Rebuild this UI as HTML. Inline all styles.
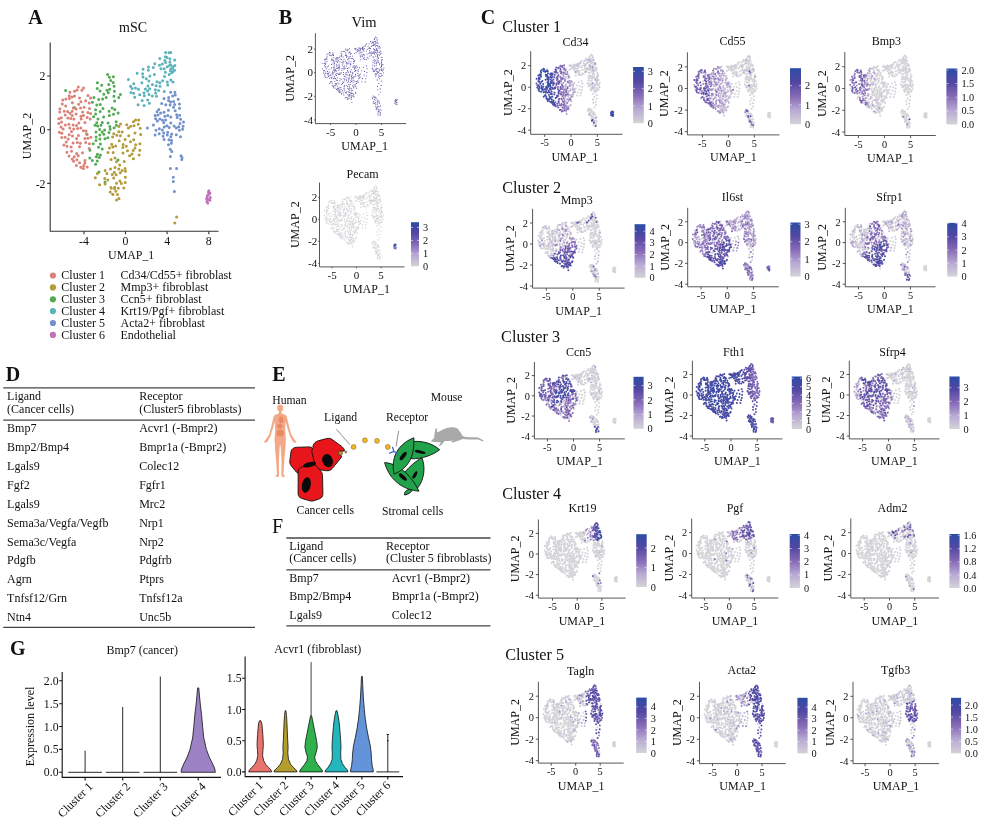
<!DOCTYPE html>
<html><head><meta charset="utf-8"><style>
html,body{margin:0;padding:0;background:#fff;width:984px;height:821px;overflow:hidden}
svg{display:block;filter:blur(0.3px)}
text{font-family:"Liberation Serif","Times New Roman",serif;fill:#111}
</style></head><body>
<svg width="984" height="821" viewBox="0 0 984 821">
<defs><linearGradient id="cbg" x1="0" y1="1" x2="0" y2="0"><stop offset="0.0" stop-color="#d4d3d8"/><stop offset="0.25" stop-color="#b8a9d4"/><stop offset="0.5" stop-color="#866ab6"/><stop offset="0.75" stop-color="#5247a2"/><stop offset="1.0" stop-color="#2c4ca6"/></linearGradient></defs>
<g stroke-width="1.12" stroke-linecap="round"><path d="M344.6 65.7h0" stroke="#7d64b3"/><path d="M354.6 81.0h0M354.5 65.8h0M366.6 43.9h0M377.6 89.7h0M377.2 102.2h0" stroke="#755eaf"/><path d="M353.7 94.5h0M341.5 56.8h0M349.6 78.7h0M332.8 59.3h0M349.5 74.4h0M344.7 90.8h0M343.0 56.9h0M333.0 63.7h0M347.6 50.6h0M337.3 77.7h0M344.5 51.2h0M340.7 73.8h0M354.5 68.9h0M363.4 46.8h0M375.5 46.8h0M373.3 71.6h0M377.9 54.5h0M375.6 60.8h0M380.3 92.3h0M380.5 105.9h0" stroke="#6c58ac"/><path d="M341.3 72.8h0M325.6 73.5h0M355.4 66.9h0M327.1 56.9h0M343.8 82.4h0M351.2 53.5h0M353.0 95.5h0M349.7 90.6h0M358.4 78.7h0M346.1 50.1h0M334.8 81.2h0M339.8 68.7h0M346.3 92.9h0M326.4 68.8h0M353.5 59.2h0M336.2 73.6h0M325.2 62.0h0M336.4 64.2h0M324.5 74.7h0M332.2 73.7h0M344.0 59.2h0M337.9 65.3h0M343.3 66.7h0M331.5 67.9h0M342.1 68.6h0M338.2 60.9h0M358.4 69.8h0M348.8 95.9h0M340.0 56.1h0M340.0 78.5h0M331.4 55.8h0M337.4 86.0h0M346.1 79.6h0M334.6 71.9h0M350.4 56.3h0M349.3 92.2h0M335.9 85.1h0M337.8 83.0h0M324.4 59.9h0M334.4 76.3h0M342.3 65.1h0M337.4 62.4h0M339.7 90.2h0M348.0 49.4h0M352.5 56.0h0M330.6 55.3h0M349.6 94.4h0M351.6 95.9h0M344.1 88.1h0M367.3 49.2h0M359.0 53.7h0M361.6 54.8h0M371.9 51.9h0M361.9 48.2h0M370.7 52.8h0M368.1 46.1h0M375.0 45.5h0M359.4 48.8h0M370.6 41.4h0M374.3 44.6h0M370.6 48.6h0M373.1 52.8h0M373.7 69.9h0M383.6 72.8h0M383.1 64.8h0M381.7 75.8h0M382.8 75.2h0M373.2 53.1h0M374.7 61.3h0M377.2 73.4h0M376.6 48.6h0M377.1 59.1h0M380.0 50.7h0M378.5 58.3h0M372.8 65.1h0M376.0 63.2h0M357.8 51.8h0M354.5 48.8h0M358.6 50.4h0M354.6 53.5h0M356.1 52.6h0M380.2 88.9h0M377.5 86.4h0M378.9 94.8h0M372.6 98.9h0M375.7 104.2h0M380.5 112.9h0M376.2 98.1h0M377.6 100.9h0M378.0 100.0h0M397.1 102.7h0M396.0 102.4h0" stroke="#6353a9"/><path d="M345.9 54.1h0M333.5 55.4h0M352.4 77.5h0M331.8 78.7h0M348.4 92.0h0M346.5 62.6h0M341.4 55.5h0M353.2 82.3h0M343.8 95.0h0M343.1 93.1h0M355.3 84.2h0M335.6 74.7h0M322.6 68.7h0M352.3 75.0h0M359.4 74.9h0M331.6 59.1h0M349.9 96.7h0M323.6 70.8h0M345.4 92.5h0M355.7 92.2h0M334.5 63.6h0M346.9 91.2h0M339.5 67.2h0M327.2 66.9h0M344.1 86.6h0M347.8 82.7h0M350.9 92.5h0M349.5 48.7h0M351.7 81.4h0M351.0 61.7h0M342.7 81.8h0M349.2 58.0h0M351.4 99.2h0M334.0 85.9h0M331.5 81.5h0M349.0 56.7h0M343.1 61.1h0M329.5 55.1h0M350.4 82.2h0M347.9 71.2h0M336.2 71.3h0M340.9 92.1h0M324.5 65.8h0M350.7 84.2h0M347.4 70.3h0M322.8 63.5h0M354.5 61.8h0M333.7 78.6h0M353.1 96.5h0M334.0 68.7h0M339.2 87.2h0M339.8 91.2h0M350.2 52.7h0M332.5 71.8h0M336.1 61.6h0M346.7 85.3h0M326.2 58.4h0M350.8 80.8h0M349.2 77.0h0M350.2 66.0h0M358.1 82.6h0M348.8 84.6h0M346.2 97.4h0M349.2 75.6h0M357.9 75.5h0M337.6 57.5h0M352.8 73.4h0M344.7 85.6h0M355.6 70.4h0M332.1 72.7h0M337.7 73.2h0M345.8 52.8h0M346.4 66.0h0M335.9 59.9h0M348.6 78.8h0M352.5 90.2h0M353.4 63.3h0M347.7 74.8h0M341.5 59.5h0M338.9 83.7h0M331.9 60.4h0M347.3 99.3h0M347.1 56.2h0M346.5 57.3h0M342.6 83.4h0M330.8 74.9h0M374.2 49.6h0M362.7 55.0h0M357.6 51.3h0M376.8 37.8h0M377.8 45.8h0M371.4 55.2h0M369.0 53.4h0M372.1 53.4h0M377.2 39.2h0M375.6 37.1h0M363.2 49.6h0M375.5 52.2h0M373.5 42.8h0M376.8 45.4h0M372.1 45.6h0M371.3 43.0h0M378.0 46.8h0M376.2 49.7h0M376.5 74.8h0M381.8 68.7h0M376.1 52.0h0M376.8 71.6h0M372.9 62.3h0M375.7 56.1h0M373.8 57.3h0M379.6 64.7h0M381.1 69.6h0M376.9 68.4h0M382.5 70.9h0M377.2 50.5h0M376.7 63.8h0M377.2 60.9h0M378.5 62.3h0M378.0 57.4h0M361.8 81.8h0M366.4 65.9h0M366.6 76.0h0M360.4 48.8h0M360.0 50.2h0M355.6 49.8h0M379.5 78.7h0M373.3 102.9h0M374.6 99.8h0M381.1 110.3h0M376.3 109.6h0M377.2 104.8h0M377.9 113.3h0M377.1 107.6h0M379.0 101.2h0M374.2 97.6h0M375.9 100.0h0M378.4 109.6h0M395.8 100.7h0M396.1 99.2h0M397.2 99.8h0M396.9 104.4h0" stroke="#5b4da5"/><path d="M351.6 90.7h0M345.8 49.1h0M341.0 89.4h0M345.1 68.2h0M347.9 94.7h0M338.9 89.9h0M329.4 52.4h0M355.8 68.0h0M337.7 89.9h0M339.9 73.1h0M334.4 62.0h0M329.6 83.2h0M358.2 71.7h0M335.0 88.1h0M350.4 71.3h0M341.9 51.2h0M330.2 53.1h0M354.1 96.8h0M351.2 58.6h0M355.5 74.4h0M329.2 72.1h0M328.4 66.0h0M357.8 73.6h0M327.0 61.2h0M343.9 68.2h0M345.3 97.7h0M347.3 68.5h0M333.8 57.6h0M325.8 63.3h0M350.6 54.1h0M336.6 57.7h0M344.0 78.6h0M346.0 73.7h0M355.4 93.2h0M330.0 75.4h0M331.1 77.6h0M353.7 61.5h0M348.0 62.9h0M350.9 93.9h0M348.9 67.9h0M353.9 84.7h0M339.9 80.7h0M349.9 98.3h0M343.5 72.5h0M350.7 64.4h0M339.9 61.8h0M354.3 60.2h0M339.1 64.1h0M354.9 71.4h0M335.5 78.6h0M355.8 76.0h0M355.1 85.9h0M351.3 78.0h0M353.2 78.7h0M333.1 86.3h0M357.3 67.2h0M345.7 61.1h0M338.9 68.1h0M329.1 69.3h0M333.2 61.7h0M349.9 87.7h0M343.8 62.0h0M344.3 76.2h0M348.2 72.5h0M342.0 62.4h0M341.4 93.9h0M327.0 77.6h0M350.8 72.2h0M325.4 59.6h0M348.5 58.7h0M336.6 75.5h0M333.4 67.2h0M358.7 76.1h0M352.8 93.2h0M349.5 86.1h0M325.4 77.2h0M349.9 88.9h0M346.5 63.8h0M332.9 52.9h0M334.1 65.1h0M333.3 60.6h0M351.4 97.6h0M325.3 64.2h0M349.5 51.9h0M325.3 66.9h0M351.5 88.7h0M327.4 71.4h0M345.4 55.5h0M339.8 92.6h0M352.6 58.5h0M353.7 86.7h0M346.9 77.8h0M339.5 66.1h0M335.4 83.6h0M335.9 58.5h0M338.8 88.4h0M342.7 90.9h0M347.9 88.2h0M353.8 87.9h0M328.6 73.6h0M331.5 64.4h0M350.1 63.6h0M332.2 83.1h0M339.2 57.2h0M366.2 51.0h0M371.3 46.5h0M360.4 49.7h0M367.1 54.0h0M373.0 41.2h0M374.8 41.8h0M368.2 58.2h0M363.8 50.9h0M360.7 52.8h0M362.0 52.1h0M369.7 50.6h0M362.3 49.5h0M377.1 49.2h0M364.4 59.3h0M374.4 53.3h0M369.1 43.7h0M378.1 43.1h0M368.9 48.2h0M363.3 58.6h0M369.9 56.1h0M357.7 49.2h0M375.9 42.8h0M364.2 57.2h0M363.5 54.6h0M380.8 67.3h0M381.5 65.4h0M381.1 53.2h0M374.3 71.4h0M379.6 76.3h0M377.7 72.3h0M382.0 64.4h0M380.4 54.2h0M379.2 55.1h0M380.1 47.9h0M381.8 57.4h0M378.7 75.0h0M381.5 66.6h0M377.3 56.6h0M381.6 60.1h0M380.8 51.8h0M381.6 70.5h0M376.7 53.8h0M375.7 73.6h0M376.9 62.4h0M374.1 63.1h0M380.1 73.4h0M374.7 50.0h0M378.4 77.0h0M383.4 69.8h0M377.6 55.5h0M379.9 63.6h0M375.1 70.2h0M363.4 67.2h0M362.5 78.6h0M365.8 78.8h0M361.7 70.8h0M365.2 81.9h0M364.1 75.1h0M360.1 77.1h0M357.0 50.0h0M355.8 48.4h0M359.8 51.8h0M381.2 81.1h0M375.4 102.8h0M380.5 114.0h0M377.9 106.4h0M375.7 106.3h0M373.3 96.1h0M395.5 101.6h0M396.0 104.1h0M396.7 100.6h0" stroke="#5247a2"/><path d="M346.1 74.9h0M332.3 55.0h0M335.8 70.4h0M338.4 74.4h0M338.0 58.6h0M341.9 54.1h0M347.9 63.9h0M344.7 67.0h0M352.5 85.8h0M343.6 51.5h0M356.6 88.3h0M336.5 80.1h0M337.2 59.9h0M357.1 70.5h0M328.0 74.9h0M329.6 78.2h0M348.2 98.9h0M353.6 77.1h0M336.4 68.2h0M351.4 76.4h0M337.6 80.2h0M348.5 80.0h0M356.3 65.9h0M351.2 69.8h0M348.7 81.8h0M326.8 54.8h0M324.6 70.6h0M328.6 76.4h0M351.9 102.2h0M338.8 70.1h0M353.1 80.5h0M357.9 80.8h0M347.7 59.3h0M344.1 89.1h0M341.9 70.2h0M323.4 73.0h0M338.7 91.8h0M341.3 79.2h0M338.4 67.0h0M334.8 70.1h0M336.5 83.9h0M327.0 59.3h0M344.3 79.9h0M352.7 72.3h0M327.3 73.4h0M333.7 70.1h0M333.1 54.2h0M337.6 68.1h0M348.8 53.0h0M349.8 95.5h0M356.5 83.4h0M334.3 67.1h0M330.5 81.9h0M355.9 86.7h0M351.1 75.0h0M365.3 45.0h0M365.1 46.3h0M375.7 41.4h0M369.6 47.3h0M362.2 56.6h0M377.0 42.9h0M374.3 39.6h0M373.3 45.4h0M367.2 57.3h0M374.7 38.6h0M360.7 56.9h0M369.9 52.2h0M373.8 48.7h0M371.0 53.8h0M379.3 69.3h0M382.5 59.7h0M381.3 73.8h0M379.2 52.4h0M381.5 61.7h0M373.0 56.8h0M378.8 61.0h0M374.1 52.3h0M374.8 59.7h0M379.5 70.6h0M373.3 60.2h0M383.9 68.0h0M381.6 62.9h0M372.2 68.1h0M377.6 51.9h0M377.8 68.6h0M378.9 48.0h0M378.6 72.2h0M380.8 76.8h0M359.5 67.7h0M360.7 74.0h0M366.9 72.6h0M378.8 83.5h0M379.1 106.8h0M380.2 109.0h0M378.2 111.6h0M372.3 97.8h0M373.8 101.5h0M376.2 107.9h0M380.0 115.3h0M374.4 103.5h0M377.8 102.9h0M378.1 114.9h0M379.1 111.9h0M395.3 99.8h0" stroke="#4c48a3"/><path d="M333.6 87.8h0M347.7 86.6h0M345.1 76.8h0M353.0 67.1h0M335.0 85.6h0M334.6 78.0h0M343.0 63.7h0M357.1 81.8h0M354.9 76.6h0M332.9 74.8h0M341.0 53.1h0M324.6 63.3h0M353.3 66.0h0M346.5 80.8h0M349.0 61.0h0M340.1 59.1h0M325.2 72.0h0M337.4 88.2h0M328.0 53.8h0M356.2 81.5h0M347.7 97.8h0M324.9 75.9h0M359.6 77.9h0M339.6 74.5h0M340.9 87.6h0M335.2 69.2h0M344.0 69.3h0M336.7 66.1h0M360.7 59.7h0M364.2 48.6h0M376.0 50.4h0M377.2 40.7h0M366.1 59.4h0M364.5 55.0h0M375.2 43.9h0M362.5 47.4h0M369.7 48.5h0M374.0 51.5h0M362.7 48.4h0M373.3 44.0h0M375.0 74.7h0M376.4 69.7h0M375.7 76.3h0M372.5 69.0h0M374.4 66.1h0M379.5 46.5h0M377.9 71.3h0M374.7 54.0h0M376.1 65.6h0M364.5 71.4h0M367.1 68.7h0M358.8 47.7h0M381.1 85.4h0M379.0 110.7h0M374.9 96.7h0M377.0 108.8h0M379.6 103.1h0" stroke="#4549a3"/><path d="M336.5 89.2h0M341.3 84.5h0M331.9 77.0h0M351.8 93.4h0M333.4 73.0h0M332.2 85.2h0M343.4 74.5h0M346.3 55.6h0M346.0 72.5h0M351.8 79.1h0M360.1 48.0h0M360.2 55.8h0M375.3 69.0h0M377.2 79.9h0M375.4 97.7h0M394.9 101.0h0" stroke="#3f4aa4"/><path d="M354.6 67.7h0M348.7 89.1h0M372.6 42.6h0" stroke="#394aa5"/><path d="M394.8 103.3h0" stroke="#324ba5"/></g>
<path d="M315.4 33.2V123.6H406.1" fill="none" stroke="#444" stroke-width="0.9"/>
<text x="330.6" y="135.6" font-size="11" text-anchor="middle" >-5</text>
<text x="356.1" y="135.6" font-size="11" text-anchor="middle" >0</text>
<text x="381.6" y="135.6" font-size="11" text-anchor="middle" >5</text>
<text x="313.1" y="52.8" font-size="11" text-anchor="end" >2</text>
<text x="313.1" y="76.4" font-size="11" text-anchor="end" >0</text>
<text x="313.1" y="100.0" font-size="11" text-anchor="end" >-2</text>
<text x="313.1" y="123.6" font-size="11" text-anchor="end" >-4</text>
<path d="M330.6 123.6v1.3M356.1 123.6v1.3M381.6 123.6v1.3M315.4 49.1h-1.3M315.4 72.7h-1.3M315.4 96.3h-1.3M315.4 119.9h-1.3" stroke="#444" stroke-width="0.9"/>
<text x="364.7" y="150.1" font-size="12" text-anchor="middle" >UMAP_1</text>
<text x="0" y="0" font-size="12" text-anchor="middle" transform="translate(294.4,78.4) rotate(-90)">UMAP_2</text>
<text x="364.0" y="26.8" font-size="14.5" text-anchor="middle" >Vim</text>
<g stroke-width="1.44" stroke-linecap="round"><path d="M346.8 202.0h0M352.3 236.0h0M334.9 203.2h0M353.1 223.7h0M335.0 233.3h0M333.2 224.9h0M342.4 219.4h0M346.7 197.3h0M346.9 221.4h0M342.1 234.9h0M349.2 237.3h0M354.3 239.6h0M333.7 202.8h0M342.6 204.5h0M347.3 209.8h0M327.3 220.0h0M342.5 203.3h0M337.1 217.1h0M353.8 228.2h0M346.1 215.1h0M348.7 239.8h0M340.0 235.3h0M348.5 232.2h0M355.9 213.9h0M328.7 204.6h0M344.8 240.1h0M331.0 200.4h0M344.1 238.3h0M356.3 214.9h0M344.8 228.4h0M339.0 235.3h0M341.0 219.7h0M335.7 209.4h0M339.6 220.9h0M355.9 230.0h0M345.5 212.8h0M336.9 221.1h0M351.9 201.4h0M353.6 240.5h0M339.3 206.1h0M324.4 215.6h0M352.9 221.4h0M350.5 236.0h0M331.2 229.0h0M358.6 218.4h0M336.4 233.7h0M358.8 224.9h0M359.8 221.3h0M343.0 202.0h0M351.1 218.0h0M342.9 199.2h0M333.1 206.6h0M348.7 211.1h0M347.0 198.2h0M336.1 227.3h0M331.7 201.0h0M354.7 241.8h0M346.0 223.2h0M345.7 214.0h0M341.0 215.6h0M347.2 238.1h0M351.9 206.1h0M350.6 241.7h0M356.0 220.9h0M330.8 218.7h0M325.3 217.5h0M330.0 213.1h0M358.3 220.2h0M353.6 214.1h0M346.3 237.8h0M336.3 231.3h0M328.0 215.7h0M353.1 231.6h0M328.6 208.6h0M356.2 237.5h0M344.9 215.1h0M346.2 242.6h0M348.1 215.4h0M354.1 206.7h0M335.9 210.8h0M347.7 236.6h0M344.6 199.5h0M337.8 234.6h0M340.6 214.1h0M328.8 213.9h0M337.5 220.1h0M336.0 224.3h0M326.9 209.3h0M345.1 232.3h0M357.1 233.8h0M335.1 205.2h0M337.7 211.4h0M327.5 210.6h0M348.6 228.7h0M326.3 221.2h0M351.6 237.8h0M333.7 220.3h0M351.3 202.0h0M350.3 196.9h0M352.4 227.4h0M351.7 209.0h0M350.3 224.9h0M337.8 226.2h0M343.8 227.8h0M344.0 210.9h0M337.9 205.3h0M357.6 227.8h0M350.0 205.6h0M345.0 224.8h0M352.1 244.0h0M335.4 231.6h0M332.9 227.5h0M355.4 222.9h0M334.3 221.3h0M346.9 220.3h0M338.4 207.4h0M355.9 238.4h0M331.5 221.8h0M342.1 201.1h0M332.6 223.9h0M354.3 208.9h0M349.8 204.4h0M348.9 210.2h0M351.6 239.1h0M357.6 217.2h0M329.6 221.4h0M345.0 206.7h0M334.2 206.8h0M349.6 214.8h0M339.1 212.4h0M354.5 230.5h0M344.1 208.5h0M326.3 210.6h0M341.1 226.7h0M350.3 220.9h0M350.7 243.2h0M344.5 219.2h0M345.6 236.2h0M331.1 202.9h0M331.2 224.4h0M351.4 211.6h0M353.9 213.1h0M347.4 226.9h0M351.2 228.2h0M341.0 209.2h0M342.4 230.3h0M354.8 207.6h0M340.3 211.3h0M355.4 218.1h0M344.3 213.8h0M348.7 217.9h0M336.8 224.8h0M337.5 218.0h0M356.3 222.4h0M349.0 243.7h0M355.6 231.6h0M342.0 237.4h0M354.2 223.4h0M352.0 224.2h0M349.8 208.4h0M353.8 224.9h0M326.2 212.8h0M332.9 214.8h0M337.7 215.1h0M333.4 223.3h0M343.1 215.5h0M334.5 231.9h0M339.4 208.3h0M352.0 222.7h0M357.7 214.2h0M346.6 208.5h0M351.4 230.0h0M340.1 215.0h0M330.7 216.2h0M338.8 226.3h0M348.2 217.0h0M358.8 216.6h0M324.6 210.7h0M349.3 226.1h0M355.1 209.1h0M335.0 224.8h0M356.8 213.0h0M355.2 227.0h0M349.6 240.9h0M353.7 241.5h0M344.1 204.5h0M351.9 216.6h0M335.4 215.6h0M334.6 209.0h0M349.5 227.8h0M350.7 233.3h0M341.1 203.9h0M340.3 232.9h0M341.0 236.6h0M351.0 200.7h0M333.9 218.4h0M328.5 202.6h0M341.3 206.7h0M326.4 217.3h0M337.4 208.9h0M326.9 218.7h0M347.6 231.0h0M344.8 209.3h0M345.2 222.6h0M338.7 233.8h0M349.1 219.1h0M327.8 206.0h0M330.2 222.8h0M343.1 209.7h0M352.5 246.8h0M342.5 239.1h0M328.7 223.9h0M351.6 226.8h0M339.9 216.9h0M350.0 223.3h0M350.9 213.0h0M353.7 226.6h0M358.5 228.6h0M358.3 226.9h0M341.2 224.7h0M351.5 218.8h0M348.5 206.8h0M345.1 234.6h0M343.0 217.0h0M349.6 230.4h0M325.2 219.6h0M339.8 237.1h0M347.1 242.4h0M329.6 201.7h0M327.1 207.1h0M349.3 206.3h0M332.9 203.5h0M338.7 231.7h0M350.0 222.0h0M358.3 221.9h0M342.4 225.4h0M338.8 205.2h0M339.6 214.0h0M337.9 221.9h0M334.7 214.2h0M359.1 222.5h0M334.4 211.0h0M336.1 216.9h0M353.5 220.0h0M337.8 229.7h0M348.4 198.7h0M353.4 238.4h0M328.6 206.8h0M345.3 226.0h0M338.5 224.0h0M350.2 231.8h0M356.7 227.5h0M348.5 242.7h0M327.1 223.5h0M345.6 231.3h0M353.4 219.0h0M329.0 220.0h0M347.0 225.7h0M350.7 234.4h0M352.4 238.6h0M347.3 211.0h0M334.3 200.8h0M335.5 212.2h0M326.6 222.3h0M335.1 216.9h0M336.0 218.6h0M334.7 208.0h0M334.5 202.1h0M334.8 219.6h0M351.1 204.0h0M359.9 224.1h0M352.1 242.5h0M350.1 237.5h0M333.6 231.0h0M356.1 217.1h0M345.4 199.2h0M338.8 215.0h0M333.5 219.3h0M327.0 211.4h0M349.6 201.0h0M350.5 240.5h0M344.4 221.0h0M337.2 230.9h0M338.9 219.7h0M350.2 199.9h0M340.8 221.0h0M339.0 228.9h0M342.0 233.2h0M336.5 216.1h0M356.9 229.2h0M347.2 203.3h0M326.2 207.4h0M335.7 214.1h0M327.0 213.9h0M345.0 216.2h0M346.7 200.7h0M352.2 234.2h0M335.7 222.7h0M343.3 212.2h0M347.3 213.1h0M338.0 213.1h0M332.0 227.9h0M337.2 207.4h0M329.1 218.1h0M346.3 203.3h0M349.4 225.0h0M353.1 235.6h0M340.9 237.9h0M338.7 209.7h0M340.9 235.6h0M353.2 206.0h0M354.0 210.5h0M354.3 232.4h0M348.5 221.2h0M355.1 212.9h0M348.8 197.6h0M342.5 207.0h0M340.1 229.5h0M355.2 214.6h0M347.8 224.1h0M333.3 207.9h0M341.8 220.3h0M340.7 213.2h0M336.7 229.5h0M355.1 215.8h0M348.1 244.1h0M337.2 206.0h0M340.0 233.9h0M343.8 236.2h0M356.4 232.3h0M348.0 203.9h0M353.1 203.7h0M348.7 233.7h0M354.4 233.5h0M346.9 219.1h0M332.1 203.1h0M351.8 221.4h0M350.3 239.5h0M349.5 234.6h0M352.3 240.9h0M347.4 205.0h0M330.2 220.1h0M332.9 211.6h0M350.8 210.8h0M345.0 233.7h0M333.6 229.0h0M352.5 225.3h0M343.6 229.3h0M332.3 221.4h0M340.4 204.8h0M361.0 207.2h0M365.4 193.5h0M367.4 197.4h0M374.0 197.8h0M366.3 199.1h0M359.4 201.6h0M361.9 202.6h0M360.5 196.3h0M363.0 202.8h0M364.4 196.9h0M375.7 198.5h0M371.2 194.9h0M365.3 194.7h0M358.0 199.3h0M376.4 186.8h0M376.9 189.5h0M366.2 206.9h0M371.8 199.9h0M375.4 190.2h0M377.5 194.2h0M371.3 203.0h0M369.0 201.3h0M360.8 197.9h0M369.6 195.7h0M371.9 201.3h0M364.7 202.8h0M362.5 204.3h0M376.9 188.1h0M367.2 201.9h0M363.7 195.1h0M372.9 189.9h0M375.3 186.1h0M362.2 196.4h0M376.7 191.5h0M363.4 197.8h0M375.2 200.2h0M374.6 190.5h0M370.7 200.8h0M368.1 194.5h0M368.2 205.8h0M375.0 192.5h0M374.1 188.4h0M364.0 199.0h0M361.1 200.8h0M362.3 200.1h0M369.7 198.7h0M374.8 193.9h0M362.6 197.7h0M362.8 195.7h0M373.2 193.8h0M376.7 197.4h0M367.3 205.0h0M373.4 191.4h0M374.4 187.5h0M359.8 197.0h0M361.1 204.6h0M364.6 206.8h0M366.7 192.4h0M376.5 193.9h0M369.7 196.8h0M374.1 201.2h0M369.1 192.3h0M373.8 199.6h0M377.8 191.7h0M368.9 196.4h0M371.9 194.0h0M363.5 206.2h0M370.5 190.1h0M369.8 200.2h0M363.0 196.7h0M360.6 203.5h0M374.1 193.1h0M373.6 196.9h0M371.2 191.6h0M369.9 203.8h0M370.9 201.7h0M358.1 197.4h0M373.2 192.6h0M370.6 196.9h0M375.6 191.4h0M375.3 195.1h0M372.9 200.8h0M372.5 191.2h0M364.4 204.9h0M363.7 202.4h0M380.3 214.3h0M378.8 216.1h0M381.0 212.5h0M377.7 195.2h0M380.6 201.2h0M375.9 197.9h0M382.0 207.2h0M380.8 220.3h0M373.5 216.6h0M378.8 200.3h0M381.0 209.0h0M376.2 221.2h0M372.9 204.5h0M383.0 219.4h0M378.4 208.4h0M381.2 215.6h0M374.0 218.1h0M374.8 221.2h0M375.8 200.0h0M379.2 222.7h0M373.9 200.3h0M377.3 218.9h0M382.5 212.0h0M374.5 207.2h0M376.1 216.5h0M375.4 222.7h0M381.5 211.6h0M379.1 217.3h0M380.0 202.1h0M378.8 202.9h0M379.7 196.2h0M373.1 207.6h0M373.1 218.3h0M381.2 222.2h0M376.5 218.2h0M382.2 221.7h0M381.3 205.1h0M378.3 221.4h0M381.0 213.6h0M383.3 214.9h0M377.0 204.3h0M373.1 201.1h0M374.5 208.6h0M372.8 209.6h0M376.9 220.0h0M381.1 207.5h0M375.5 203.8h0M373.6 204.9h0M380.3 199.8h0M372.3 215.9h0M381.1 217.2h0M381.1 210.2h0M376.4 201.7h0M375.4 220.2h0M372.0 215.0h0M374.2 213.1h0M377.2 199.9h0M376.6 209.7h0M377.4 215.5h0M379.1 194.9h0M377.6 218.0h0M376.3 196.8h0M375.1 215.9h0M373.9 210.3h0M379.7 219.9h0M376.8 206.6h0M378.5 196.3h0M377.6 202.3h0M374.4 198.1h0M378.3 218.8h0M380.3 223.1h0M379.2 211.8h0M380.6 216.4h0M378.0 223.3h0M376.6 215.3h0M379.6 198.8h0M382.9 216.6h0M377.2 203.2h0M374.4 201.8h0M379.5 210.8h0M382.0 217.6h0M378.1 205.9h0M375.3 208.2h0M376.9 198.6h0M376.4 211.0h0M372.6 212.2h0M376.8 208.3h0M374.8 216.9h0M378.1 209.6h0M377.7 205.0h0M375.7 210.5h0M375.9 212.6h0M363.6 214.2h0M362.1 227.8h0M359.8 214.7h0M362.7 224.8h0M366.5 212.9h0M365.9 225.0h0M361.0 220.5h0M362.0 217.6h0M364.7 218.1h0M365.4 227.9h0M366.7 222.4h0M367.2 215.5h0M364.3 221.5h0M367.0 219.2h0M360.4 223.4h0M358.3 199.8h0M360.7 197.0h0M360.4 198.3h0M359.2 196.0h0M355.0 197.0h0M356.1 197.9h0M357.5 198.1h0M359.0 198.5h0M356.3 196.6h0M360.2 199.8h0M355.1 201.4h0M356.6 200.5h0M380.7 227.2h0M379.9 237.6h0M376.9 226.0h0M378.4 229.4h0M379.7 234.4h0M377.2 232.0h0M378.5 239.9h0M377.2 235.2h0M380.6 231.1h0M379.1 224.9h0M373.2 247.5h0M375.1 247.3h0M374.4 244.5h0M378.7 251.1h0M380.6 254.4h0M376.0 253.7h0M376.8 249.3h0M377.6 257.2h0M380.0 257.8h0M377.5 250.8h0M372.5 243.7h0M378.6 254.7h0M379.7 253.1h0M375.5 248.6h0M374.6 241.7h0M376.8 251.8h0M378.6 245.9h0M375.4 250.7h0M374.0 242.6h0M377.8 255.5h0M373.1 241.1h0M380.1 256.8h0M376.0 243.0h0M377.3 245.6h0M372.2 242.7h0M373.6 246.1h0M375.9 252.1h0M379.6 259.0h0M375.1 242.6h0M374.2 248.0h0M377.5 247.5h0M380.0 250.3h0M375.6 244.8h0M376.7 252.9h0M377.6 244.7h0M378.0 253.7h0M376.9 246.8h0M379.2 247.6h0M377.7 258.7h0M378.7 255.8h0" stroke="#d4d3d8"/><path d="M394.9 248.6h0" stroke="#6353a9"/><path d="M395.0 244.0h0M396.1 244.6h0" stroke="#5247a2"/><path d="M396.0 247.3h0" stroke="#4c48a3"/><path d="M394.9 247.0h0" stroke="#4549a3"/><path d="M394.8 245.4h0M393.8 247.9h0M395.6 245.3h0" stroke="#3f4aa4"/><path d="M394.5 246.2h0M395.8 248.8h0" stroke="#394aa5"/><path d="M393.8 245.7h0M394.2 244.6h0" stroke="#2c4ca6"/></g>
<path d="M319.5 182.5V266.9H404.6" fill="none" stroke="#444" stroke-width="0.9"/>
<text x="332.1" y="278.9" font-size="11" text-anchor="middle" >-5</text>
<text x="356.6" y="278.9" font-size="11" text-anchor="middle" >0</text>
<text x="381.1" y="278.9" font-size="11" text-anchor="middle" >5</text>
<text x="317.2" y="201.0" font-size="11" text-anchor="end" >2</text>
<text x="317.2" y="223.0" font-size="11" text-anchor="end" >0</text>
<text x="317.2" y="245.0" font-size="11" text-anchor="end" >-2</text>
<text x="317.2" y="267.0" font-size="11" text-anchor="end" >-4</text>
<path d="M332.1 266.9v1.3M356.6 266.9v1.3M381.1 266.9v1.3M319.5 197.3h-1.3M319.5 219.3h-1.3M319.5 241.3h-1.3M319.5 263.3h-1.3" stroke="#444" stroke-width="0.9"/>
<text x="366.6" y="293.4" font-size="12" text-anchor="middle" >UMAP_1</text>
<text x="0" y="0" font-size="12" text-anchor="middle" transform="translate(298.5,224.7) rotate(-90)">UMAP_2</text>
<text x="362.6" y="178.0" font-size="12" text-anchor="middle" >Pecam</text>
<rect x="411" y="222.2" width="8" height="44.1" fill="url(#cbg)"/>
<text x="423.0" y="269.9" font-size="10.3" text-anchor="start" >0</text>
<text x="423.0" y="256.9" font-size="10.3" text-anchor="start" >1</text>
<text x="423.0" y="244.0" font-size="10.3" text-anchor="start" >2</text>
<text x="423.0" y="231.0" font-size="10.3" text-anchor="start" >3</text>
<path d="M411.0 253.3h2M417.0 253.3h2M411.0 240.4h2M417.0 240.4h2M411.0 227.4h2M417.0 227.4h2" stroke="#fff" stroke-width="0.7" opacity="0.8"/>
<g stroke-width="2.0" stroke-linecap="round"><path d="M568.3 74.9h0M553.9 82.1h0M558.7 99.9h0M568.1 81.1h0M545.6 82.8h0M558.4 77.4h0M562.3 75.0h0M555.7 93.1h0M573.6 90.3h0M547.1 69.2h0M555.3 100.8h0M550.2 75.5h0M568.3 78.6h0M555.9 75.2h0M553.2 97.2h0M553.9 81.2h0M553.6 73.1h0M582.5 65.8h0M576.6 70.9h0M575.1 64.7h0M579.4 65.3h0M591.5 66.9h0M586.7 63.3h0M592.3 55.4h0M591.2 58.7h0M593.4 62.7h0M586.7 71.3h0M584.3 69.6h0M575.5 66.3h0M584.9 64.1h0M587.5 69.6h0M579.6 71.1h0M577.3 72.5h0M592.8 56.7h0M582.3 70.2h0M578.6 63.6h0M591.1 54.8h0M577.0 64.8h0M592.5 60.1h0M578.4 66.2h0M591.0 68.5h0M590.3 59.0h0M586.1 69.1h0M583.4 63.0h0M583.5 74.0h0M589.8 57.0h0M578.9 67.3h0M575.8 69.1h0M585.0 67.0h0M590.5 62.4h0M592.6 65.8h0M582.5 73.2h0M590.2 56.2h0M575.8 72.8h0M581.8 61.0h0M589.8 69.5h0M589.5 67.9h0M578.4 74.4h0M586.0 58.7h0M585.2 68.5h0M577.8 65.1h0M589.8 61.6h0M586.4 70.0h0M572.7 65.8h0M588.8 61.1h0M586.0 65.3h0M591.4 59.9h0M588.5 69.1h0M588.0 59.8h0M578.7 70.7h0M593.6 63.6h0M596.8 69.5h0M591.8 66.3h0M596.9 88.2h0M589.2 84.6h0M594.9 68.7h0M592.1 89.1h0M588.5 72.8h0M594.4 76.5h0M597.5 83.6h0M589.7 86.0h0M590.5 89.0h0M595.2 90.5h0M593.2 86.8h0M598.8 80.0h0M590.3 75.4h0M591.9 84.4h0M597.7 79.6h0M594.8 71.1h0M595.8 64.6h0M588.7 75.8h0M597.4 90.0h0M599.7 82.9h0M592.9 72.5h0M588.7 69.4h0M588.3 77.7h0M597.3 75.7h0M591.3 72.1h0M589.3 73.1h0M596.5 68.1h0M587.9 83.8h0M597.3 85.2h0M597.3 78.3h0M591.2 88.0h0M589.9 81.2h0M592.4 77.8h0M593.4 83.5h0M593.5 85.9h0M592.1 65.2h0M589.6 78.4h0M595.7 87.8h0M592.7 74.8h0M594.3 86.7h0M596.8 84.3h0M594.0 91.1h0M595.6 67.2h0M599.2 84.6h0M593.1 71.5h0M598.3 85.5h0M591.1 76.3h0M592.3 79.1h0M588.2 80.3h0M592.7 76.5h0M590.6 84.9h0M593.6 73.2h0M591.5 78.6h0M591.7 80.7h0M578.5 82.2h0M576.9 95.5h0M577.6 92.6h0M581.6 81.0h0M581.0 92.8h0M575.8 88.4h0M576.8 85.5h0M579.7 86.0h0M580.4 95.6h0M579.2 89.4h0M582.1 87.1h0M575.1 91.2h0M572.8 68.2h0M575.5 65.4h0M575.1 66.7h0M573.8 64.4h0M569.3 65.4h0M571.9 66.5h0M573.6 66.9h0M570.7 65.1h0M569.4 69.7h0M571.0 68.8h0M596.0 105.1h0M592.8 93.7h0M594.4 97.0h0M595.8 102.0h0M594.5 107.4h0M593.2 102.7h0M596.7 98.8h0M595.2 92.6h0M590.1 111.9h0M594.8 118.3h0M596.8 121.5h0M593.5 124.2h0M596.1 124.8h0M588.0 111.1h0M594.6 121.8h0M595.8 120.2h0M591.3 115.9h0M590.4 109.1h0M592.7 118.9h0M594.6 113.2h0M591.2 117.8h0M596.2 123.9h0M591.8 110.4h0M593.2 112.9h0M587.7 110.1h0M591.7 119.2h0M590.9 110.0h0M589.9 115.2h0M593.4 114.7h0M591.4 112.1h0M593.5 112.0h0M594.0 120.8h0M592.8 114.1h0M595.2 114.9h0M593.7 125.7h0M594.7 122.9h0" stroke="#d4d3d8"/><path d="M570.4 88.8h0M570.2 105.8h0M568.7 98.1h0M570.5 85.1h0M575.7 75.4h0M580.5 62.0h0M589.7 66.1h0M581.4 67.4h0M574.0 69.9h0M572.5 67.7h0M592.8 58.0h0M581.4 75.0h0M588.5 58.5h0M588.8 62.3h0M574.4 65.4h0M579.6 75.0h0M592.3 62.3h0M584.2 64.9h0M591.0 63.6h0M596.5 82.3h0M594.9 84.1h0M597.2 80.5h0M591.6 68.3h0M589.5 68.6h0M591.2 90.5h0M595.1 85.3h0M596.1 70.4h0M588.8 86.2h0M598.5 89.5h0M594.3 89.3h0M590.2 76.8h0M587.6 83.0h0M590.1 70.1h0M594.1 74.1h0M594.1 77.7h0M574.5 82.7h0M581.8 90.2h0M570.5 66.3h0M574.8 68.1h0M596.9 94.9h0M590.9 114.6h0M592.7 116.5h0M593.5 117.9h0M589.7 109.9h0M588.8 108.5h0" stroke="#cfccd7"/><path d="M566.4 103.6h0M570.3 81.9h0M570.2 97.7h0M573.2 86.3h0M571.5 101.4h0M572.0 85.2h0M566.2 101.8h0M577.8 71.1h0M577.1 68.4h0M585.1 65.2h0M587.5 62.5h0M579.4 73.1h0M592.3 86.2h0M590.8 83.9h0M596.4 90.9h0M582.4 83.5h0M588.8 114.7h0" stroke="#cbc5d7"/><path d="M567.2 91.5h0M565.1 85.9h0M572.8 88.0h0M565.8 77.2h0M566.1 111.4h0M569.1 75.8h0M568.4 91.2h0M572.2 82.2h0M573.1 96.2h0M580.3 63.2h0M586.7 60.1h0M598.2 75.4h0M597.2 77.2h0M599.4 87.3h0M597.1 81.6h0M592.3 70.0h0M593.1 68.3h0M593.1 99.6h0" stroke="#c6bed6"/><path d="M568.0 95.9h0M567.1 89.3h0M572.0 95.5h0M564.2 88.8h0M570.7 90.2h0M565.4 97.7h0M569.4 77.3h0M569.5 94.7h0M567.6 105.9h0M571.1 95.2h0M566.5 106.0h0M587.3 68.2h0M590.7 61.0h0M577.4 66.1h0M577.6 64.1h0M584.5 60.8h0M597.5 73.3h0M592.8 87.9h0M594.5 64.7h0M589.3 113.4h0" stroke="#c1b7d5"/><path d="M566.0 69.7h0M574.4 89.2h0M568.9 109.1h0M570.6 104.9h0M569.7 90.7h0M568.0 92.7h0M572.9 94.6h0M564.6 102.0h0M569.4 83.8h0M593.5 70.6h0" stroke="#bdb0d5"/><path d="M570.7 82.9h0M561.9 83.4h0M573.3 84.6h0M566.0 84.6h0M565.5 86.7h0M562.4 110.0h0M565.1 72.3h0M566.6 93.0h0M589.0 60.0h0M593.7 60.2h0M590.2 66.5h0M595.3 79.9h0M595.6 78.9h0" stroke="#b8a9d4"/><path d="M562.3 99.8h0M567.2 99.2h0M563.5 82.8h0M563.7 76.5h0M571.2 81.0h0M564.9 69.0h0M566.6 114.1h0M563.1 74.5h0M572.8 89.7h0M574.6 91.9h0M564.5 107.9h0M559.9 71.5h0M569.4 80.9h0M569.4 82.7h0M568.6 101.0h0M575.3 71.8h0M589.3 65.3h0M585.3 72.0h0" stroke="#b09ecf"/><path d="M568.5 107.1h0M573.3 92.7h0M564.6 109.1h0M565.7 105.3h0M566.5 95.1h0M564.3 92.7h0M565.4 79.7h0M567.5 86.9h0M568.5 100.0h0M570.8 99.9h0M564.8 78.9h0M595.1 63.3h0M592.5 83.3h0M592.8 67.0h0M596.1 117.5h0" stroke="#a794ca"/><path d="M559.7 83.1h0M563.9 73.8h0M565.6 106.5h0M559.2 103.7h0M564.6 100.9h0M563.9 91.2h0M563.9 89.8h0M564.2 99.4h0M563.5 69.3h0M567.3 72.0h0" stroke="#9f8ac5"/><path d="M560.5 70.3h0M561.1 78.0h0M559.1 80.8h0M567.8 107.9h0M564.4 103.5h0M562.4 96.3h0M568.5 77.0h0M565.2 95.9h0M569.7 86.0h0M562.9 111.1h0M563.2 93.9h0M563.5 108.3h0M564.9 81.1h0M571.4 96.9h0M567.3 103.1h0M567.4 74.2h0M565.8 89.3h0M566.4 108.3h0" stroke="#977fc0"/><path d="M560.4 65.7h0M553.2 102.8h0M562.5 79.2h0M565.9 74.3h0M565.3 70.3h0M538.5 78.6h0M562.5 85.8h0M567.9 108.9h0M563.5 98.1h0M552.8 82.0h0M560.7 93.5h0M561.0 79.1h0M566.2 109.9h0M556.8 80.3h0M562.5 101.3h0M564.3 106.9h0" stroke="#8e74bb"/><path d="M563.1 104.8h0M562.5 107.2h0M556.4 70.3h0M559.9 105.2h0M564.2 65.3h0M560.6 88.1h0M563.7 72.6h0M558.0 87.1h0M570.0 99.2h0M566.1 92.0h0M566.1 90.5h0M560.3 76.7h0M563.4 95.5h0M567.9 94.3h0M559.0 67.6h0M550.2 98.5h0M560.9 71.6h0M561.0 81.1h0M563.3 92.7h0M562.3 89.1h0M561.5 91.9h0M612.3 111.3h0" stroke="#866ab6"/><path d="M560.6 89.2h0M555.4 102.5h0M555.9 72.7h0M558.3 96.1h0M560.9 105.6h0M567.8 82.1h0M559.9 110.0h0M564.6 110.5h0M557.8 81.8h0M562.0 85.0h0M557.5 72.8h0M554.4 72.1h0M556.5 77.8h0M555.9 106.5h0M558.6 102.2h0M562.2 67.0h0M564.2 68.3h0M557.2 103.7h0M561.7 72.2h0M563.4 102.1h0" stroke="#7d64b3"/><path d="M555.7 87.3h0M556.3 67.6h0M560.7 66.6h0M558.5 83.1h0M561.5 104.1h0M558.5 74.9h0M552.5 76.5h0M562.9 87.0h0M560.8 109.7h0M567.6 87.9h0M564.0 105.0h0M557.9 88.9h0M554.0 88.8h0M562.6 66.0h0M613.4 111.9h0" stroke="#755eaf"/><path d="M558.3 107.5h0M554.3 87.6h0M562.7 78.3h0M554.3 77.3h0M553.5 79.4h0M561.3 98.7h0M565.6 94.6h0M547.5 76.2h0M558.6 84.1h0M560.4 69.0h0M561.9 111.4h0M553.2 101.5h0M561.1 73.2h0" stroke="#6c58ac"/><path d="M557.6 105.8h0M549.0 95.0h0M559.6 91.0h0M554.2 83.6h0M537.4 85.5h0M549.2 99.0h0M558.1 67.9h0M545.2 91.7h0M552.2 80.4h0M554.3 94.4h0M549.8 92.5h0M554.4 92.5h0M556.4 84.9h0M539.3 91.3h0M560.6 87.0h0M542.7 88.0h0M595.7 126.0h0M613.1 116.1h0" stroke="#6353a9"/><path d="M536.5 83.6h0M559.3 82.0h0M550.7 79.5h0M557.6 76.6h0M561.1 94.6h0M554.5 74.8h0M547.6 87.5h0M552.0 87.6h0M558.6 101.2h0" stroke="#5b4da5"/><path d="M547.8 100.9h0M543.7 96.7h0M538.4 89.0h0M550.8 93.9h0M557.2 95.5h0M557.4 79.0h0M550.9 73.6h0M547.0 89.1h0M555.7 98.0h0M556.5 83.4h0M553.3 83.0h0M553.5 100.4h0M554.2 104.1h0M558.8 93.8h0M559.2 98.9h0M544.6 95.6h0M554.2 105.4h0M554.1 103.1h0M555.1 88.2h0M557.0 97.0h0M591.9 120.8h0M611.0 113.0h0" stroke="#5247a2"/><path d="M555.9 71.5h0M545.8 74.8h0M541.2 81.9h0M550.5 88.0h0M548.0 73.4h0M546.4 88.2h0M558.5 92.6h0M551.5 75.5h0M543.6 71.2h0M538.4 80.9h0M543.1 84.1h0M558.8 90.4h0M553.0 104.6h0M550.9 89.8h0M538.3 75.5h0M548.6 90.5h0M551.0 81.2h0M544.9 89.2h0M611.0 115.1h0M612.1 114.3h0" stroke="#4c48a3"/><path d="M547.7 71.4h0M546.4 71.1h0M539.5 87.9h0M552.7 88.8h0M548.8 78.9h0M550.8 102.2h0M548.9 92.1h0M546.1 91.1h0M536.6 78.8h0M538.5 85.2h0M553.1 84.9h0M551.7 99.3h0M549.4 84.0h0M548.5 82.1h0M539.2 81.9h0M544.7 71.4h0M545.6 79.7h0M612.0 112.7h0M611.6 113.5h0M611.4 111.9h0" stroke="#4549a3"/><path d="M548.2 99.2h0M545.6 95.2h0M544.1 89.6h0M555.3 104.9h0M539.1 86.6h0M540.1 74.2h0M537.3 87.5h0M539.3 75.3h0M547.5 82.2h0M547.3 70.4h0M546.4 98.6h0M551.9 83.0h0M541.4 86.0h0M551.7 77.8h0M546.3 96.7h0" stroke="#3f4aa4"/><path d="M541.1 72.8h0M549.3 101.3h0M543.3 86.6h0M542.4 81.1h0M541.0 76.7h0M539.1 77.4h0M555.5 69.4h0M547.0 75.0h0M550.5 85.9h0M547.9 92.5h0M550.4 77.1h0M541.0 91.7h0M551.9 73.4h0M547.2 79.0h0M541.0 75.0h0M551.6 91.8h0M541.3 87.9h0M539.2 79.4h0M552.1 96.6h0M546.0 76.0h0M549.6 97.1h0M550.2 74.2h0M593.8 122.6h0M592.6 120.1h0" stroke="#394aa5"/><path d="M545.9 92.7h0M543.5 68.7h0M552.1 102.9h0M549.9 89.0h0M543.7 92.2h0M550.7 83.1h0M551.9 94.0h0M540.8 70.9h0M545.5 71.8h0M549.0 84.9h0M538.8 90.1h0M547.9 84.9h0M548.8 86.5h0M613.3 114.6h0" stroke="#324ba5"/><path d="M550.1 85.1h0M548.6 77.5h0M552.4 74.3h0M544.3 69.4h0M540.3 83.7h0M539.7 78.7h0M542.0 89.2h0M547.3 99.6h0M548.2 83.6h0M547.4 77.2h0M546.6 86.4h0M551.8 101.3h0M542.6 90.6h0M542.0 70.0h0M550.8 97.4h0M548.3 80.3h0M546.2 87.2h0M612.1 115.8h0M612.8 112.6h0" stroke="#2c4ca6"/></g>
<path d="M530.7 51.2V134.3H622.5" fill="none" stroke="#444" stroke-width="0.9"/>
<text x="544.7" y="146.3" font-size="10.3" text-anchor="middle" >-5</text>
<text x="571.0" y="146.3" font-size="10.3" text-anchor="middle" >0</text>
<text x="597.3" y="146.3" font-size="10.3" text-anchor="middle" >5</text>
<text x="526.1" y="69.4" font-size="10.3" text-anchor="end" >2</text>
<text x="526.1" y="90.9" font-size="10.3" text-anchor="end" >0</text>
<text x="526.1" y="112.4" font-size="10.3" text-anchor="end" >-2</text>
<text x="526.1" y="133.9" font-size="10.3" text-anchor="end" >-4</text>
<path d="M544.7 134.3v2.6M571.0 134.3v2.6M597.3 134.3v2.6M530.7 65.7h-2.6M530.7 87.2h-2.6M530.7 108.7h-2.6M530.7 130.2h-2.6" stroke="#444" stroke-width="0.9"/>
<text x="574.8" y="160.8" font-size="12" text-anchor="middle" >UMAP_1</text>
<text x="0" y="0" font-size="12" text-anchor="middle" transform="translate(511.7,92.7) rotate(-90)">UMAP_2</text>
<text x="575.4" y="45.8" font-size="12" text-anchor="middle" >Cd34</text>
<rect x="633.1" y="67" width="10.7" height="56.2" fill="url(#cbg)"/>
<text x="647.8" y="126.8" font-size="10.3" text-anchor="start" >0</text>
<text x="647.8" y="109.5" font-size="10.3" text-anchor="start" >1</text>
<text x="647.8" y="92.2" font-size="10.3" text-anchor="start" >2</text>
<text x="647.8" y="74.9" font-size="10.3" text-anchor="start" >3</text>
<path d="M633.1 105.9h2M641.8 105.9h2M633.1 88.6h2M641.8 88.6h2M633.1 71.3h2M641.8 71.3h2" stroke="#fff" stroke-width="0.7" opacity="0.8"/>
<g stroke-width="2.0" stroke-linecap="round"><path d="M713.3 88.6h0M725.2 109.3h0M710.0 75.6h0M716.8 83.3h0M727.8 90.1h0M725.2 83.4h0M719.4 84.7h0M706.4 80.2h0M698.9 83.2h0M704.1 89.5h0M714.8 96.9h0M715.0 80.2h0M703.3 96.5h0M725.9 78.3h0M715.6 88.4h0M722.6 97.2h0M726.5 77.1h0M708.3 84.4h0M723.6 91.8h0M710.9 84.3h0M700.4 91.9h0M725.3 95.7h0M695.1 88.8h0M720.6 75.7h0M703.2 73.0h0M705.2 83.4h0M721.6 69.5h0M699.2 87.3h0M720.8 94.1h0M702.4 72.6h0M720.9 103.5h0M703.3 80.9h0M702.6 90.5h0M733.0 76.6h0M737.8 63.2h0M739.8 67.0h0M746.9 67.3h0M738.7 68.6h0M731.4 71.1h0M734.0 72.2h0M732.5 65.9h0M735.2 72.3h0M736.7 66.5h0M743.9 64.5h0M737.6 64.4h0M729.9 68.9h0M749.9 59.2h0M738.6 76.3h0M744.5 69.4h0M748.4 59.9h0M750.6 63.8h0M732.8 67.5h0M744.7 70.8h0M736.9 72.3h0M734.6 73.8h0M749.9 57.9h0M739.6 71.4h0M748.3 55.9h0M749.7 61.2h0M735.7 67.4h0M748.2 69.7h0M747.5 60.2h0M743.3 70.3h0M740.6 64.2h0M740.8 75.2h0M747.9 62.2h0M747.0 58.2h0M736.2 68.5h0M733.1 70.3h0M734.5 69.6h0M742.2 68.3h0M747.7 63.6h0M734.8 67.3h0M734.9 65.3h0M749.8 67.0h0M739.8 74.4h0M746.2 61.1h0M747.3 57.3h0M731.8 66.6h0M733.1 74.1h0M736.9 76.3h0M739.1 62.1h0M749.5 63.5h0M742.3 66.4h0M747.0 70.7h0M746.7 69.1h0M750.9 61.4h0M744.7 63.7h0M743.2 59.9h0M742.4 69.7h0M735.2 66.3h0M732.6 73.0h0M747.0 62.8h0M746.5 66.5h0M742.5 73.3h0M743.6 71.2h0M730.0 67.0h0M746.0 62.2h0M743.2 66.5h0M748.6 61.1h0M748.2 64.8h0M745.7 70.3h0M745.3 60.9h0M736.0 71.9h0M753.6 83.6h0M752.0 85.4h0M754.3 81.8h0M750.7 64.8h0M753.9 70.7h0M748.9 67.5h0M746.4 85.9h0M754.3 78.4h0M749.2 90.4h0M745.7 74.0h0M756.5 88.6h0M751.5 77.8h0M754.6 84.9h0M747.7 90.3h0M748.7 69.5h0M752.4 91.8h0M746.7 69.8h0M750.4 88.1h0M755.9 81.3h0M747.4 76.6h0M748.4 91.8h0M754.8 80.9h0M753.2 71.6h0M752.0 72.4h0M752.9 65.8h0M745.9 77.0h0M746.0 87.5h0M754.5 91.3h0M749.5 87.5h0M755.6 90.8h0M754.6 74.5h0M751.5 90.6h0M754.2 82.9h0M756.8 84.2h0M745.5 79.0h0M749.9 89.2h0M754.4 77.0h0M748.4 73.3h0M746.5 74.4h0M745.1 85.1h0M754.4 86.5h0M754.4 79.6h0M748.4 89.4h0M744.8 84.3h0M747.1 82.5h0M750.3 69.5h0M749.6 79.0h0M750.5 84.8h0M752.3 64.5h0M749.3 66.4h0M748.0 85.2h0M746.8 79.7h0M752.9 89.1h0M749.8 76.0h0M751.7 65.9h0M750.7 71.8h0M747.3 67.7h0M751.4 88.0h0M753.5 92.2h0M752.4 81.1h0M753.9 85.6h0M751.1 92.4h0M749.6 84.6h0M752.8 68.4h0M756.3 85.9h0M747.3 71.4h0M752.7 80.1h0M755.4 86.8h0M751.3 75.3h0M748.3 77.6h0M749.9 68.2h0M749.4 80.3h0M745.4 81.5h0M749.9 77.7h0M747.7 86.2h0M751.3 79.0h0M750.8 74.5h0M748.7 79.8h0M748.8 82.0h0M735.8 83.5h0M734.3 96.8h0M731.8 83.9h0M734.9 93.9h0M738.9 82.3h0M738.3 94.1h0M734.1 86.8h0M737.0 87.3h0M737.7 96.9h0M739.1 91.6h0M739.7 84.8h0M736.5 90.7h0M739.4 88.4h0M732.5 92.5h0M730.2 69.4h0M732.8 66.6h0M732.4 67.9h0M731.2 65.6h0M726.7 66.6h0M727.9 67.5h0M729.3 67.7h0M731.0 68.1h0M728.1 66.2h0M726.9 71.0h0M728.4 70.1h0M754.0 96.2h0M753.1 106.5h0M749.9 95.1h0M751.6 98.4h0M752.9 103.3h0M750.2 101.0h0M751.6 108.7h0M750.3 104.1h0M753.8 100.1h0M752.3 94.0h0M746.0 116.1h0M747.3 113.3h0M751.9 119.7h0M753.9 122.9h0M749.0 122.2h0M749.9 117.9h0M750.6 125.7h0M753.2 126.3h0M750.6 119.4h0M751.7 123.3h0M753.0 121.7h0M751.7 114.6h0M748.4 119.3h0M750.9 124.1h0M748.9 111.8h0M750.3 114.3h0M744.9 111.5h0M746.5 114.8h0M748.9 120.7h0M752.8 127.5h0M748.0 111.4h0M747.1 116.7h0M753.2 118.9h0M748.6 113.5h0M750.7 113.4h0M749.9 115.5h0M752.3 116.3h0M750.8 127.2h0M768.9 114.2h0M768.6 114.9h0M769.1 117.3h0M767.9 116.5h0M769.2 112.7h0M770.2 116.0h0M770.3 113.3h0M769.7 114.0h0M767.9 114.4h0M770.0 117.5h0M769.1 115.7h0M768.3 113.3h0" stroke="#d4d3d8"/><path d="M720.0 108.6h0M727.6 99.0h0M723.4 70.9h0M724.5 90.6h0M721.9 104.9h0M730.7 94.0h0M714.0 71.5h0M721.7 66.5h0M723.9 96.5h0M721.7 94.0h0M729.4 96.9h0M723.1 107.9h0M716.8 105.1h0M722.9 80.9h0M727.4 100.6h0M730.7 85.9h0M720.8 96.9h0M722.4 70.2h0M730.5 97.6h0M730.2 95.9h0M723.0 88.0h0M725.0 88.2h0M731.9 93.3h0M717.9 70.3h0M724.8 75.5h0M726.8 82.2h0M726.9 83.9h0M726.1 102.4h0M721.7 108.3h0M748.6 68.1h0M741.5 70.8h0M742.1 65.3h0M735.9 64.8h0M741.7 62.0h0M735.8 75.6h0M743.9 61.3h0M754.1 89.5h0M746.9 87.3h0M752.3 86.6h0M747.4 78.0h0M750.7 87.2h0M732.2 69.3h0" stroke="#cfccd7"/><path d="M718.2 90.6h0M726.0 108.5h0M730.2 89.3h0M716.0 93.9h0M721.2 73.8h0M727.1 87.3h0M720.7 95.2h0M724.1 115.5h0M724.0 107.4h0M718.6 80.4h0M723.6 111.3h0M728.2 101.3h0M746.0 63.5h0M752.0 69.9h0M750.0 73.8h0" stroke="#cbc5d7"/><path d="M725.4 97.3h0M716.6 82.1h0M731.8 90.5h0M722.6 87.2h0M728.0 106.3h0M723.1 106.6h0M727.1 92.0h0M722.1 111.9h0M711.1 80.7h0M728.1 91.6h0M723.5 93.3h0M721.0 109.7h0M725.4 110.3h0M721.4 92.5h0M725.1 89.2h0M728.5 96.5h0M718.2 94.8h0M722.0 109.3h0M728.8 98.3h0M723.7 103.1h0M724.7 73.2h0M724.1 94.4h0M734.3 66.0h0" stroke="#c6bed6"/><path d="M720.6 106.2h0M726.4 110.6h0M717.4 111.4h0M725.7 76.1h0M721.4 75.1h0M714.1 84.7h0M728.6 82.3h0M723.4 85.9h0M714.0 86.2h0M721.0 99.4h0M730.2 91.1h0M721.6 100.7h0M727.9 86.4h0M726.0 101.3h0M723.8 109.7h0M718.6 74.4h0M736.7 74.3h0M745.9 70.6h0" stroke="#c1b7d5"/><path d="M711.9 88.9h0M730.5 87.6h0M728.9 102.7h0M723.6 112.8h0M705.9 100.6h0M727.6 107.2h0M715.1 77.9h0M721.7 90.1h0M725.5 82.4h0M729.6 83.5h0M722.9 99.0h0M726.8 78.5h0M726.9 96.1h0M711.9 73.3h0M712.1 76.1h0M709.5 74.6h0M731.0 91.6h0M725.0 107.3h0M716.7 100.3h0M721.5 106.3h0M716.1 102.6h0M714.6 98.3h0M749.5 56.6h0M741.4 66.0h0" stroke="#bdb0d5"/><path d="M710.3 90.1h0M717.2 92.3h0M719.9 97.7h0M723.2 78.4h0M699.7 90.5h0M721.0 84.1h0M726.2 99.5h0M725.9 92.6h0M721.2 77.8h0M722.1 102.3h0M711.1 101.8h0M722.4 82.4h0M719.7 68.2h0M709.8 97.9h0M712.9 102.1h0M707.8 76.8h0M724.7 104.5h0M711.7 104.5h0M719.8 90.4h0M720.1 67.2h0M719.0 93.2h0M718.2 88.3h0M723.3 90.6h0M744.0 72.5h0M745.7 59.7h0M753.6 69.4h0" stroke="#b8a9d4"/><path d="M713.5 74.0h0M713.4 72.8h0M727.7 83.2h0M715.8 97.4h0M709.7 104.2h0M694.3 84.9h0M713.9 68.8h0M720.0 80.4h0M718.2 67.8h0M711.8 84.9h0M718.4 107.0h0M723.4 75.6h0M722.1 110.5h0M705.6 74.7h0M729.4 86.4h0M716.1 76.1h0M720.0 87.1h0M707.4 93.9h0M725.5 94.0h0M717.8 77.9h0M716.5 68.8h0M716.1 85.4h0M725.7 79.9h0M712.7 89.5h0M726.8 85.1h0M719.4 112.8h0M720.0 102.7h0M711.2 74.3h0" stroke="#b09ecf"/><path d="M723.8 104.9h0M724.7 92.9h0M717.2 84.4h0M715.8 108.9h0M702.0 70.6h0M717.4 106.6h0M724.7 100.5h0M719.0 105.5h0M715.6 69.1h0M716.2 101.2h0M720.2 79.5h0M718.6 95.9h0M710.1 77.7h0M705.9 84.8h0M723.0 95.9h0M719.8 76.2h0M716.2 103.5h0M718.3 111.1h0M721.4 91.1h0M713.3 94.5h0M706.7 86.1h0M709.2 93.1h0M719.8 111.5h0M722.1 103.4h0M722.6 73.5h0M711.6 90.1h0M707.1 85.3h0M718.5 82.4h0M708.6 82.4h0M711.8 106.8h0M710.8 98.6h0M719.2 73.4h0M722.3 80.2h0M755.3 76.6h0M745.2 112.5h0" stroke="#a794ca"/><path d="M717.9 66.9h0M704.1 72.3h0M715.2 107.2h0M728.1 84.2h0M716.0 84.3h0M696.9 78.7h0M722.8 71.5h0M718.1 89.5h0M711.9 95.8h0M711.8 78.5h0M713.3 99.3h0M715.4 83.1h0M708.2 87.2h0M720.3 112.5h0M704.9 100.9h0M719.5 86.3h0M705.1 78.4h0M718.9 100.0h0M710.4 83.3h0M709.6 84.3h0M709.6 88.9h0M718.4 72.8h0M717.5 72.7h0M714.8 105.1h0" stroke="#9f8ac5"/><path d="M705.4 72.7h0M713.0 103.8h0M719.8 101.2h0M703.5 76.0h0M698.7 78.0h0M708.2 89.3h0M701.8 90.9h0M704.7 76.2h0M703.3 84.1h0M709.5 95.4h0M708.0 78.3h0M715.9 78.7h0M720.4 88.3h0M697.1 92.6h0M705.1 77.4h0M721.0 70.5h0M715.5 90.2h0M696.1 76.8h0M714.3 81.6h0" stroke="#977fc0"/><path d="M718.6 79.2h0M701.4 98.1h0M711.4 83.4h0M708.3 80.8h0M713.0 70.6h0M711.8 105.5h0M704.3 87.7h0M698.6 72.1h0M696.3 86.5h0M714.1 79.0h0M709.4 100.6h0M716.4 95.1h0M705.6 86.2h0M711.5 82.5h0M750.3 72.7h0M747.6 110.5h0M746.0 109.9h0" stroke="#8e74bb"/><path d="M718.0 71.5h0M705.5 102.3h0M706.2 78.7h0M706.9 100.3h0M698.1 85.0h0M708.5 74.8h0M709.1 76.8h0M709.8 81.7h0M696.3 79.9h0M712.9 106.3h0M700.9 85.4h0M713.4 107.9h0M698.8 93.0h0M697.1 76.5h0M708.4 98.7h0M698.7 76.3h0M699.1 89.2h0M703.7 77.3h0M707.8 75.5h0M704.0 98.0h0M749.1 85.7h0M733.1 89.7h0M748.4 117.3h0M749.9 120.4h0M751.1 122.3h0" stroke="#866ab6"/><path d="M707.7 86.4h0M706.9 102.6h0M701.0 87.9h0M702.9 93.0h0M701.3 72.4h0M715.1 74.0h0M716.4 91.7h0M712.0 93.8h0M710.6 105.9h0M705.0 71.6h0M707.3 98.5h0" stroke="#7d64b3"/><path d="M697.3 89.2h0M710.8 104.2h0M708.5 103.6h0M696.1 82.1h0M710.7 86.2h0M708.5 91.1h0M706.5 87.8h0M702.3 96.9h0M713.5 76.4h0M749.7 121.5h0M751.8 124.4h0" stroke="#755eaf"/><path d="M701.4 93.5h0M696.9 87.9h0M697.9 75.4h0M699.8 71.2h0M704.8 70.4h0M705.3 88.8h0M697.0 80.7h0M697.0 83.2h0M750.6 116.2h0" stroke="#6c58ac"/><path d="M698.8 74.1h0M707.5 90.3h0M706.6 96.3h0M697.5 79.9h0M696.2 90.3h0M703.7 92.4h0M709.4 102.7h0M704.9 80.3h0M706.0 81.5h0M696.6 91.4h0M704.0 100.0h0M707.9 99.9h0M710.8 102.8h0M748.1 116.0h0M753.3 125.3h0" stroke="#6353a9"/><path d="M703.6 94.0h0M701.2 69.9h0M700.2 82.4h0M706.5 93.4h0M708.4 95.2h0M703.9 88.5h0M706.2 91.8h0M709.4 79.1h0M700.4 89.3h0M749.4 71.2h0M746.9 111.3h0" stroke="#5b4da5"/><path d="M694.4 80.1h0" stroke="#5247a2"/><path d="M695.2 86.8h0M706.2 83.4h0" stroke="#4c48a3"/><path d="M704.7 90.4h0" stroke="#4549a3"/><path d="M705.5 93.9h0" stroke="#3f4aa4"/></g>
<path d="M687.4 52.3V134.9H779.4" fill="none" stroke="#444" stroke-width="0.9"/>
<text x="702.4" y="146.9" font-size="10.3" text-anchor="middle" >-5</text>
<text x="728.4" y="146.9" font-size="10.3" text-anchor="middle" >0</text>
<text x="754.4" y="146.9" font-size="10.3" text-anchor="middle" >5</text>
<text x="682.8" y="70.6" font-size="10.3" text-anchor="end" >2</text>
<text x="682.8" y="92.2" font-size="10.3" text-anchor="end" >0</text>
<text x="682.8" y="113.8" font-size="10.3" text-anchor="end" >-2</text>
<text x="682.8" y="135.4" font-size="10.3" text-anchor="end" >-4</text>
<path d="M702.4 134.9v2.6M728.4 134.9v2.6M754.4 134.9v2.6M687.4 66.9h-2.6M687.4 88.5h-2.6M687.4 110.1h-2.6M687.4 131.7h-2.6" stroke="#444" stroke-width="0.9"/>
<text x="733.4" y="161.4" font-size="12" text-anchor="middle" >UMAP_1</text>
<text x="0" y="0" font-size="12" text-anchor="middle" transform="translate(668.4,93.6) rotate(-90)">UMAP_2</text>
<text x="732.5" y="44.9" font-size="12" text-anchor="middle" >Cd55</text>
<rect x="790" y="68.2" width="11" height="56" fill="url(#cbg)"/>
<text x="805.0" y="127.8" font-size="10.3" text-anchor="start" >0</text>
<text x="805.0" y="108.5" font-size="10.3" text-anchor="start" >1</text>
<text x="805.0" y="89.2" font-size="10.3" text-anchor="start" >2</text>
<path d="M790.0 104.9h2M799.0 104.9h2M790.0 85.6h2M799.0 85.6h2" stroke="#fff" stroke-width="0.7" opacity="0.8"/>
<g stroke-width="2.0" stroke-linecap="round"><path d="M874.0 71.3h0M879.9 105.1h0M880.8 92.9h0M859.6 94.0h0M873.9 66.7h0M874.2 90.6h0M869.0 104.0h0M876.7 106.3h0M860.1 72.2h0M869.5 73.8h0M853.2 89.2h0M869.5 72.6h0M881.5 97.3h0M876.0 108.8h0M866.8 104.4h0M875.9 101.3h0M883.8 83.1h0M871.9 109.1h0M871.2 107.3h0M884.2 84.2h0M871.9 97.5h0M867.9 88.9h0M883.7 99.1h0M872.7 82.0h0M879.5 70.7h0M881.3 109.5h0M880.6 90.6h0M878.0 105.0h0M857.4 98.2h0M886.7 87.6h0M862.9 102.8h0M886.8 94.1h0M887.9 90.5h0M878.6 87.2h0M876.0 80.4h0M874.2 67.6h0M882.4 110.8h0M872.8 83.3h0M874.4 107.2h0M879.5 75.4h0M878.1 110.7h0M883.9 90.1h0M856.9 87.9h0M851.1 86.7h0M886.3 89.4h0M881.3 83.3h0M880.8 100.6h0M884.1 106.5h0M872.0 84.3h0M875.4 84.6h0M881.8 76.0h0M875.0 105.6h0M871.6 68.9h0M864.4 103.7h0M864.1 89.3h0M872.2 101.3h0M885.0 102.9h0M876.0 97.8h0M879.2 106.8h0M878.9 71.4h0M877.8 66.3h0M880.0 96.6h0M879.3 78.3h0M877.8 94.1h0M871.0 80.1h0M885.5 96.9h0M877.5 74.9h0M872.1 94.0h0M879.7 113.0h0M859.2 96.6h0M883.2 92.1h0M883.7 107.4h0M858.9 93.0h0M882.0 78.2h0M877.3 73.7h0M876.2 79.4h0M885.5 86.4h0M877.1 84.1h0M865.8 81.6h0M882.2 99.6h0M877.8 90.1h0M878.2 112.1h0M871.6 88.4h0M878.9 80.9h0M881.6 82.3h0M874.7 96.0h0M878.7 97.3h0M869.3 99.4h0M882.6 76.9h0M883.2 87.3h0M871.4 83.0h0M884.2 91.6h0M876.4 112.7h0M883.5 100.7h0M881.9 92.6h0M879.6 93.4h0M877.2 77.7h0M866.1 77.6h0M879.6 91.9h0M885.7 83.4h0M873.9 77.8h0M878.9 99.1h0M866.9 84.3h0M865.5 95.4h0M886.8 85.9h0M876.7 95.2h0M882.9 78.4h0M861.5 93.9h0M884.7 82.2h0M883.0 96.1h0M877.1 109.9h0M881.5 110.5h0M871.1 73.9h0M879.5 85.8h0M876.9 96.9h0M878.2 102.4h0M867.1 101.9h0M867.8 105.6h0M878.5 70.0h0M854.5 71.9h0M868.1 76.0h0M864.0 78.2h0M871.9 78.6h0M872.4 91.7h0M876.4 88.3h0M853.8 75.3h0M870.1 78.9h0M880.1 115.8h0M869.5 108.1h0M879.1 96.0h0M877.4 92.5h0M878.4 82.3h0M881.4 95.7h0M886.6 97.7h0M886.3 96.0h0M879.1 88.0h0M875.9 76.1h0M870.0 86.2h0M851.0 88.8h0M866.6 106.1h0M853.0 76.4h0M877.5 91.2h0M886.3 91.1h0M869.3 94.5h0M865.5 74.5h0M887.1 91.6h0M881.2 89.2h0M864.4 98.8h0M875.8 68.1h0M881.1 107.5h0M872.4 95.2h0M884.6 96.6h0M875.9 111.7h0M872.8 100.4h0M881.0 88.2h0M855.0 89.2h0M880.1 107.6h0M874.6 80.3h0M861.5 86.1h0M862.5 87.8h0M878.7 73.3h0M888.0 93.3h0M879.7 111.5h0M877.6 106.5h0M884.0 86.3h0M877.1 70.3h0M878.0 109.5h0M871.5 90.2h0M877.7 69.3h0M863.1 85.3h0M884.9 98.4h0M872.1 85.4h0M873.9 70.1h0M879.8 103.3h0M870.3 81.5h0M874.5 82.3h0M858.2 97.0h0M876.8 94.1h0M880.8 104.7h0M867.8 106.9h0M865.4 79.0h0M880.9 75.3h0M881.8 79.8h0M882.0 101.4h0M875.9 90.4h0M882.9 82.2h0M876.2 67.0h0M869.5 76.3h0M866.8 98.6h0M883.0 83.9h0M875.1 93.2h0M867.5 82.4h0M882.9 85.0h0M875.4 113.1h0M870.8 105.3h0M884.3 101.4h0M875.3 73.3h0M880.8 73.1h0M876.1 102.8h0M882.2 102.5h0M874.2 88.3h0M858.3 72.4h0M879.3 90.6h0M877.8 108.5h0M876.9 103.6h0M879.9 109.9h0M874.7 74.3h0M859.2 80.9h0M878.3 80.1h0M872.2 102.7h0M880.1 94.4h0M858.6 90.5h0M867.2 74.2h0M889.2 76.5h0M893.9 62.9h0M896.0 66.8h0M903.1 67.2h0M894.9 68.4h0M887.5 70.9h0M890.1 72.0h0M888.6 65.7h0M891.3 72.2h0M892.8 66.3h0M904.9 67.9h0M900.1 64.3h0M893.7 64.1h0M886.0 68.7h0M905.7 56.3h0M906.1 58.9h0M894.8 76.2h0M900.7 69.3h0M904.6 59.6h0M906.8 63.6h0M900.1 72.4h0M897.7 70.6h0M888.9 67.3h0M898.3 65.1h0M900.9 70.7h0M893.1 72.2h0M890.8 73.6h0M906.2 57.6h0M895.8 71.3h0M892.0 64.5h0M901.9 59.4h0M904.5 55.6h0M890.4 65.8h0M905.9 61.0h0M891.8 67.2h0M904.4 69.5h0M903.7 60.0h0M899.5 70.1h0M896.8 63.9h0M896.9 75.1h0M904.1 61.9h0M903.2 57.9h0M892.4 68.3h0M889.3 70.1h0M890.6 69.5h0M898.4 68.1h0M903.9 63.4h0M890.9 67.1h0M891.1 65.1h0M902.2 63.3h0M906.0 66.8h0M895.9 74.3h0M902.4 60.9h0M903.6 57.0h0M887.9 66.4h0M889.3 73.9h0M893.0 76.2h0M895.3 61.9h0M905.7 63.3h0M898.5 66.2h0M903.2 70.6h0M897.9 61.7h0M902.9 69.0h0M907.1 61.2h0M897.6 65.8h0M900.9 63.5h0M891.9 75.5h0M899.4 59.6h0M898.6 69.6h0M891.3 66.1h0M888.7 72.9h0M903.2 62.5h0M902.7 66.3h0M900.1 61.0h0M898.7 73.1h0M899.8 71.1h0M886.1 66.8h0M902.2 62.0h0M899.4 66.3h0M904.8 60.8h0M904.4 64.6h0M901.9 70.1h0M901.4 60.7h0M892.8 74.2h0M892.1 71.8h0M909.8 83.5h0M908.2 85.3h0M910.6 81.8h0M907.0 64.6h0M910.1 70.5h0M905.1 67.3h0M911.6 76.5h0M910.3 89.5h0M902.6 85.9h0M908.2 69.7h0M910.6 78.3h0M905.5 90.4h0M901.9 73.9h0M912.7 88.6h0M907.7 77.7h0M910.8 84.8h0M903.1 87.3h0M903.9 90.3h0M905.0 69.4h0M908.6 91.9h0M902.9 69.7h0M906.6 88.1h0M912.2 81.2h0M903.7 76.5h0M905.3 85.7h0M904.6 91.9h0M911.0 80.8h0M908.5 86.5h0M909.4 71.4h0M908.2 72.2h0M909.1 65.6h0M902.1 76.9h0M902.2 87.5h0M910.7 91.4h0M905.7 87.5h0M911.8 90.8h0M910.8 74.4h0M907.7 90.6h0M910.5 82.8h0M913.0 84.2h0M906.3 73.6h0M902.1 70.4h0M903.6 77.9h0M901.7 78.9h0M906.1 89.2h0M910.7 76.8h0M904.6 73.2h0M902.7 74.2h0M909.8 69.2h0M901.3 85.1h0M910.7 86.5h0M910.7 79.5h0M905.6 71.0h0M904.6 89.4h0M901.0 84.2h0M903.3 82.4h0M906.5 69.3h0M905.8 79.0h0M906.8 84.8h0M908.5 64.3h0M906.9 87.2h0M905.5 66.2h0M904.2 85.1h0M903.0 79.6h0M909.1 89.1h0M906.1 75.9h0M907.9 65.7h0M906.9 71.7h0M903.6 67.5h0M907.6 88.0h0M909.8 92.3h0M908.6 81.1h0M910.1 85.6h0M907.4 92.4h0M905.9 84.6h0M909.0 68.2h0M912.5 85.8h0M906.5 72.6h0M903.5 71.2h0M908.9 80.1h0M911.6 86.8h0M907.5 75.2h0M904.5 77.5h0M906.1 68.0h0M905.7 80.3h0M901.6 81.5h0M906.1 77.6h0M903.9 86.1h0M907.5 78.9h0M907.0 74.3h0M904.9 79.8h0M905.1 81.9h0M892.0 83.4h0M890.4 96.9h0M888.0 83.9h0M891.0 94.0h0M895.0 82.2h0M894.5 94.2h0M889.2 89.7h0M890.2 86.8h0M893.1 87.3h0M893.8 97.0h0M895.3 91.6h0M895.8 84.8h0M892.7 90.7h0M895.6 88.4h0M888.6 92.6h0M886.3 69.2h0M888.9 66.4h0M888.5 67.7h0M887.3 65.4h0M882.8 66.4h0M884.0 67.3h0M885.4 67.5h0M887.1 67.9h0M884.2 66.0h0M888.3 69.2h0M882.9 70.8h0M884.5 69.9h0M910.2 96.3h0M909.3 106.6h0M906.2 95.1h0M907.8 98.5h0M909.2 103.5h0M906.4 101.1h0M907.8 108.9h0M906.5 104.2h0M910.1 100.2h0M908.5 94.0h0M902.2 116.4h0M904.3 116.3h0M903.5 113.5h0M908.1 120.0h0M910.1 123.2h0M905.3 122.5h0M906.1 118.2h0M906.9 126.0h0M909.5 126.7h0M906.8 119.7h0M901.4 112.7h0M908.0 123.6h0M909.2 122.0h0M904.6 117.6h0M903.8 110.7h0M906.1 120.7h0M908.0 114.8h0M904.6 119.6h0M903.1 111.5h0M902.2 110.1h0M909.5 125.7h0M905.2 112.0h0M906.6 114.5h0M901.1 111.7h0M902.7 115.1h0M905.1 121.0h0M909.0 127.8h0M904.3 111.6h0M906.8 116.4h0M904.8 113.7h0M905.9 121.8h0M906.9 113.7h0M907.4 122.6h0M906.2 115.7h0M908.6 116.6h0M907.0 127.5h0M908.0 124.7h0M925.3 114.4h0M924.9 115.2h0M925.4 117.5h0M924.2 116.8h0M925.5 112.9h0M926.6 116.3h0M926.7 113.5h0M926.1 114.3h0M924.2 114.7h0M926.4 117.8h0M925.4 116.0h0M924.7 113.6h0" stroke="#d4d3d8"/><path d="M873.5 106.8h0M873.4 111.6h0M876.1 87.1h0M875.5 86.2h0M876.7 75.6h0M877.7 100.9h0M874.2 94.9h0M878.2 103.5h0" stroke="#cfccd7"/><path d="M882.0 108.6h0M874.2 89.5h0M872.2 103.7h0M866.4 83.2h0M853.0 92.7h0" stroke="#cbc5d7"/><path d="M870.0 71.4h0M881.6 94.0h0" stroke="#c6bed6"/><path d="M873.2 92.3h0M870.8 96.9h0M872.6 68.6h0M868.9 102.3h0M873.5 72.6h0M868.7 89.5h0M870.6 98.4h0" stroke="#c1b7d5"/><path d="M868.0 93.9h0M877.1 99.5h0M861.2 88.8h0" stroke="#bdb0d5"/><path d="M873.3 84.3h0M871.2 77.8h0M867.9 73.2h0M874.9 100.1h0M874.4 72.7h0M862.2 83.3h0" stroke="#b8a9d4"/><path d="M874.6 79.1h0M863.7 86.3h0M864.5 74.7h0M879.2 108.1h0M867.8 78.4h0M867.1 80.6h0M868.9 106.5h0M850.3 80.0h0M861.1 78.3h0M874.4 111.4h0M861.2 83.4h0M865.5 84.2h0M867.7 104.6h0" stroke="#b09ecf"/><path d="M869.3 88.6h0M869.9 68.6h0M862.6 96.4h0M867.5 83.4h0M854.8 83.1h0M867.9 95.8h0M872.8 105.2h0M870.1 84.7h0M856.8 85.4h0M852.2 86.5h0M865.8 98.0h0" stroke="#a794ca"/><path d="M864.4 95.3h0M860.7 90.5h0M869.0 70.4h0M855.7 90.6h0M872.1 76.0h0M864.3 84.4h0M859.7 92.5h0M866.7 86.1h0M865.3 100.8h0M854.6 76.1h0M860.7 70.2h0M859.8 88.5h0M863.8 100.0h0M865.6 88.9h0" stroke="#9f8ac5"/><path d="M863.5 90.3h0M857.9 70.4h0M854.0 84.9h0M862.5 93.4h0M852.8 78.6h0M853.4 79.9h0M865.1 76.7h0M857.3 93.6h0M852.1 82.1h0M865.4 102.8h0M856.3 91.9h0M867.6 90.1h0M863.2 98.6h0M907.2 124.4h0M903.3 116.9h0" stroke="#977fc0"/><path d="M854.8 73.9h0M850.2 84.8h0M860.0 89.5h0M863.4 93.9h0M864.1 87.2h0M859.2 84.1h0M864.5 91.1h0M862.0 81.5h0M861.1 77.3h0M852.0 76.7h0M864.6 82.4h0M860.0 98.1h0" stroke="#8e74bb"/><path d="M861.3 72.5h0M866.3 90.1h0M867.8 84.8h0M861.6 74.6h0M860.9 101.0h0M859.2 72.9h0M860.8 80.2h0M862.7 86.1h0M862.2 91.9h0" stroke="#866ab6"/><path d="M866.0 75.4h0M862.8 100.4h0M861.9 100.7h0M857.7 91.0h0M852.2 79.8h0M857.3 72.3h0M854.7 93.0h0M855.7 71.0h0M865.2 93.1h0M852.9 83.1h0M859.6 77.2h0M866.8 103.0h0" stroke="#7d64b3"/><path d="M865.7 104.4h0M864.3 80.7h0M860.6 76.1h0M852.5 91.4h0M852.9 80.6h0" stroke="#755eaf"/><path d="M857.1 69.8h0M859.4 75.9h0M860.3 87.6h0M860.0 100.1h0M863.8 76.7h0M863.8 75.4h0M856.3 89.3h0" stroke="#6c58ac"/><path d="M854.7 77.9h0M852.1 90.3h0M855.1 87.3h0" stroke="#6353a9"/><path d="M861.5 102.4h0M862.2 78.7h0M856.1 82.3h0M862.4 80.1h0M860.9 71.4h0" stroke="#5b4da5"/><path d="M852.8 87.9h0M909.5 119.2h0" stroke="#5247a2"/><path d="M861.8 84.8h0" stroke="#3f4aa4"/></g>
<path d="M844.8 52.0V135.5H935.8" fill="none" stroke="#444" stroke-width="0.9"/>
<text x="858.4" y="147.5" font-size="10.3" text-anchor="middle" >-5</text>
<text x="884.5" y="147.5" font-size="10.3" text-anchor="middle" >0</text>
<text x="910.6" y="147.5" font-size="10.3" text-anchor="middle" >5</text>
<text x="840.2" y="70.4" font-size="10.3" text-anchor="end" >2</text>
<text x="840.2" y="92.2" font-size="10.3" text-anchor="end" >0</text>
<text x="840.2" y="114.0" font-size="10.3" text-anchor="end" >-2</text>
<text x="840.2" y="135.8" font-size="10.3" text-anchor="end" >-4</text>
<path d="M858.4 135.5v2.6M884.5 135.5v2.6M910.6 135.5v2.6M844.8 66.7h-2.6M844.8 88.5h-2.6M844.8 110.3h-2.6M844.8 132.1h-2.6" stroke="#444" stroke-width="0.9"/>
<text x="890.3" y="162.0" font-size="12" text-anchor="middle" >UMAP_1</text>
<text x="0" y="0" font-size="12" text-anchor="middle" transform="translate(825.8,93.7) rotate(-90)">UMAP_2</text>
<text x="886.4" y="44.9" font-size="12" text-anchor="middle" >Bmp3</text>
<rect x="946.4" y="68.5" width="11" height="56" fill="url(#cbg)"/>
<text x="961.4" y="128.1" font-size="10.3" text-anchor="start" >0.0</text>
<text x="961.4" y="114.4" font-size="10.3" text-anchor="start" >0.5</text>
<text x="961.4" y="100.8" font-size="10.3" text-anchor="start" >1.0</text>
<text x="961.4" y="87.1" font-size="10.3" text-anchor="start" >1.5</text>
<text x="961.4" y="73.5" font-size="10.3" text-anchor="start" >2.0</text>
<path d="M946.4 110.8h2M955.4 110.8h2M946.4 97.2h2M955.4 97.2h2M946.4 83.5h2M955.4 83.5h2M946.4 69.9h2M955.4 69.9h2" stroke="#fff" stroke-width="0.7" opacity="0.8"/>
<g stroke-width="2.0" stroke-linecap="round"><path d="M549.5 257.4h0M547.6 249.3h0M557.5 244.1h0M562.1 223.0h0M562.4 246.0h0M548.1 228.3h0M557.6 228.7h0M561.4 240.0h0M542.7 230.0h0M559.3 262.1h0M572.5 239.8h0M550.2 234.5h0M554.4 245.5h0M560.8 237.8h0M551.6 245.8h0M567.8 226.9h0M554.1 231.4h0M538.1 240.5h0M545.4 253.3h0M558.1 227.5h0M558.0 224.8h0M547.4 231.9h0M564.2 236.2h0M562.4 223.9h0M550.7 251.6h0M567.7 231.4h0M544.9 243.4h0M544.1 238.1h0M569.6 239.0h0M542.6 233.8h0M560.2 240.0h0M563.6 240.3h0M570.1 232.0h0M550.4 235.9h0M550.6 248.7h0M540.7 234.4h0M549.6 230.6h0M541.3 235.7h0M548.0 244.9h0M567.1 227.5h0M566.0 249.3h0M549.9 255.8h0M571.5 247.4h0M562.4 244.9h0M553.1 232.6h0M545.7 246.4h0M557.2 226.6h0M546.9 248.4h0M570.3 234.0h0M564.4 235.3h0M543.6 246.0h0M560.3 232.0h0M548.7 232.1h0M553.9 237.4h0M559.3 233.6h0M540.1 235.6h0M566.0 245.5h0M545.2 228.3h0M545.3 248.9h0M567.2 236.6h0M556.0 234.3h0M559.6 238.7h0M551.4 249.2h0M552.2 242.7h0M564.6 267.3h0M565.4 233.6h0M540.0 237.8h0M547.2 239.7h0M552.4 240.0h0M547.7 247.8h0M558.2 240.3h0M554.2 233.5h0M555.0 239.9h0M544.8 241.0h0M553.6 250.7h0M538.3 235.8h0M571.2 234.3h0M549.5 249.2h0M549.1 234.2h0M556.1 229.3h0M555.2 256.9h0M555.9 260.5h0M566.7 226.2h0M548.3 243.2h0M542.5 228.1h0M540.1 242.1h0M540.8 243.4h0M564.6 243.8h0M541.7 231.3h0M544.3 247.3h0M558.2 234.8h0M566.6 238.0h0M556.1 249.2h0M567.3 243.6h0M558.1 241.8h0M538.9 244.3h0M564.9 231.6h0M547.2 229.0h0M557.4 249.8h0M553.6 230.5h0M554.5 238.9h0M548.9 236.0h0M550.7 241.7h0M552.5 253.9h0M564.0 224.3h0M542.6 232.1h0M540.9 248.0h0M562.8 236.1h0M548.8 226.4h0M550.0 237.2h0M549.6 241.7h0M550.5 243.3h0M549.1 233.2h0M548.9 227.6h0M548.0 255.2h0M560.7 224.8h0M553.6 239.9h0M547.9 244.0h0M565.3 226.5h0M559.6 245.6h0M551.9 255.0h0M551.1 240.9h0M539.9 232.6h0M550.2 239.0h0M562.1 226.3h0M568.0 258.2h0M558.5 237.3h0M552.7 238.1h0M551.9 232.6h0M543.1 242.8h0M553.4 234.8h0M569.2 231.3h0M570.0 235.6h0M571.2 237.9h0M564.4 223.2h0M557.6 232.3h0M555.6 238.2h0M571.2 240.6h0M551.8 231.3h0M569.1 229.1h0M562.4 243.8h0M562.8 230.3h0M566.5 235.9h0M548.0 253.3h0M546.6 246.0h0M555.3 230.2h0M577.5 232.5h0M582.3 219.4h0M584.4 223.1h0M591.6 223.4h0M583.3 224.7h0M575.8 227.1h0M578.5 228.1h0M577.0 222.1h0M581.2 222.6h0M593.4 224.2h0M582.1 220.5h0M574.4 224.9h0M594.2 213.0h0M594.7 215.5h0M583.2 232.1h0M589.2 225.5h0M593.1 216.2h0M595.3 220.0h0M588.6 228.5h0M586.1 226.8h0M577.3 223.5h0M586.8 221.4h0M589.4 226.8h0M581.5 228.3h0M579.2 229.7h0M594.7 214.2h0M584.2 227.4h0M580.4 220.9h0M590.4 216.0h0M593.0 212.3h0M594.4 217.5h0M580.2 223.4h0M592.9 225.7h0M588.0 226.3h0M585.2 220.3h0M592.6 218.4h0M580.8 224.6h0M577.6 226.3h0M579.0 225.7h0M586.9 224.3h0M592.5 219.8h0M579.3 223.3h0M579.4 221.5h0M590.7 219.7h0M594.5 223.1h0M584.4 230.3h0M592.1 213.7h0M576.2 222.7h0M577.6 230.0h0M583.7 218.4h0M594.2 219.7h0M591.7 226.7h0M586.3 218.2h0M591.4 225.2h0M586.1 222.2h0M589.3 219.9h0M580.3 231.5h0M587.9 216.2h0M587.1 225.8h0M579.7 222.4h0M577.1 229.0h0M591.7 219.0h0M591.2 222.6h0M588.5 217.5h0M587.1 229.2h0M588.3 227.2h0M574.5 223.1h0M587.9 222.6h0M593.3 217.4h0M592.9 220.9h0M590.4 226.3h0M589.9 217.2h0M581.2 230.2h0M580.5 227.9h0M596.8 241.0h0M599.2 237.5h0M595.5 221.0h0M598.7 226.7h0M593.7 223.6h0M598.9 245.0h0M591.1 241.5h0M596.8 225.9h0M599.2 234.2h0M594.0 245.8h0M590.4 229.9h0M601.4 244.1h0M596.3 233.6h0M599.4 240.5h0M591.6 242.8h0M592.4 245.8h0M593.5 225.6h0M597.2 247.2h0M591.4 225.9h0M595.2 243.6h0M600.8 237.0h0M592.2 232.5h0M593.9 241.3h0M593.1 247.2h0M599.6 236.6h0M598.0 227.5h0M597.7 221.9h0M590.6 232.9h0M590.7 243.0h0M599.3 246.7h0M594.3 243.0h0M600.4 246.3h0M599.4 230.4h0M596.3 246.0h0M599.1 238.5h0M601.7 239.8h0M594.8 229.7h0M590.6 226.6h0M592.1 233.8h0M590.2 234.7h0M594.7 244.6h0M593.2 229.2h0M591.2 230.3h0M598.4 225.4h0M589.8 240.7h0M599.3 242.0h0M599.3 235.3h0M594.2 227.2h0M593.1 244.8h0M589.5 239.9h0M595.1 225.5h0M594.4 234.8h0M595.3 240.4h0M597.1 220.7h0M594.1 222.6h0M592.7 240.7h0M591.5 235.4h0M597.7 244.6h0M594.6 231.9h0M595.4 227.8h0M592.1 223.8h0M596.2 243.5h0M598.4 247.6h0M597.2 236.8h0M595.9 247.8h0M594.4 240.2h0M597.6 224.4h0M601.2 241.4h0M595.1 228.7h0M592.1 227.3h0M597.5 235.9h0M600.2 242.4h0M596.1 231.2h0M593.0 233.4h0M594.7 224.3h0M590.1 237.2h0M594.6 233.5h0M592.5 241.7h0M596.1 234.8h0M595.5 230.4h0M593.5 235.6h0M593.6 237.6h0M580.3 239.1h0M578.8 252.1h0M579.4 249.3h0M583.5 237.9h0M582.9 249.5h0M577.6 245.2h0M578.6 242.3h0M581.5 242.9h0M582.2 252.2h0M583.7 247.0h0M584.3 240.4h0M581.1 246.1h0M574.6 225.4h0M576.9 223.9h0M575.6 221.7h0M571.1 222.7h0M572.3 223.6h0M573.7 223.8h0M575.4 224.1h0M572.5 222.4h0M576.7 225.4h0M572.8 226.1h0M594.7 250.4h0M596.4 253.6h0M597.8 258.4h0M595.1 259.1h0M590.7 270.9h0M592.8 270.7h0M592.0 268.1h0M596.7 274.4h0M598.7 277.5h0M593.8 276.8h0M594.6 272.6h0M595.4 280.2h0M598.1 280.8h0M595.4 274.0h0M589.9 267.3h0M596.5 277.8h0M597.8 276.3h0M591.6 266.2h0M590.7 264.8h0M598.1 279.8h0M589.6 266.3h0M591.2 269.6h0M593.6 275.3h0M597.6 281.9h0M592.8 266.3h0M595.4 270.9h0M593.3 268.3h0M595.5 268.2h0M597.2 271.0h0M595.6 281.6h0M596.6 278.9h0M614.0 268.9h0M613.7 269.7h0M614.2 272.0h0M613.0 271.3h0M614.3 267.5h0M615.4 270.7h0M615.4 268.1h0M614.9 268.8h0M613.0 269.2h0M615.2 272.2h0M614.2 270.4h0M613.4 268.1h0" stroke="#d4d3d8"/><path d="M549.4 228.6h0M541.1 244.7h0M545.1 226.0h0M542.8 238.8h0M547.3 251.8h0M555.2 236.4h0M549.9 240.4h0M542.7 248.4h0M564.1 232.0h0M540.9 232.4h0M540.4 246.8h0M540.8 236.4h0M553.8 253.2h0M550.2 247.2h0M546.2 252.2h0M547.7 233.1h0M544.3 244.8h0M579.7 228.3h0M585.4 231.1h0M597.1 242.1h0M596.8 228.3h0M591.8 238.1h0M598.7 241.2h0M594.2 236.1h0M576.3 239.6h0M576.9 247.9h0M593.2 272.0h0" stroke="#cfccd7"/><path d="M550.9 255.5h0M555.6 239.1h0M552.3 236.5h0M552.6 230.7h0M552.6 246.5h0M549.3 244.3h0M551.3 253.7h0M581.4 232.1h0M598.4 239.2h0M599.3 232.8h0M584.0 243.9h0M598.8 251.5h0M597.1 249.3h0M595.7 278.6h0" stroke="#cbc5d7"/><path d="M539.1 242.3h0M552.2 244.8h0M548.9 256.1h0M562.1 233.7h0M567.7 241.4h0M560.1 234.5h0M540.8 238.8h0M546.3 228.5h0M547.3 236.7h0M571.2 226.9h0M596.4 263.7h0" stroke="#c6bed6"/><path d="M545.9 226.6h0M552.5 250.6h0M548.7 245.9h0M559.8 243.9h0M563.7 241.8h0M556.3 231.9h0M549.2 239.1h0M600.2 232.4h0M597.9 261.5h0M595.0 256.2h0M598.7 255.3h0M592.3 265.3h0M596.5 269.4h0" stroke="#c1b7d5"/><path d="M557.7 229.9h0M551.8 241.9h0M555.9 240.5h0M559.8 225.1h0M565.3 239.7h0M570.9 232.9h0M574.0 239.1h0M554.8 241.7h0M543.7 227.2h0M553.3 248.4h0M562.7 238.0h0M561.7 228.7h0M564.1 245.8h0M571.2 239.6h0M563.5 229.3h0M595.1 269.1h0" stroke="#bdb0d5"/><path d="M562.2 227.5h0M561.4 247.7h0M566.0 222.6h0M559.2 235.9h0M564.3 242.6h0M552.1 234.1h0M566.9 229.4h0M595.4 242.7h0M598.1 273.6h0" stroke="#b8a9d4"/><path d="M575.1 249.4h0M559.3 229.9h0M569.4 244.7h0M543.0 244.6h0M553.7 244.4h0M563.3 248.6h0M593.1 273.9h0" stroke="#b09ecf"/><path d="M556.0 244.4h0M561.0 239.0h0M542.0 240.5h0M540.1 245.8h0M556.0 251.1h0M565.9 225.5h0M562.6 228.8h0M567.6 246.1h0" stroke="#a794ca"/><path d="M569.8 252.5h0M572.1 238.8h0M567.5 234.2h0M565.7 230.9h0M570.5 254.7h0M569.9 238.1h0M569.8 249.3h0M575.2 241.5h0M564.9 250.5h0M573.0 237.9h0M556.8 245.0h0M591.8 271.4h0" stroke="#9f8ac5"/><path d="M566.9 242.8h0M574.6 244.8h0M565.5 229.8h0M567.9 247.3h0M560.5 247.1h0M555.7 245.6h0M594.6 275.0h0M594.5 276.1h0M594.7 270.2h0" stroke="#977fc0"/><path d="M575.0 243.1h0M562.9 251.2h0M567.2 254.2h0M569.6 251.0h0M574.6 246.5h0M569.3 243.7h0M572.3 241.9h0M560.3 241.0h0M578.8 222.2h0M595.9 276.8h0" stroke="#8e74bb"/><path d="M562.8 235.0h0M564.2 263.6h0M560.2 249.3h0M571.5 242.8h0M553.4 255.8h0M575.5 247.0h0M590.9 217.4h0" stroke="#866ab6"/><path d="M560.0 252.7h0M572.2 245.5h0M564.2 252.9h0M573.8 242.0h0M572.5 247.0h0M569.7 265.2h0M567.3 251.2h0M565.9 255.9h0M576.4 248.6h0M565.8 261.3h0M565.0 249.4h0M568.4 249.7h0" stroke="#7d64b3"/><path d="M569.0 248.2h0M568.9 246.0h0M566.2 259.9h0M576.3 245.9h0M560.4 256.4h0M567.4 261.6h0M561.0 260.1h0M557.4 254.5h0M570.2 248.0h0M553.4 257.8h0M565.3 254.6h0M562.4 250.1h0M566.4 258.4h0M573.2 253.5h0M563.6 267.7h0M591.7 214.5h0M596.5 222.0h0" stroke="#755eaf"/><path d="M554.9 259.3h0M551.0 257.7h0M568.2 251.8h0M558.9 252.1h0M573.8 252.1h0M574.9 252.8h0M568.3 262.4h0M565.1 258.6h0M560.3 257.7h0M588.6 220.7h0M595.7 217.7h0M593.7 266.6h0" stroke="#6c58ac"/><path d="M572.0 254.2h0M566.4 265.4h0M561.7 261.6h0M563.2 260.5h0M567.9 267.6h0M571.8 255.7h0M567.9 248.7h0M568.4 270.3h0M574.7 251.2h0M569.4 262.3h0M560.6 250.4h0M554.9 257.9h0M577.3 222.7h0" stroke="#6353a9"/><path d="M564.1 256.3h0M569.0 255.7h0M566.9 252.5h0M565.1 252.1h0M560.4 258.6h0M554.7 261.0h0M565.7 246.6h0M566.3 264.3h0M569.0 259.6h0M558.9 260.2h0M566.0 263.3h0" stroke="#5b4da5"/><path d="M553.8 259.3h0M572.4 261.3h0M573.3 257.8h0M557.1 261.3h0M571.2 251.4h0M565.3 264.6h0M563.1 255.2h0M565.7 247.9h0M564.1 266.3h0M567.9 266.2h0M570.3 256.5h0M554.9 253.8h0M572.6 256.4h0M568.2 264.6h0M558.8 253.5h0" stroke="#5247a2"/><path d="M564.9 261.2h0M560.0 263.8h0M561.6 266.2h0M572.0 262.2h0M572.9 251.8h0M555.8 259.5h0M564.3 257.8h0M570.4 257.5h0M592.2 216.5h0M590.7 218.5h0" stroke="#4c48a3"/><path d="M568.2 260.0h0M570.7 265.4h0M552.5 258.6h0M566.4 257.4h0M557.6 262.9h0M557.0 257.3h0M586.9 222.5h0" stroke="#4549a3"/><path d="M557.2 258.9h0M569.5 264.3h0M567.4 262.9h0M560.9 255.5h0" stroke="#3f4aa4"/><path d="M570.3 263.4h0M562.6 262.0h0M566.4 266.8h0M562.5 266.0h0" stroke="#394aa5"/><path d="M555.9 261.8h0" stroke="#2c4ca6"/></g>
<path d="M532.6 208.8V288.1H624.6" fill="none" stroke="#444" stroke-width="0.9"/>
<text x="546.3" y="300.1" font-size="10.3" text-anchor="middle" >-5</text>
<text x="572.8" y="300.1" font-size="10.3" text-anchor="middle" >0</text>
<text x="599.2" y="300.1" font-size="10.3" text-anchor="middle" >5</text>
<text x="528.0" y="226.7" font-size="10.3" text-anchor="end" >2</text>
<text x="528.0" y="247.7" font-size="10.3" text-anchor="end" >0</text>
<text x="528.0" y="268.7" font-size="10.3" text-anchor="end" >-2</text>
<text x="528.0" y="289.7" font-size="10.3" text-anchor="end" >-4</text>
<path d="M546.3 288.1v2.6M572.8 288.1v2.6M599.2 288.1v2.6M532.6 223.0h-2.6M532.6 244.0h-2.6M532.6 265.0h-2.6M532.6 286.0h-2.6" stroke="#444" stroke-width="0.9"/>
<text x="578.6" y="314.6" font-size="12" text-anchor="middle" >UMAP_1</text>
<text x="0" y="0" font-size="12" text-anchor="middle" transform="translate(513.6,248.5) rotate(-90)">UMAP_2</text>
<text x="576.7" y="203.7" font-size="12" text-anchor="middle" >Mmp3</text>
<rect x="634.6" y="224.2" width="10.8" height="53.6" fill="url(#cbg)"/>
<text x="649.4" y="281.4" font-size="10.3" text-anchor="start" >0</text>
<text x="649.4" y="269.7" font-size="10.3" text-anchor="start" >1</text>
<text x="649.4" y="258.1" font-size="10.3" text-anchor="start" >2</text>
<text x="649.4" y="246.4" font-size="10.3" text-anchor="start" >3</text>
<text x="649.4" y="234.8" font-size="10.3" text-anchor="start" >4</text>
<path d="M634.6 266.1h2M643.4 266.1h2M634.6 254.5h2M643.4 254.5h2M634.6 242.8h2M643.4 242.8h2M634.6 231.2h2M643.4 231.2h2" stroke="#fff" stroke-width="0.7" opacity="0.8"/>
<g stroke-width="2.0" stroke-linecap="round"><path d="M717.4 233.7h0M724.6 230.7h0M720.6 221.4h0M714.8 247.8h0M712.0 253.0h0M726.0 241.4h0M714.2 237.4h0M704.5 239.1h0M712.8 233.5h0M705.4 240.3h0M703.6 226.3h0M694.7 231.3h0M714.9 256.2h0M713.4 252.1h0M731.4 220.9h0M734.1 227.0h0M749.0 214.4h0M749.7 218.9h0M741.2 220.2h0M743.7 225.6h0M738.6 226.2h0M739.7 219.2h0M732.1 225.1h0M733.9 220.3h0M748.9 221.9h0M738.1 217.2h0M746.1 225.5h0M740.5 221.0h0M731.5 227.7h0M745.6 221.4h0M752.7 237.9h0M746.0 241.4h0M749.5 242.2h0M747.5 245.8h0M755.9 238.5h0M749.0 243.2h0M752.7 224.2h0M748.7 233.5h0M752.0 243.2h0M746.4 222.6h0M751.5 235.5h0M749.4 227.4h0M746.4 226.1h0M749.9 229.1h0M734.8 237.8h0M730.8 238.2h0M732.1 243.8h0M733.1 241.0h0M738.7 239.1h0M731.7 221.5h0M725.6 221.5h0M729.9 222.9h0M725.7 225.7h0M752.2 259.9h0M749.3 254.6h0M751.4 247.9h0M746.1 269.7h0M749.7 269.2h0M768.3 270.3h0M767.2 269.6h0M767.6 266.5h0" stroke="#d4d3d8"/><path d="M710.9 230.6h0M737.7 223.5h0M737.6 230.8h0M742.4 225.1h0M748.2 239.9h0" stroke="#cfccd7"/><path d="M701.9 238.4h0M735.8 230.8h0M749.9 219.8h0M754.5 231.2h0M750.6 232.3h0M745.8 224.6h0M746.5 231.2h0M747.3 232.1h0M753.0 253.8h0M749.9 279.8h0" stroke="#cbc5d7"/><path d="M708.7 230.1h0M718.2 238.9h0M707.1 238.7h0M693.7 242.9h0M751.5 245.8h0M753.9 235.3h0M748.9 230.6h0M753.1 250.0h0M749.0 248.9h0" stroke="#c6bed6"/><path d="M697.4 228.7h0M698.8 236.7h0M707.8 231.3h0M702.4 246.4h0M704.2 247.8h0M699.0 245.9h0M695.7 231.1h0M736.6 219.4h0M740.5 225.6h0M731.8 222.3h0M733.3 221.0h0M748.8 216.3h0M739.8 229.8h0M742.2 215.0h0M734.1 221.2h0M748.3 244.4h0M749.8 241.3h0M750.5 242.1h0M750.2 246.4h0M733.9 247.8h0M737.9 236.6h0M731.4 222.7h0M730.1 220.5h0M731.1 224.1h0M750.0 276.9h0M750.3 275.1h0" stroke="#c1b7d5"/><path d="M716.8 226.2h0M736.7 218.2h0M743.0 227.2h0M749.0 213.1h0M746.5 215.4h0M747.0 217.3h0M738.8 229.1h0M741.5 224.5h0M744.3 216.1h0M745.4 240.1h0M752.3 226.3h0M748.6 241.6h0M753.4 237.2h0M747.5 243.4h0M748.4 221.4h0M753.0 239.8h0M755.5 240.1h0M749.0 223.1h0M736.7 250.7h0" stroke="#bdb0d5"/><path d="M721.4 241.4h0M699.6 242.0h0M693.8 240.9h0M696.7 239.2h0M694.8 244.4h0M694.7 236.5h0M707.2 245.1h0M703.8 231.9h0M706.5 231.3h0M708.1 233.5h0M742.9 219.5h0M747.4 211.2h0M734.6 222.2h0M746.0 213.4h0M746.8 218.6h0M730.7 221.5h0M743.7 218.7h0M741.5 227.9h0M747.3 219.8h0M754.7 244.8h0M747.5 228.0h0M748.5 225.9h0M743.8 238.5h0M749.6 239.0h0M747.1 239.4h0M750.4 229.9h0M748.6 234.7h0M747.9 236.3h0M749.7 272.3h0M768.5 265.9h0" stroke="#b8a9d4"/><path d="M706.5 240.5h0M699.8 224.7h0M727.0 238.5h0M704.9 233.2h0M700.1 251.8h0M702.1 230.6h0M705.3 250.1h0M704.3 229.3h0M700.4 244.9h0M694.9 240.7h0M712.7 240.4h0M729.9 245.6h0M697.3 230.8h0M702.7 253.7h0M702.5 242.6h0M697.8 241.4h0M702.7 251.8h0M745.9 222.2h0M732.9 226.9h0M728.8 223.7h0M734.9 219.7h0M744.7 214.8h0M750.0 216.5h0M746.1 217.8h0M728.9 221.9h0M744.8 225.1h0M735.7 229.0h0M755.6 242.7h0M747.8 224.3h0M755.1 235.7h0M751.4 240.7h0M744.9 225.4h0M753.6 234.0h0M746.1 236.8h0M751.9 223.2h0M754.5 241.0h0M750.4 233.4h0M738.1 245.5h0M731.4 246.5h0M728.2 222.6h0M727.3 224.8h0M747.1 264.6h0M752.4 271.9h0" stroke="#b09ecf"/><path d="M695.9 243.3h0M712.2 227.4h0M706.2 244.3h0M700.6 225.3h0M697.5 237.5h0M711.8 225.4h0M701.6 246.9h0M725.4 231.6h0M706.9 241.3h0M709.6 238.5h0M699.5 239.6h0M718.3 240.4h0M703.8 232.9h0M703.0 241.8h0M697.2 226.8h0M698.4 225.9h0M701.9 227.7h0M703.9 242.9h0M708.3 238.5h0M695.6 235.1h0M720.5 224.3h0M704.9 237.7h0M695.6 237.5h0M710.2 236.8h0M738.8 221.9h0M747.5 215.0h0M735.2 223.4h0M741.3 223.1h0M746.4 212.6h0M732.1 228.7h0M748.6 218.6h0M741.3 221.3h0M740.7 217.1h0M734.7 230.2h0M742.9 216.4h0M751.1 224.7h0M753.5 232.9h0M752.0 220.8h0M745.0 231.6h0M753.6 245.3h0M750.6 244.6h0M744.6 233.4h0M753.6 231.5h0M753.6 240.7h0M749.4 224.3h0M749.8 226.5h0M751.8 234.6h0M749.0 232.2h0M733.2 250.6h0M736.0 241.5h0M726.8 222.4h0M750.7 262.1h0M749.4 257.6h0M746.4 266.5h0M753.0 275.7h0M749.8 278.4h0M746.6 263.7h0M747.7 266.7h0M748.8 274.4h0M749.8 266.6h0M750.9 277.1h0M767.9 268.0h0" stroke="#a794ca"/><path d="M702.3 247.9h0M710.6 243.0h0M715.4 236.4h0M727.8 256.3h0M707.0 235.1h0M703.3 230.8h0M725.0 253.2h0M700.0 227.1h0M703.6 254.6h0M708.2 249.2h0M695.5 242.0h0M719.2 242.4h0M718.6 230.8h0M695.2 245.4h0M705.2 241.9h0M714.2 244.2h0M707.3 236.7h0M700.9 250.7h0M724.6 234.3h0M699.0 243.4h0M735.7 221.4h0M747.7 216.2h0M748.0 222.4h0M753.2 243.6h0M744.7 228.6h0M753.7 239.1h0M746.8 244.4h0M751.1 227.1h0M753.7 229.1h0M749.1 228.4h0M750.8 220.8h0M752.1 256.9h0M744.3 265.7h0M749.0 273.3h0M748.0 265.0h0M769.6 266.5h0" stroke="#9f8ac5"/><path d="M726.6 237.5h0M705.6 254.0h0M714.4 223.9h0M713.8 234.6h0M704.6 254.3h0M703.4 244.5h0M724.8 232.7h0M714.4 242.5h0M721.7 235.3h0M724.4 236.7h0M720.0 232.3h0M693.0 234.5h0M722.3 240.1h0M721.9 242.2h0M703.9 237.7h0M697.7 243.2h0M703.4 225.1h0M706.6 253.5h0M708.4 243.0h0M716.7 225.0h0M725.7 238.2h0M701.0 227.3h0M701.3 244.6h0M730.3 225.8h0M748.6 211.9h0M743.6 224.2h0M735.9 227.0h0M733.4 224.4h0M733.7 222.1h0M745.0 218.5h0M745.3 216.2h0M745.0 217.3h0M735.0 226.6h0M753.0 225.5h0M751.4 219.5h0M747.8 234.3h0M737.3 248.0h0M748.0 273.6h0M769.0 267.2h0" stroke="#977fc0"/><path d="M704.2 255.9h0M712.1 242.7h0M717.0 244.6h0M702.8 227.0h0M692.8 239.1h0M712.7 223.6h0M717.0 222.6h0M716.0 246.2h0M705.1 234.6h0M715.0 254.9h0M696.1 234.4h0M721.6 226.2h0M722.1 232.9h0M707.2 229.4h0M716.9 243.5h0M698.4 244.6h0M719.8 238.4h0M694.8 234.3h0M721.5 251.0h0M710.6 233.0h0M726.3 254.2h0M716.6 232.4h0M721.2 236.7h0M719.5 230.3h0M709.1 237.6h0M704.2 240.4h0M710.3 244.2h0M705.8 239.5h0M704.9 245.8h0M725.7 236.5h0M702.3 231.8h0M711.4 243.5h0M706.0 252.2h0M706.5 230.1h0M722.7 263.0h0M701.9 235.3h0M722.9 248.3h0M747.7 222.9h0M733.6 228.4h0M747.3 224.5h0M745.7 223.9h0M753.5 236.2h0M746.5 232.5h0M745.6 229.0h0M745.9 234.1h0M752.7 246.2h0M748.7 238.8h0M746.8 240.4h0M735.5 244.7h0M738.4 242.5h0M745.1 269.2h0M752.4 279.0h0M750.9 276.1h0M747.5 270.3h0M744.0 264.7h0M749.0 268.6h0" stroke="#8e74bb"/><path d="M712.3 228.6h0M709.1 244.1h0M718.8 234.8h0M706.9 243.4h0M702.0 250.3h0M720.0 228.5h0M717.5 249.8h0M718.9 241.2h0M712.9 239.0h0M728.5 237.8h0M725.7 233.0h0M713.9 228.6h0M721.3 225.0h0M697.4 246.9h0M720.2 246.4h0M720.5 254.4h0M695.7 246.6h0M715.3 223.6h0M719.8 225.3h0M717.3 236.7h0M712.2 231.0h0M717.9 247.1h0M721.1 234.6h0M742.3 221.4h0M745.0 241.7h0M744.1 239.3h0M744.5 235.9h0M729.1 224.2h0M750.7 252.1h0M751.0 272.7h0M748.1 275.1h0M752.1 274.6h0M746.0 264.6h0M745.0 263.2h0M751.9 280.1h0M769.5 269.1h0" stroke="#866ab6"/><path d="M716.7 221.8h0M708.4 257.7h0M712.7 226.2h0M729.1 243.4h0M724.1 237.7h0M716.2 264.6h0M705.2 247.3h0M695.5 233.1h0M702.7 243.5h0M708.6 236.0h0M710.7 249.6h0M720.5 244.1h0M700.0 247.4h0M706.1 247.8h0M724.7 246.5h0M710.7 228.0h0M706.8 232.8h0M729.4 251.3h0M714.9 257.1h0M719.8 253.1h0M721.4 228.1h0M727.7 252.0h0M722.6 256.7h0M716.3 227.4h0M723.7 230.0h0M718.7 244.4h0M718.0 228.1h0M723.6 227.9h0M709.9 228.9h0M732.0 231.2h0M751.1 239.6h0M727.0 221.2h0M747.1 269.1h0M747.5 272.2h0M745.6 267.9h0M768.2 267.3h0" stroke="#7d64b3"/><path d="M704.1 227.3h0M716.0 238.6h0M715.6 237.6h0M722.2 230.1h0M717.8 258.9h0M710.2 237.7h0M713.6 250.6h0M720.2 229.7h0M713.9 232.3h0M720.9 265.2h0M709.8 235.0h0M711.7 259.7h0M722.4 245.8h0M727.5 236.6h0M703.5 234.7h0M718.5 223.1h0M722.8 260.8h0M717.4 234.8h0M704.7 235.9h0M711.6 255.7h0M717.2 227.5h0M714.9 239.6h0M717.4 229.0h0M752.4 278.1h0M767.2 267.6h0" stroke="#755eaf"/><path d="M724.3 251.0h0M718.8 262.0h0M720.7 258.4h0M705.6 256.2h0M710.6 239.1h0M723.6 254.2h0M726.9 259.8h0M714.8 238.6h0M708.9 232.2h0M714.7 233.2h0M712.2 261.3h0M720.2 245.1h0M712.1 248.3h0M715.5 254.0h0M720.3 259.8h0M713.1 235.9h0M723.6 258.0h0M724.9 256.0h0M717.0 242.4h0M719.7 257.0h0M751.5 269.4h0" stroke="#6c58ac"/><path d="M711.8 257.4h0M713.9 260.6h0M722.3 225.6h0M724.1 262.7h0M723.4 244.6h0M729.5 241.7h0M697.3 232.5h0M722.0 260.1h0M707.1 249.1h0M727.0 245.5h0M696.5 230.0h0M717.1 264.4h0M729.1 245.1h0M723.9 243.2h0M707.1 252.4h0M723.9 260.7h0M715.2 249.0h0M707.9 247.0h0M723.8 242.3h0M719.6 248.0h0M725.7 239.3h0M718.2 266.0h0M742.7 226.0h0M749.0 270.9h0M750.8 267.7h0M749.4 267.4h0" stroke="#6353a9"/><path d="M719.4 259.6h0M714.6 251.2h0M729.6 247.9h0M707.2 257.1h0M720.6 247.9h0M722.4 266.0h0M719.0 234.0h0M714.8 230.7h0M724.3 247.9h0M721.7 252.7h0M720.9 255.9h0M717.7 253.7h0M715.1 245.7h0M708.1 256.3h0M722.9 268.6h0M724.2 249.5h0M717.0 248.7h0M721.0 256.9h0M726.8 240.5h0M708.5 251.7h0M710.5 260.2h0M719.0 222.0h0M709.5 256.4h0" stroke="#5b4da5"/><path d="M723.5 246.8h0M724.8 261.8h0M709.6 257.7h0M714.6 262.3h0M730.7 244.5h0M726.7 244.1h0M716.2 260.1h0M728.3 250.6h0M722.0 261.3h0M719.2 265.7h0M729.6 240.1h0M719.5 249.0h0M719.7 250.6h0M710.5 258.9h0M709.5 240.3h0M710.8 247.7h0M708.3 229.2h0M720.8 262.7h0M710.4 258.0h0M724.8 254.9h0M718.8 256.3h0M722.1 244.6h0M720.6 261.7h0" stroke="#5247a2"/><path d="M722.7 258.4h0M726.5 252.7h0M717.2 260.4h0M727.4 250.3h0M722.5 264.6h0" stroke="#4c48a3"/><path d="M718.6 254.8h0M718.7 251.4h0M726.0 246.0h0M726.5 260.6h0M728.3 240.6h0M722.4 247.3h0M725.8 249.9h0M709.9 255.4h0M721.9 249.7h0M713.6 258.6h0M769.3 270.5h0" stroke="#4549a3"/><path d="M725.2 263.8h0M715.5 258.6h0M729.2 249.8h0M708.1 254.3h0M718.7 264.7h0M709.6 252.3h0M727.1 254.9h0M768.4 268.8h0" stroke="#3f4aa4"/><path d="M722.8 250.3h0M724.2 263.6h0M730.9 247.2h0" stroke="#394aa5"/><path d="M709.4 259.4h0" stroke="#324ba5"/><path d="M720.9 263.8h0M719.8 263.0h0" stroke="#2c4ca6"/></g>
<path d="M687.7 207.8V286.8H778.8" fill="none" stroke="#444" stroke-width="0.9"/>
<text x="701.0" y="298.8" font-size="10.3" text-anchor="middle" >-5</text>
<text x="727.3" y="298.8" font-size="10.3" text-anchor="middle" >0</text>
<text x="753.5" y="298.8" font-size="10.3" text-anchor="middle" >5</text>
<text x="683.1" y="225.5" font-size="10.3" text-anchor="end" >2</text>
<text x="683.1" y="246.3" font-size="10.3" text-anchor="end" >0</text>
<text x="683.1" y="267.1" font-size="10.3" text-anchor="end" >-2</text>
<text x="683.1" y="287.9" font-size="10.3" text-anchor="end" >-4</text>
<path d="M701.0 286.8v2.6M727.3 286.8v2.6M753.5 286.8v2.6M687.7 221.8h-2.6M687.7 242.6h-2.6M687.7 263.4h-2.6M687.7 284.2h-2.6" stroke="#444" stroke-width="0.9"/>
<text x="733.2" y="313.3" font-size="12" text-anchor="middle" >UMAP_1</text>
<text x="0" y="0" font-size="12" text-anchor="middle" transform="translate(668.7,247.3) rotate(-90)">UMAP_2</text>
<text x="732.5" y="201.3" font-size="12" text-anchor="middle" >Il6st</text>
<rect x="790.3" y="222.5" width="10.2" height="54.1" fill="url(#cbg)"/>
<text x="804.5" y="280.2" font-size="10.3" text-anchor="start" >0</text>
<text x="804.5" y="262.7" font-size="10.3" text-anchor="start" >1</text>
<text x="804.5" y="245.3" font-size="10.3" text-anchor="start" >2</text>
<text x="804.5" y="227.8" font-size="10.3" text-anchor="start" >3</text>
<path d="M790.3 259.1h2M798.5 259.1h2M790.3 241.7h2M798.5 241.7h2M790.3 224.2h2M798.5 224.2h2" stroke="#fff" stroke-width="0.7" opacity="0.8"/>
<g stroke-width="2.0" stroke-linecap="round"><path d="M859.7 247.9h0M874.3 244.6h0M860.2 227.0h0M853.4 243.3h0M875.9 254.8h0M862.3 233.2h0M863.6 244.3h0M866.1 230.1h0M850.4 239.1h0M858.1 225.3h0M867.9 239.1h0M857.1 242.0h0M851.3 240.9h0M854.2 239.2h0M854.8 232.5h0M855.0 237.5h0M864.3 243.4h0M853.0 233.1h0M861.7 229.3h0M853.6 234.4h0M860.2 243.5h0M870.9 250.6h0M862.0 254.3h0M860.8 244.5h0M865.2 231.3h0M883.7 260.6h0M857.9 244.9h0M869.1 225.4h0M882.0 232.7h0M855.8 244.6h0M872.2 230.7h0M877.1 238.4h0M868.0 249.6h0M877.8 244.1h0M879.0 235.3h0M878.7 251.0h0M882.6 231.6h0M863.5 247.8h0M864.3 241.3h0M859.4 238.4h0M859.8 246.4h0M873.9 232.4h0M867.0 238.5h0M857.0 239.6h0M886.8 240.1h0M882.9 233.0h0M861.6 247.8h0M861.2 232.9h0M868.0 228.0h0M854.7 226.8h0M868.2 230.6h0M880.2 268.6h0M866.7 259.4h0M855.9 225.9h0M859.3 227.7h0M869.4 248.3h0M865.6 229.2h0M861.3 237.7h0M861.0 234.7h0M881.2 243.2h0M854.8 230.8h0M872.8 254.0h0M855.2 243.2h0M878.2 256.9h0M860.9 225.1h0M861.7 240.4h0M861.2 231.9h0M860.1 253.7h0M860.0 242.6h0M853.1 235.1h0M877.1 225.3h0M871.6 244.2h0M884.9 252.0h0M852.2 231.3h0M862.3 237.7h0M853.1 237.5h0M870.4 235.9h0M864.7 236.7h0M858.4 250.7h0M863.9 231.3h0M873.6 227.4h0M880.9 230.0h0M859.8 231.8h0M863.9 230.1h0M870.9 258.6h0M884.3 254.9h0M860.1 251.8h0M870.7 252.1h0M893.9 218.2h0M903.0 222.2h0M894.8 223.5h0M890.1 226.9h0M888.6 220.9h0M892.8 221.4h0M894.7 230.8h0M900.1 227.2h0M890.7 228.4h0M906.0 213.1h0M892.0 219.7h0M904.3 224.5h0M903.6 215.4h0M899.4 225.1h0M896.7 219.2h0M904.0 217.3h0M889.2 225.1h0M903.8 218.6h0M891.0 220.3h0M902.1 218.5h0M905.9 221.9h0M903.4 212.6h0M887.9 221.5h0M889.2 228.7h0M893.0 230.8h0M895.2 217.2h0M905.6 218.6h0M903.1 225.5h0M902.8 223.9h0M897.5 221.0h0M900.8 218.7h0M891.9 230.2h0M899.3 215.0h0M891.3 221.2h0M902.6 221.4h0M900.0 216.4h0M899.7 226.0h0M886.1 221.9h0M902.1 217.3h0M899.3 221.4h0M904.7 216.2h0M904.3 219.8h0M892.8 229.0h0M892.1 226.6h0M908.1 239.6h0M910.0 225.5h0M910.2 243.6h0M902.5 240.1h0M910.4 232.9h0M912.6 242.7h0M907.6 232.3h0M910.7 239.1h0M903.0 241.4h0M903.8 244.4h0M908.5 245.8h0M912.0 235.7h0M905.2 239.9h0M910.9 235.3h0M908.4 240.7h0M908.1 227.1h0M909.0 220.8h0M902.0 231.6h0M905.6 241.6h0M911.7 244.8h0M907.6 244.6h0M910.3 237.2h0M902.0 225.4h0M910.5 231.5h0M904.5 228.0h0M902.6 229.0h0M910.5 234.0h0M900.9 238.5h0M908.4 219.5h0M906.8 241.3h0M905.4 221.4h0M902.9 234.1h0M909.0 243.2h0M905.9 230.6h0M906.8 226.5h0M909.6 246.2h0M908.5 235.5h0M910.0 239.8h0M907.2 246.4h0M906.4 227.4h0M908.8 234.6h0M907.4 229.9h0M904.4 232.1h0M901.5 235.9h0M906.0 232.2h0M904.9 236.3h0M891.9 237.8h0M887.9 238.2h0M895.0 236.6h0M894.4 248.0h0M889.2 243.8h0M890.2 241.0h0M893.1 241.5h0M893.8 250.7h0M895.2 245.5h0M892.6 244.7h0M895.5 242.5h0M888.6 246.5h0M886.3 224.2h0M888.5 222.7h0M887.3 220.5h0M882.8 221.5h0M884.0 222.4h0M887.1 222.9h0M884.2 221.2h0M888.3 224.1h0M883.0 225.7h0M884.5 224.8h0M910.1 250.0h0M906.0 248.9h0M906.4 257.6h0M909.9 253.8h0M908.4 247.9h0M908.0 272.7h0M906.0 270.9h0M906.7 278.4h0M901.3 265.7h0M907.8 276.1h0M903.7 263.7h0M904.5 272.2h0M907.0 276.9h0M902.1 263.2h0M909.4 278.1h0M906.4 267.4h0M906.7 269.2h0M909.3 271.9h0M905.8 274.4h0M906.0 268.6h0M908.4 269.4h0M925.0 267.3h0M924.7 268.0h0M925.2 270.3h0M924.0 269.6h0M925.3 265.9h0M926.3 269.1h0M926.4 266.5h0M925.8 267.2h0M924.0 267.6h0M926.1 270.5h0M925.2 268.8h0M924.4 266.5h0" stroke="#d4d3d8"/><path d="M863.8 240.5h0M857.3 224.7h0M870.0 223.6h0M864.6 229.4h0M859.0 246.9h0M852.4 234.3h0M852.2 236.5h0M866.2 232.2h0M852.4 240.7h0M865.7 238.5h0M863.2 239.5h0M862.3 245.8h0M863.4 252.2h0M856.5 243.4h0M859.4 235.3h0M867.3 228.9h0M893.7 219.4h0M900.6 224.2h0M898.3 223.1h0M895.9 229.1h0M898.4 221.3h0M904.5 245.8h0M912.9 238.5h0M905.7 233.5h0M907.8 220.8h0M907.5 242.1h0M906.9 229.1h0M895.8 239.1h0M888.9 221.5h0M906.7 272.3h0M902.6 267.9h0M904.1 264.6h0" stroke="#cfccd7"/><path d="M861.5 227.3h0M867.2 235.0h0M864.1 232.8h0M856.5 245.9h0M865.5 233.5h0M900.0 219.5h0M900.8 225.6h0M890.4 221.0h0M907.0 216.5h0M898.6 227.9h0M904.8 224.3h0M902.8 224.6h0M906.5 242.2h0M903.5 231.2h0M906.0 243.2h0M901.2 239.3h0M904.1 239.4h0M905.5 234.7h0M909.2 259.9h0" stroke="#cbc5d7"/><path d="M869.5 227.4h0M854.9 228.7h0M857.5 251.8h0M862.7 250.1h0M864.5 249.1h0M859.4 250.3h0M865.9 236.0h0M864.4 238.7h0M865.6 249.2h0M854.9 246.9h0M862.1 235.9h0M862.6 241.9h0M861.4 242.9h0M883.0 238.2h0M858.7 244.6h0M895.9 221.9h0M893.0 227.0h0M905.8 216.3h0M906.8 219.8h0M910.5 240.7h0M908.9 223.2h0M902.1 269.2h0" stroke="#c6bed6"/><path d="M862.6 247.3h0M860.4 241.8h0M854.0 230.0h0M853.2 231.1h0M864.6 245.1h0M889.1 231.2h0M904.5 215.0h0M904.4 211.2h0M890.6 224.4h0M897.8 217.1h0M903.1 217.8h0M905.0 222.4h0M908.1 224.7h0M901.6 233.4h0M909.7 224.2h0M906.4 224.3h0M905.7 238.8h0M906.0 223.1h0M891.0 247.8h0M909.0 256.9h0M904.5 270.3h0M903.0 264.6h0M906.8 266.6h0" stroke="#c1b7d5"/><path d="M856.3 236.7h0M852.3 244.4h0M860.8 230.8h0M857.4 227.1h0M857.5 247.4h0M867.9 233.0h0M861.0 254.6h0M870.2 233.5h0M866.5 237.6h0M880.8 227.9h0M858.5 227.3h0M887.5 225.8h0M891.3 227.0h0M906.7 218.9h0M892.3 223.4h0M890.9 222.1h0M901.8 225.1h0M909.3 226.3h0M905.5 225.9h0M906.6 239.0h0M903.4 222.6h0M903.8 240.4h0M890.4 250.6h0" stroke="#bdb0d5"/><path d="M874.3 222.6h0M850.5 234.5h0M866.8 240.3h0M878.5 236.7h0M862.8 240.3h0M853.2 246.6h0M852.7 245.4h0M855.3 241.4h0M874.7 229.0h0M904.7 222.9h0M905.6 211.9h0M888.9 222.3h0M898.2 220.2h0M895.7 226.2h0M888.7 227.7h0M901.4 216.1h0M902.1 241.7h0M912.4 240.1h0M907.4 233.4h0M885.4 222.6h0M903.4 266.5h0M905.0 265.0h0" stroke="#b8a9d4"/><path d="M861.6 255.9h0M869.4 242.7h0M859.6 230.6h0M864.4 235.1h0M862.0 239.1h0M861.1 226.3h0M865.9 251.7h0M886.0 223.7h0M906.0 214.4h0M901.8 214.8h0M896.9 229.8h0M909.7 237.9h0M910.4 236.2h0M905.3 244.4h0" stroke="#b09ecf"/><path d="M884.2 238.5h0M878.7 241.4h0M881.3 237.7h0M872.1 238.6h0M875.5 238.9h0M879.5 240.1h0M872.6 223.6h0M874.5 227.5h0M872.2 239.6h0M882.9 239.3h0M891.8 222.2h0M903.1 213.4h0M911.4 231.2h0M901.8 228.6h0M910.6 245.3h0M910.7 229.1h0M906.1 228.4h0M903.5 232.5h0M911.5 241.0h0M907.7 252.1h0M906.3 254.6h0M907.7 262.1h0M903.2 269.7h0" stroke="#a794ca"/><path d="M869.6 228.6h0M871.7 242.5h0M881.6 236.7h0M871.2 228.6h0M853.0 242.0h0M875.9 230.8h0M851.2 242.9h0M897.6 225.6h0M902.3 216.2h0M904.5 243.4h0M903.2 236.8h0M903.4 226.1h0M904.8 234.3h0M904.2 269.1h0M907.8 267.7h0M905.0 273.6h0" stroke="#9f8ac5"/><path d="M883.8 237.5h0M868.0 243.0h0M879.5 230.1h0M862.5 234.6h0M871.7 223.9h0M877.8 221.4h0M871.2 232.3h0M875.6 240.4h0M878.5 225.0h0M872.5 245.7h0M876.7 230.3h0M864.5 252.4h0M906.0 273.3h0M901.0 264.7h0" stroke="#977fc0"/><path d="M876.1 234.8h0M881.8 230.7h0M879.3 232.9h0M879.6 247.3h0M877.3 232.3h0M885.7 237.8h0M872.0 233.2h0M869.5 261.3h0M868.1 247.7h0M879.1 242.2h0M874.7 234.8h0M878.7 228.1h0M867.7 244.2h0M881.8 234.3h0M882.9 236.5h0M876.2 222.0h0M867.6 236.8h0M874.3 242.4h0" stroke="#8e74bb"/><path d="M874.1 226.2h0M874.0 221.8h0M874.7 233.7h0M866.4 244.1h0M872.7 236.4h0M878.0 258.4h0M877.8 247.9h0M877.5 229.7h0M874.2 243.5h0M871.5 237.4h0M876.1 241.2h0M884.7 236.6h0M867.9 258.9h0M876.5 242.4h0M870.1 240.4h0M879.7 264.6h0M864.0 253.5h0M865.7 243.0h0M874.0 225.0h0M875.9 244.4h0M869.6 231.0h0M875.3 228.1h0M898.5 224.5h0M909.3 279.0h0" stroke="#866ab6"/><path d="M882.1 261.8h0M873.3 238.6h0M879.5 225.6h0M863.0 256.2h0M873.3 246.2h0M872.9 237.6h0M863.0 254.0h0M880.8 254.2h0M867.5 237.7h0M872.1 247.8h0M883.2 246.0h0M878.2 265.2h0M881.5 263.6h0M886.3 245.1h0M865.3 247.0h0M879.8 256.7h0M868.8 243.5h0M878.4 234.6h0M910.0 275.7h0" stroke="#7d64b3"/><path d="M871.9 262.3h0M871.1 234.6h0M877.3 228.5h0M876.3 234.0h0M882.3 253.2h0M883.2 241.4h0M883.0 249.9h0M881.4 249.5h0M865.5 254.3h0M877.5 245.1h0M880.1 260.8h0M877.6 259.8h0M867.9 260.2h0M867.8 258.0h0M905.1 275.1h0" stroke="#755eaf"/><path d="M881.5 251.0h0M876.1 262.0h0M871.9 251.2h0M883.7 252.7h0M882.5 263.8h0M886.3 243.4h0M873.5 260.1h0M873.5 264.6h0M872.9 258.6h0M875.0 253.7h0M875.8 223.1h0M872.5 249.0h0M884.6 250.3h0M888.0 247.2h0M877.7 224.3h0M866.9 256.4h0" stroke="#6c58ac"/><path d="M866.9 257.7h0M865.8 257.7h0M886.8 247.9h0M876.0 251.4h0M879.2 260.1h0M885.5 250.6h0M877.5 246.4h0M886.6 251.3h0M872.3 257.1h0M877.1 253.1h0M877.7 254.4h0M874.6 236.7h0M880.8 258.0h0M866.9 252.3h0M909.1 274.6h0M907.9 277.1h0" stroke="#6353a9"/><path d="M886.6 241.7h0M887.9 244.5h0M883.9 244.1h0M875.1 258.9h0M864.6 257.1h0M872.3 254.9h0M885.0 256.3h0M878.9 226.2h0M880.0 250.3h0M885.5 240.6h0M869.0 259.7h0M876.9 250.6h0M865.5 256.3h0M887.1 245.6h0M884.0 240.5h0M904.7 266.7h0" stroke="#5b4da5"/><path d="M869.1 257.4h0M878.2 263.8h0M882.0 246.5h0M870.2 239.0h0M867.2 255.4h0M875.9 264.7h0M878.1 262.7h0M876.9 248.0h0M882.2 256.0h0M908.9 280.1h0M906.9 279.8h0" stroke="#5247a2"/><path d="M879.9 258.4h0M881.3 262.7h0M880.6 244.6h0M870.1 226.2h0M874.5 260.4h0M869.4 253.0h0M879.0 252.7h0M876.8 249.0h0M877.1 263.0h0M874.4 264.4h0M875.5 266.0h0M877.0 257.0h0M872.2 256.2h0M880.2 248.3h0M907.2 275.1h0" stroke="#4c48a3"/><path d="M871.3 260.6h0M879.7 266.0h0M876.4 265.7h0M879.1 249.7h0M881.1 260.7h0M874.3 248.7h0M882.1 254.9h0" stroke="#4549a3"/><path d="M884.1 259.8h0M879.2 261.3h0M884.2 245.5h0M879.7 245.8h0M878.2 255.9h0M886.3 249.8h0M869.0 255.7h0M877.8 261.7h0" stroke="#3f4aa4"/><path d="M880.8 246.8h0M876.7 259.6h0M883.5 254.2h0M881.6 247.9h0M876.1 256.3h0M879.4 244.6h0" stroke="#394aa5"/><path d="M874.7 249.8h0M881.1 242.3h0M875.1 247.1h0M879.9 263.0h0" stroke="#324ba5"/></g>
<path d="M845.3 207.8V286.8H935.5" fill="none" stroke="#444" stroke-width="0.9"/>
<text x="858.5" y="298.8" font-size="10.3" text-anchor="middle" >-5</text>
<text x="884.5" y="298.8" font-size="10.3" text-anchor="middle" >0</text>
<text x="910.5" y="298.8" font-size="10.3" text-anchor="middle" >5</text>
<text x="840.7" y="225.5" font-size="10.3" text-anchor="end" >2</text>
<text x="840.7" y="246.3" font-size="10.3" text-anchor="end" >0</text>
<text x="840.7" y="267.1" font-size="10.3" text-anchor="end" >-2</text>
<text x="840.7" y="287.9" font-size="10.3" text-anchor="end" >-4</text>
<path d="M858.5 286.8v2.6M884.5 286.8v2.6M910.5 286.8v2.6M845.3 221.8h-2.6M845.3 242.6h-2.6M845.3 263.4h-2.6M845.3 284.2h-2.6" stroke="#444" stroke-width="0.9"/>
<text x="890.4" y="313.3" font-size="12" text-anchor="middle" >UMAP_1</text>
<text x="0" y="0" font-size="12" text-anchor="middle" transform="translate(826.3,247.3) rotate(-90)">UMAP_2</text>
<text x="889.5" y="201.3" font-size="12" text-anchor="middle" >Sfrp1</text>
<rect x="947.2" y="222.9" width="10.2" height="53.7" fill="url(#cbg)"/>
<text x="961.4" y="280.2" font-size="10.3" text-anchor="start" >0</text>
<text x="961.4" y="266.9" font-size="10.3" text-anchor="start" >1</text>
<text x="961.4" y="253.7" font-size="10.3" text-anchor="start" >2</text>
<text x="961.4" y="240.4" font-size="10.3" text-anchor="start" >3</text>
<text x="961.4" y="227.2" font-size="10.3" text-anchor="start" >4</text>
<path d="M947.2 263.3h2M955.4 263.3h2M947.2 250.1h2M955.4 250.1h2M947.2 236.8h2M955.4 236.8h2M947.2 223.6h2M955.4 223.6h2" stroke="#fff" stroke-width="0.7" opacity="0.8"/>
<g stroke-width="2.0" stroke-linecap="round"><path d="M550.3 381.0h0M570.5 404.0h0M555.8 410.5h0M564.9 407.7h0M560.9 414.9h0M551.9 409.0h0M562.5 412.8h0M573.1 412.5h0M562.4 417.2h0M564.0 411.7h0M560.6 377.7h0M574.0 409.1h0M542.4 387.8h0M574.5 403.6h0M558.0 379.1h0M574.5 393.9h0M563.7 402.7h0M558.3 405.9h0M571.6 385.1h0M556.1 388.5h0M572.5 407.1h0M553.3 392.0h0M550.5 400.8h0M572.0 402.9h0M567.5 378.7h0M549.3 395.0h0M542.8 383.6h0M575.3 402.8h0M555.6 412.1h0M542.0 384.6h0M564.8 376.9h0M570.1 413.4h0M544.0 396.4h0M563.2 401.7h0M550.5 393.6h0M567.7 381.8h0M568.7 417.1h0M557.9 408.6h0M552.1 392.8h0M551.2 398.9h0M562.5 381.1h0M565.8 401.0h0M570.8 387.8h0M571.0 407.8h0M555.8 405.2h0M566.8 414.3h0M568.9 415.7h0M578.2 384.7h0M582.9 372.1h0M585.0 375.7h0M592.1 376.0h0M583.9 377.2h0M576.5 379.5h0M579.1 380.5h0M577.6 374.7h0M580.3 380.7h0M581.8 375.2h0M593.9 376.7h0M589.1 373.4h0M582.7 373.2h0M595.1 368.4h0M589.7 378.0h0M593.6 369.0h0M589.1 380.8h0M586.7 379.3h0M587.3 374.1h0M582.1 380.7h0M579.8 382.0h0M584.8 379.8h0M581.0 373.6h0M590.9 368.8h0M593.5 365.3h0M579.4 374.8h0M594.9 370.3h0M593.4 378.2h0M592.7 369.4h0M588.5 378.8h0M585.8 373.0h0M585.9 383.4h0M593.1 371.2h0M592.2 367.4h0M581.4 377.1h0M578.3 378.8h0M579.9 375.9h0M580.1 374.1h0M595.0 375.7h0M584.9 382.7h0M591.4 370.2h0M592.6 366.6h0M576.9 375.3h0M582.0 384.4h0M584.3 371.1h0M587.5 375.1h0M592.2 379.2h0M586.9 371.0h0M591.9 377.7h0M596.1 370.5h0M586.6 374.8h0M589.9 372.6h0M580.9 383.8h0M587.6 378.2h0M580.3 375.0h0M577.7 381.3h0M592.2 371.7h0M589.1 370.4h0M587.7 381.6h0M575.1 375.7h0M591.2 371.2h0M588.4 375.2h0M593.8 370.2h0M593.4 373.6h0M590.9 378.8h0M590.4 370.0h0M581.8 382.6h0M581.1 380.3h0M597.2 392.9h0M596.0 373.6h0M599.1 379.1h0M594.1 376.2h0M600.6 384.7h0M599.3 396.8h0M597.2 378.4h0M599.6 386.4h0M594.5 397.6h0M601.7 395.9h0M596.7 385.8h0M592.1 394.7h0M592.9 397.5h0M594.0 378.1h0M595.6 395.4h0M601.2 389.1h0M592.7 384.7h0M594.3 393.2h0M600.0 388.7h0M597.5 394.0h0M597.2 380.7h0M591.1 385.1h0M599.7 398.4h0M594.7 394.8h0M600.8 398.0h0M599.8 382.7h0M596.7 397.7h0M599.5 390.5h0M602.0 391.8h0M595.3 382.0h0M591.1 379.1h0M592.6 386.0h0M590.7 386.9h0M599.7 385.0h0M593.6 381.6h0M591.7 382.6h0M598.8 377.9h0M590.3 392.6h0M599.7 393.9h0M599.7 387.4h0M594.6 379.6h0M593.6 396.6h0M590.0 391.8h0M592.3 390.1h0M595.5 378.0h0M594.8 387.0h0M595.8 392.3h0M595.9 394.6h0M594.5 375.2h0M593.2 392.7h0M592.0 387.6h0M598.1 396.4h0M595.1 384.1h0M596.9 374.7h0M595.9 380.2h0M592.6 376.4h0M596.6 395.4h0M598.8 399.3h0M597.6 388.9h0M596.4 399.4h0M594.9 392.2h0M601.5 393.3h0M592.5 379.8h0M597.9 388.0h0M600.6 394.2h0M593.5 385.6h0M595.1 376.8h0M594.7 388.2h0M590.6 389.3h0M595.1 385.7h0M596.5 386.9h0M596.0 382.7h0M593.9 387.7h0M594.1 389.7h0M577.0 391.5h0M580.0 400.9h0M583.5 401.0h0M578.2 396.9h0M579.2 394.2h0M582.8 403.7h0M584.3 398.7h0M584.6 395.7h0M577.6 399.6h0M575.3 377.9h0M577.9 375.3h0M577.5 376.5h0M576.3 374.4h0M571.8 375.3h0M573.0 376.2h0M576.1 376.7h0M573.2 375.0h0M577.3 377.9h0M571.9 379.4h0M573.5 378.6h0M599.2 403.0h0M598.3 412.6h0M595.2 401.9h0M596.8 405.0h0M598.2 409.7h0M595.4 407.5h0M596.8 414.7h0M595.5 410.4h0M599.1 406.7h0M597.5 400.9h0M593.3 421.5h0M599.1 428.0h0M594.3 427.3h0M595.1 423.3h0M595.8 424.7h0M590.4 418.2h0M593.6 422.7h0M592.8 416.3h0M595.1 425.6h0M597.0 420.2h0M593.6 424.6h0M592.1 417.2h0M596.2 429.1h0M591.2 415.8h0M598.5 430.2h0M594.2 417.6h0M595.6 419.9h0M591.7 420.4h0M594.1 425.9h0M598.0 432.2h0M592.3 422.1h0M595.8 421.7h0M598.5 424.2h0M593.8 419.2h0M595.9 419.1h0M596.4 427.4h0M595.2 421.0h0M614.3 419.8h0M613.9 420.5h0M614.4 422.7h0M613.2 422.0h0M614.5 418.4h0M615.6 421.5h0M615.7 419.0h0M615.1 419.7h0M613.2 420.1h0M615.4 422.9h0M614.4 421.2h0M613.7 419.0h0" stroke="#d4d3d8"/><path d="M583.8 384.4h0M595.8 372.7h0M577.9 376.1h0M580.8 376.0h0M587.4 376.9h0M592.9 372.5h0M594.7 372.5h0M588.4 369.0h0M599.8 392.4h0M591.9 378.3h0M593.6 398.9h0M598.4 380.0h0M595.1 396.4h0M599.1 393.1h0M595.5 381.0h0M592.9 393.6h0M581.0 391.1h0M579.4 403.6h0M584.0 390.0h0M582.1 394.7h0M581.7 397.8h0M574.4 376.3h0M597.1 425.0h0" stroke="#cfccd7"/><path d="M591.2 372.4h0M578.3 382.3h0M599.6 389.6h0M591.2 394.9h0M597.5 373.4h0M584.8 392.4h0" stroke="#cbc5d7"/><path d="M594.7 365.9h0M591.7 375.2h0M591.6 393.4h0M598.1 374.6h0M598.0 377.0h0M596.5 383.5h0" stroke="#c6bed6"/><path d="M572.9 397.3h0M568.7 418.5h0M548.2 403.3h0M589.9 379.3h0M597.6 398.9h0M591.2 421.7h0" stroke="#c1b7d5"/><path d="M546.7 398.1h0M557.9 412.4h0M564.1 400.2h0M564.4 418.6h0M575.0 377.5h0M588.8 379.7h0M598.8 391.2h0M590.9 382.2h0M593.3 417.2h0M597.6 421.8h0" stroke="#bdb0d5"/><path d="M565.4 418.2h0M575.3 398.2h0" stroke="#b8a9d4"/><path d="M569.6 397.8h0M567.1 416.4h0M559.8 403.6h0M556.8 411.7h0M568.8 409.5h0M547.2 403.7h0M559.8 411.3h0M595.2 367.1h0M579.6 378.2h0M590.1 417.3h0" stroke="#b09ecf"/><path d="M550.5 408.7h0M560.2 413.2h0M560.9 404.1h0M575.8 401.0h0M546.3 380.7h0M567.7 403.9h0M563.9 406.6h0M542.0 399.7h0M552.2 405.1h0M549.0 404.7h0M569.1 401.3h0M559.6 405.0h0" stroke="#a794ca"/><path d="M569.8 399.9h0M571.0 414.5h0M575.3 396.6h0M553.1 396.5h0M551.5 400.4h0M568.2 412.8h0M549.6 384.3h0M549.9 407.4h0M567.2 408.7h0M553.0 386.3h0M545.3 399.0h0M570.4 402.5h0M566.5 398.3h0M570.2 396.4h0M549.0 406.5h0M551.2 391.0h0M556.7 410.7h0M555.8 409.2h0M592.5 419.0h0" stroke="#9f8ac5"/><path d="M551.2 386.7h0M563.4 413.1h0M569.8 407.0h0M561.2 407.7h0M553.3 388.6h0M566.8 400.9h0M544.7 397.7h0M571.2 406.1h0M541.2 387.8h0M565.7 402.1h0M566.1 415.6h0M570.5 416.2h0M565.9 403.6h0M569.1 421.1h0M575.6 404.3h0M561.2 409.9h0M553.5 398.2h0M573.6 403.3h0M570.0 395.5h0M565.1 409.1h0M547.3 380.9h0" stroke="#977fc0"/><path d="M552.7 393.8h0M572.8 390.8h0M546.4 404.7h0M576.9 397.7h0M571.4 416.4h0M565.0 404.4h0M541.1 397.5h0M569.0 403.3h0M550.9 407.1h0M572.2 399.1h0M554.1 384.8h0M572.7 413.3h0M546.3 400.5h0M553.1 394.6h0M570.6 400.9h0M541.1 389.9h0M567.9 405.6h0M571.9 386.5h0M566.1 406.0h0M563.4 417.0h0M576.1 398.7h0M567.2 409.7h0M551.0 389.3h0M551.5 395.1h0M541.9 388.5h0M567.0 415.3h0M573.9 404.9h0M554.4 387.0h0M571.2 408.8h0M565.9 409.8h0" stroke="#8e74bb"/><path d="M563.0 379.9h0M548.6 400.9h0M565.7 412.3h0M549.1 380.7h0M565.0 414.6h0M543.8 382.3h0M554.7 410.5h0M551.6 403.1h0M546.9 379.0h0M550.6 382.9h0M560.4 390.7h0M552.4 400.8h0M570.9 399.6h0M548.2 391.7h0M554.4 409.1h0M543.7 400.0h0M566.4 399.5h0M555.4 390.9h0M569.1 413.5h0M566.6 412.5h0M548.8 395.8h0M566.7 378.0h0M541.0 384.8h0M568.3 397.8h0M556.2 382.5h0" stroke="#866ab6"/><path d="M549.0 396.7h0M549.7 397.6h0M547.9 400.0h0M556.8 386.5h0M572.2 394.7h0M568.6 398.9h0M575.8 393.4h0M550.8 392.4h0M541.2 394.0h0M548.2 381.3h0M554.3 407.2h0M549.8 388.1h0M561.8 406.8h0M541.5 398.5h0M561.6 377.4h0M553.6 390.1h0M564.9 397.6h0M548.6 385.3h0M548.2 388.7h0M547.6 397.7h0" stroke="#7d64b3"/><path d="M558.0 410.1h0M563.6 387.1h0M572.7 405.6h0M570.3 415.3h0M567.0 411.1h0M575.7 395.0h0M559.0 379.9h0M545.9 395.3h0M545.1 390.1h0M543.0 392.5h0M551.4 388.0h0M566.3 382.1h0M554.8 389.4h0M561.8 411.3h0M545.8 392.9h0M568.1 402.7h0M564.9 417.3h0M562.9 378.7h0M559.3 389.3h0M556.8 412.9h0M571.9 392.6h0M573.3 407.7h0" stroke="#755eaf"/><path d="M568.9 411.2h0M556.9 396.2h0M552.5 397.5h0M563.2 376.4h0M568.5 383.7h0M543.7 386.0h0M543.5 380.5h0M557.1 384.2h0M558.5 414.0h0M554.5 382.8h0M550.2 391.1h0M551.7 393.6h0M543.6 384.4h0M563.6 388.2h0M550.1 385.4h0M549.9 380.0h0M577.0 400.2h0M573.0 393.8h0M554.5 391.8h0M569.8 410.8h0M571.9 389.9h0" stroke="#6c58ac"/><path d="M568.5 379.3h0M555.0 383.7h0M562.2 399.3h0M564.4 392.2h0M541.8 386.6h0M566.8 375.2h0M565.2 387.4h0M561.1 384.2h0M567.2 417.7h0M568.6 400.3h0M555.1 385.7h0M550.1 386.4h0M556.1 408.2h0M541.8 395.2h0M561.4 398.8h0M552.8 406.4h0M554.8 404.6h0M561.1 392.9h0M565.2 375.8h0M598.2 426.8h0" stroke="#6353a9"/><path d="M542.2 396.5h0M546.1 378.5h0M573.2 391.8h0M539.2 392.4h0M567.6 394.6h0M561.0 391.9h0M553.4 409.9h0M556.5 391.1h0M566.8 397.3h0M566.2 385.8h0M548.7 399.5h0M574.7 391.1h0M554.5 402.2h0M539.3 387.9h0M559.1 386.9h0M544.7 379.6h0M541.9 390.8h0M552.8 384.8h0M544.1 394.7h0M545.3 396.6h0M594.9 426.7h0" stroke="#5b4da5"/><path d="M558.5 381.1h0M555.3 397.3h0M570.3 391.0h0M543.8 390.8h0M553.5 383.0h0M571.0 386.2h0M568.2 413.9h0M560.2 385.8h0M555.9 391.9h0M556.9 381.6h0M560.9 386.6h0M565.4 395.6h0M553.4 405.3h0M549.7 378.8h0M550.2 396.1h0M556.6 397.3h0M563.4 381.1h0M557.7 396.7h0M564.3 381.7h0M563.7 382.6h0M567.3 388.0h0M561.2 409.0h0M598.5 431.2h0M596.0 432.0h0" stroke="#5247a2"/><path d="M562.9 375.6h0M563.2 397.7h0M558.9 377.4h0M548.4 384.1h0M565.0 388.3h0M570.8 384.2h0M567.9 379.9h0M568.3 386.4h0M560.0 388.1h0M567.9 388.7h0M570.6 390.1h0M562.9 385.9h0M573.7 390.0h0M560.1 382.2h0M555.7 393.6h0M567.4 390.1h0M540.0 396.0h0M558.3 401.4h0M561.4 402.0h0M566.7 407.3h0M554.6 396.2h0M569.9 383.6h0M569.8 381.5h0" stroke="#4c48a3"/><path d="M540.1 394.2h0M553.4 402.1h0M566.1 391.7h0M565.1 394.5h0M564.9 384.3h0M554.2 400.1h0M560.5 397.4h0M558.5 384.5h0M556.5 390.2h0M597.0 429.3h0" stroke="#4549a3"/><path d="M558.5 382.2h0M556.8 392.4h0M551.8 406.8h0M561.1 400.9h0M563.2 396.7h0M556.9 402.6h0M560.6 395.7h0M573.2 398.7h0M564.5 393.7h0M568.5 393.3h0M565.7 383.8h0M566.1 379.0h0M563.5 390.1h0M552.8 383.6h0M597.0 428.3h0" stroke="#3f4aa4"/><path d="M558.3 395.9h0M561.8 391.0h0M559.1 392.3h0M557.0 400.8h0M572.0 391.5h0M563.2 395.6h0" stroke="#394aa5"/><path d="M561.7 389.8h0M566.5 383.2h0M568.1 395.4h0M559.0 393.7h0" stroke="#324ba5"/><path d="M562.3 392.0h0M595.9 430.6h0" stroke="#2c4ca6"/></g>
<path d="M534.4 362.0V438.9H624.8" fill="none" stroke="#444" stroke-width="0.9"/>
<text x="547.4" y="450.9" font-size="10.3" text-anchor="middle" >-5</text>
<text x="573.5" y="450.9" font-size="10.3" text-anchor="middle" >0</text>
<text x="599.6" y="450.9" font-size="10.3" text-anchor="middle" >5</text>
<text x="529.8" y="379.3" font-size="10.3" text-anchor="end" >2</text>
<text x="529.8" y="399.5" font-size="10.3" text-anchor="end" >0</text>
<text x="529.8" y="419.7" font-size="10.3" text-anchor="end" >-2</text>
<text x="529.8" y="439.9" font-size="10.3" text-anchor="end" >-4</text>
<path d="M547.4 438.9v2.6M573.5 438.9v2.6M599.6 438.9v2.6M534.4 375.6h-2.6M534.4 395.8h-2.6M534.4 416.0h-2.6M534.4 436.2h-2.6" stroke="#444" stroke-width="0.9"/>
<text x="579.6" y="465.4" font-size="12" text-anchor="middle" >UMAP_1</text>
<text x="0" y="0" font-size="12" text-anchor="middle" transform="translate(515.4,400.4) rotate(-90)">UMAP_2</text>
<text x="578.6" y="355.8" font-size="12" text-anchor="middle" >Ccn5</text>
<rect x="633.5" y="376.8" width="10.1" height="52" fill="url(#cbg)"/>
<text x="647.6" y="432.4" font-size="10.3" text-anchor="start" >0</text>
<text x="647.6" y="418.0" font-size="10.3" text-anchor="start" >1</text>
<text x="647.6" y="403.5" font-size="10.3" text-anchor="start" >2</text>
<text x="647.6" y="389.1" font-size="10.3" text-anchor="start" >3</text>
<path d="M633.5 414.4h2M641.6 414.4h2M633.5 399.9h2M641.6 399.9h2M633.5 385.5h2M641.6 385.5h2" stroke="#fff" stroke-width="0.7" opacity="0.8"/>
<g stroke-width="2.0" stroke-linecap="round"><path d="M756.4 398.5h0M756.7 392.3h0" stroke="#9f8ac5"/><path d="M753.7 369.3h0M756.7 378.1h0M754.3 397.0h0M754.2 394.6h0M759.2 392.5h0M755.5 387.1h0" stroke="#977fc0"/><path d="M758.2 383.7h0M759.3 395.1h0M757.4 391.6h0M751.5 377.0h0M756.0 378.9h0M752.3 394.0h0M756.4 376.8h0M757.3 393.1h0M757.3 386.5h0M753.3 391.5h0M755.7 395.6h0M755.6 375.9h0M758.2 393.4h0M752.7 375.7h0M754.1 386.0h0" stroke="#8e74bb"/><path d="M753.4 371.6h0M753.6 372.5h0M754.8 377.3h0M753.2 394.6h0M758.8 388.2h0M755.7 373.5h0M757.4 381.7h0M757.1 389.7h0M752.8 381.0h0M751.2 395.8h0M753.1 376.9h0M752.1 374.1h0" stroke="#866ab6"/><path d="M749.6 374.9h0M751.4 375.6h0M752.7 367.2h0M752.5 369.1h0M751.0 377.2h0M752.3 371.3h0M748.5 377.7h0M756.4 390.3h0M757.2 388.7h0M751.7 375.1h0M756.9 396.0h0M757.2 385.4h0M754.3 384.8h0M751.2 398.2h0M757.6 387.8h0M755.1 393.2h0M754.8 379.7h0M758.4 397.2h0M759.6 390.9h0M757.3 384.0h0M752.4 386.0h0M752.6 383.2h0M754.5 373.5h0M753.5 379.2h0M753.9 398.7h0M753.1 380.0h0M752.3 387.3h0M752.7 384.8h0M750.5 392.8h0M772.0 422.3h0M772.2 418.0h0M773.3 418.5h0M770.9 419.6h0" stroke="#7d64b3"/><path d="M751.2 367.8h0M751.1 364.1h0M750.5 371.4h0M748.7 371.3h0M749.3 374.1h0M746.6 369.2h0M751.0 372.5h0M754.8 392.0h0M752.0 396.8h0M750.5 396.7h0M755.2 398.2h0M750.2 383.7h0M751.9 392.4h0M748.7 394.1h0M757.3 397.7h0M752.7 395.6h0M749.3 381.6h0M747.8 391.8h0M755.1 372.3h0M753.5 393.7h0M755.2 388.0h0M753.6 381.7h0M751.6 388.8h0M771.6 420.1h0M773.0 422.5h0M772.1 420.8h0" stroke="#755eaf"/><path d="M752.3 364.7h0M746.7 379.8h0M748.4 367.6h0M750.2 368.2h0M752.6 374.6h0M750.1 365.4h0M749.4 376.6h0M749.8 370.6h0M746.4 378.6h0M751.4 369.0h0M749.7 393.9h0M749.5 377.3h0M748.7 384.1h0M750.2 385.1h0M752.2 378.6h0M749.6 386.6h0M750.1 375.3h0M752.4 391.3h0M754.1 382.5h0M748.2 388.4h0M756.8 402.3h0M770.9 421.6h0M773.2 421.1h0" stroke="#6c58ac"/><path d="M718.5 400.2h0M742.5 374.6h0M747.4 378.2h0M746.1 377.7h0M749.7 366.2h0M749.0 369.0h0M734.4 374.2h0M749.1 392.5h0M748.6 378.0h0M748.3 386.0h0M751.2 380.6h0M747.5 391.0h0M750.1 378.7h0M751.0 384.6h0M751.5 386.8h0M741.6 389.1h0M755.9 412.1h0M754.4 404.4h0M755.8 409.1h0M771.9 419.4h0M772.7 419.2h0M771.3 418.6h0" stroke="#6353a9"/><path d="M720.7 396.9h0M722.5 414.1h0M726.1 418.0h0M707.3 406.8h0M697.4 395.2h0M720.8 416.5h0M707.3 379.0h0M724.0 411.9h0M739.4 374.1h0M747.3 376.9h0M744.9 373.0h0M752.7 365.9h0M743.4 371.9h0M750.7 370.0h0M745.0 375.8h0M739.5 383.4h0M749.8 378.1h0M744.4 369.8h0M732.6 374.6h0M748.7 370.1h0M748.0 368.8h0M738.7 379.3h0M748.4 381.2h0M749.8 389.3h0M750.8 391.8h0M730.5 375.1h0M753.0 406.9h0M753.1 409.8h0M756.7 406.0h0M748.0 417.8h0M755.8 426.5h0M751.7 425.5h0M756.1 423.9h0M753.5 418.7h0M753.6 431.7h0" stroke="#5b4da5"/><path d="M715.9 380.1h0M728.0 403.3h0M701.1 381.3h0M708.6 385.7h0M703.8 404.1h0M734.4 396.9h0M725.1 393.8h0M716.4 376.3h0M728.9 415.9h0M725.9 382.7h0M719.9 412.2h0M718.1 376.6h0M708.9 399.6h0M706.4 395.9h0M725.8 385.4h0M702.1 396.9h0M723.5 390.8h0M726.1 399.6h0M710.8 391.1h0M733.3 392.5h0M717.6 381.2h0M713.1 411.6h0M709.1 392.8h0M710.8 404.7h0M701.0 383.4h0M727.5 394.7h0M707.6 395.3h0M720.9 380.1h0M698.4 383.9h0M714.1 410.2h0M728.3 386.8h0M728.5 407.2h0M718.6 408.4h0M740.4 371.0h0M736.6 379.5h0M737.8 379.7h0M744.2 378.2h0M742.3 378.8h0M743.5 382.4h0M735.8 377.7h0M737.6 373.0h0M741.8 370.0h0M745.9 367.8h0M745.2 380.6h0M746.0 374.1h0M739.4 381.6h0M738.5 390.2h0M733.8 373.3h0M756.1 430.9h0M751.2 422.3h0M751.2 424.2h0M749.7 416.7h0M753.1 419.5h0" stroke="#5247a2"/><path d="M707.8 380.0h0M715.5 409.5h0M723.1 411.8h0M706.5 379.6h0M721.1 386.2h0M719.7 391.1h0M718.3 414.4h0M717.6 412.7h0M714.3 395.4h0M709.9 396.7h0M712.4 382.7h0M733.3 400.2h0M716.4 378.9h0M722.5 387.4h0M719.3 390.1h0M703.3 394.4h0M730.6 411.9h0M708.8 387.1h0M710.9 409.3h0M713.9 390.2h0M701.2 389.9h0M698.5 396.7h0M726.5 402.6h0M710.9 382.0h0M708.3 406.5h0M705.3 399.3h0M725.7 413.4h0M718.5 383.3h0M718.1 394.9h0M730.0 406.5h0M698.4 389.0h0M712.6 384.8h0M726.1 398.2h0M720.3 385.0h0M711.9 401.5h0M723.5 415.1h0M706.7 394.2h0M710.5 385.3h0M699.2 394.4h0M727.9 401.8h0M733.1 403.6h0M718.6 409.3h0M723.2 382.9h0M707.6 390.2h0M733.6 397.9h0M727.6 412.8h0M720.7 401.0h0M724.7 409.1h0M708.9 394.3h0M719.0 376.3h0M706.2 395.0h0M699.3 387.6h0M712.2 404.0h0M715.3 408.0h0M709.5 392.0h0M710.2 383.9h0M722.7 374.7h0M713.3 404.5h0M721.6 399.4h0M706.0 384.4h0M709.7 404.5h0M729.4 391.7h0M710.2 382.6h0M730.8 407.1h0M724.3 413.8h0M702.7 395.8h0M726.6 400.6h0M735.1 373.6h0M746.6 372.2h0M741.3 383.4h0M735.5 375.0h0M735.8 381.3h0M745.0 374.0h0M744.2 373.7h0M747.4 371.5h0M745.2 377.2h0M737.8 373.9h0M736.9 402.9h0M734.5 390.7h0M741.0 400.3h0M740.4 403.0h0M741.8 397.9h0M742.1 394.9h0M735.1 398.8h0M735.4 374.2h0M729.3 374.2h0M733.6 375.6h0M752.7 401.2h0M755.1 400.2h0M748.8 421.2h0M754.7 424.6h0M756.7 427.7h0M753.4 424.3h0M752.7 425.3h0M748.7 415.3h0M751.7 417.1h0M747.7 416.8h0M753.4 421.2h0M752.5 426.3h0M752.7 420.6h0" stroke="#4c48a3"/><path d="M727.2 399.1h0M715.8 395.1h0M720.4 374.5h0M728.5 413.9h0M699.6 395.7h0M710.2 393.0h0M712.1 409.9h0M719.1 388.9h0M726.0 378.3h0M733.2 394.1h0M714.3 391.6h0M721.5 411.1h0M718.7 407.1h0M731.5 408.5h0M708.0 381.9h0M722.4 403.7h0M725.7 412.2h0M724.3 400.2h0M732.0 402.9h0M723.9 382.2h0M729.7 398.4h0M707.1 396.9h0M711.5 383.9h0M704.1 397.3h0M728.5 385.3h0M728.7 405.4h0M724.6 417.2h0M719.2 410.7h0M725.4 387.8h0M721.2 402.0h0M715.7 405.3h0M729.1 384.1h0M722.6 393.7h0M709.8 400.1h0M723.2 401.3h0M729.5 402.2h0M727.9 415.7h0M726.0 392.5h0M724.6 408.1h0M714.4 380.6h0M721.4 405.9h0M702.7 398.2h0M701.1 399.3h0M725.6 402.0h0M732.9 402.1h0M722.3 383.3h0M702.1 378.6h0M699.4 383.6h0M711.8 406.5h0M732.8 397.4h0M712.0 381.8h0M722.2 375.8h0M711.6 399.3h0M726.5 412.9h0M707.1 377.8h0M706.4 405.9h0M730.5 393.0h0M724.5 414.8h0M717.9 396.6h0M710.3 405.8h0M712.1 395.4h0M708.6 390.1h0M726.3 408.9h0M716.8 388.4h0M721.0 389.2h0M704.6 403.0h0M711.8 386.0h0M722.4 396.8h0M729.4 390.7h0M715.1 395.9h0M713.2 408.6h0M721.7 380.7h0M704.7 379.9h0M725.8 397.0h0M723.4 409.2h0M726.4 415.2h0M706.4 404.1h0M741.4 376.1h0M739.6 379.6h0M737.3 381.0h0M738.6 372.5h0M737.4 374.8h0M742.5 381.7h0M735.2 380.3h0M739.7 393.9h0M742.4 391.5h0M735.1 375.4h0M731.9 375.2h0M730.7 373.9h0M734.8 376.8h0M731.0 377.5h0M754.4 414.2h0M750.1 418.5h0M752.7 422.9h0M756.1 430.0h0M755.6 432.0h0M749.8 421.7h0M751.4 418.7h0M754.0 427.1h0M755.2 421.4h0" stroke="#4549a3"/><path d="M720.5 378.8h0M707.9 408.1h0M706.0 400.2h0M716.0 381.2h0M722.3 407.0h0M718.3 403.5h0M712.8 396.5h0M727.8 414.8h0M724.4 410.5h0M709.3 408.4h0M705.8 383.2h0M720.7 375.3h0M719.7 398.6h0M702.5 389.2h0M732.8 395.8h0M727.8 390.1h0M709.3 406.2h0M718.5 391.1h0M699.2 385.7h0M710.7 387.6h0M699.8 386.9h0M725.3 378.9h0M724.3 374.1h0M717.3 402.9h0M717.5 387.1h0M715.5 378.0h0M723.7 381.1h0M722.7 386.5h0M732.0 393.0h0M717.6 384.9h0M724.2 396.5h0M703.7 399.8h0M725.2 403.3h0M714.3 385.5h0M710.6 393.8h0M722.9 417.8h0M715.4 411.9h0M728.0 400.2h0M705.6 390.8h0M716.6 391.4h0M732.2 390.2h0M696.7 387.0h0M707.9 400.1h0M731.2 389.1h0M708.2 391.5h0M707.5 385.4h0M713.6 407.6h0M714.2 411.1h0M725.0 377.6h0M700.9 379.4h0M714.6 383.2h0M698.6 393.1h0M718.4 385.7h0M718.8 398.0h0M711.8 408.5h0M722.9 394.8h0M716.5 386.0h0M726.6 420.6h0M715.9 413.4h0M723.9 398.8h0M724.9 389.2h0M714.5 400.1h0M723.5 405.4h0M705.6 380.3h0M723.9 397.5h0M715.8 400.7h0M712.8 390.0h0M727.6 395.6h0M724.2 406.6h0M731.1 402.6h0M722.4 416.8h0M701.4 395.6h0M721.1 387.3h0M707.5 384.5h0M725.1 380.8h0M734.6 399.5h0M726.2 416.6h0M712.0 391.0h0M723.5 377.9h0M724.2 376.9h0M731.4 404.3h0M718.6 392.1h0M720.4 377.7h0M708.6 398.2h0M711.0 389.2h0M720.0 380.1h0M727.3 410.2h0M727.4 382.6h0M715.9 383.6h0M717.3 410.8h0M727.3 380.5h0M722.5 408.5h0M720.7 394.8h0M721.1 381.6h0M713.6 381.5h0M735.7 383.8h0M734.0 378.5h0M740.3 372.1h0M732.5 376.4h0M738.3 374.9h0M738.9 376.0h0M738.4 382.8h0M737.6 400.1h0M729.4 378.3h0M750.8 421.1h0M754.6 428.0h0M750.3 415.8h0M754.5 419.8h0M753.7 428.8h0M749.3 420.0h0M750.8 416.7h0M754.6 429.0h0" stroke="#3f4aa4"/><path d="M726.4 410.6h0M713.3 409.9h0M730.3 389.9h0M703.5 377.4h0M730.7 390.9h0M730.2 405.0h0M696.5 391.5h0M709.0 402.4h0M720.9 412.6h0M730.4 396.5h0M700.4 391.6h0M727.3 406.4h0M701.0 385.0h0M719.9 416.7h0M721.9 391.4h0M728.3 383.3h0M730.2 412.8h0M707.0 383.4h0M712.3 388.5h0M698.5 386.8h0M703.7 379.7h0M728.1 389.2h0M713.5 387.6h0M729.7 393.9h0M717.9 389.8h0M723.7 384.8h0M706.1 398.7h0M725.4 405.0h0M713.3 391.0h0M703.2 392.1h0M722.0 392.9h0M729.4 385.5h0M723.4 402.9h0M725.6 394.6h0M716.4 392.8h0M707.2 387.2h0M718.9 401.3h0M699.4 398.9h0M719.2 406.2h0M698.9 397.8h0M701.5 393.8h0M714.2 412.3h0M713.9 389.3h0M721.9 418.1h0M728.6 408.2h0M705.6 387.8h0M724.8 387.1h0M737.0 373.7h0M737.1 377.1h0M736.8 393.4h0M739.2 397.1h0M732.8 376.9h0M751.8 427.0h0M753.5 430.3h0" stroke="#394aa5"/><path d="M704.3 378.0h0M724.6 415.9h0M697.5 393.3h0M710.6 395.7h0M710.8 401.4h0M720.6 395.9h0M730.7 397.9h0M728.4 398.9h0M700.2 382.6h0M710.9 397.4h0M708.4 388.4h0M707.9 392.8h0M714.0 396.5h0M699.3 389.9h0M729.4 389.0h0M717.1 404.3h0M705.0 396.9h0M735.8 396.2h0" stroke="#324ba5"/><path d="M727.1 397.0h0M705.7 402.6h0M714.4 401.9h0M713.2 392.8h0M723.3 400.3h0" stroke="#2c4ca6"/></g>
<path d="M692.4 360.7V438.9H782.5" fill="none" stroke="#444" stroke-width="0.9"/>
<text x="704.8" y="450.9" font-size="10.3" text-anchor="middle" >-5</text>
<text x="731.0" y="450.9" font-size="10.3" text-anchor="middle" >0</text>
<text x="757.2" y="450.9" font-size="10.3" text-anchor="middle" >5</text>
<text x="687.8" y="378.2" font-size="10.3" text-anchor="end" >2</text>
<text x="687.8" y="398.7" font-size="10.3" text-anchor="end" >0</text>
<text x="687.8" y="419.2" font-size="10.3" text-anchor="end" >-2</text>
<text x="687.8" y="439.7" font-size="10.3" text-anchor="end" >-4</text>
<path d="M704.8 438.9v2.6M731.0 438.9v2.6M757.2 438.9v2.6M692.4 374.5h-2.6M692.4 395.0h-2.6M692.4 415.5h-2.6M692.4 436.0h-2.6" stroke="#444" stroke-width="0.9"/>
<text x="737.4" y="465.4" font-size="12" text-anchor="middle" >UMAP_1</text>
<text x="0" y="0" font-size="12" text-anchor="middle" transform="translate(673.4,399.8) rotate(-90)">UMAP_2</text>
<text x="734.0" y="355.9" font-size="12" text-anchor="middle" >Fth1</text>
<rect x="791.8" y="376.5" width="10.2" height="52.5" fill="url(#cbg)"/>
<text x="806.0" y="432.6" font-size="10.3" text-anchor="start" >0</text>
<text x="806.0" y="424.1" font-size="10.3" text-anchor="start" >1</text>
<text x="806.0" y="415.7" font-size="10.3" text-anchor="start" >2</text>
<text x="806.0" y="407.2" font-size="10.3" text-anchor="start" >3</text>
<text x="806.0" y="398.7" font-size="10.3" text-anchor="start" >4</text>
<text x="806.0" y="390.3" font-size="10.3" text-anchor="start" >5</text>
<text x="806.0" y="381.8" font-size="10.3" text-anchor="start" >6</text>
<path d="M791.8 420.5h2M800.0 420.5h2M791.8 412.1h2M800.0 412.1h2M791.8 403.6h2M800.0 403.6h2M791.8 395.1h2M800.0 395.1h2M791.8 386.7h2M800.0 386.7h2M791.8 378.2h2M800.0 378.2h2" stroke="#fff" stroke-width="0.7" opacity="0.8"/>
<g stroke-width="2.0" stroke-linecap="round"><path d="M863.7 400.2h0M873.1 409.5h0M875.9 414.4h0M888.2 390.9h0M869.8 409.9h0M890.8 400.2h0M874.1 378.9h0M874.0 376.3h0M890.3 395.8h0M888.1 411.9h0M885.8 383.3h0M876.3 407.1h0M868.4 387.6h0M856.3 396.7h0M883.2 412.2h0M874.9 402.9h0M859.8 396.9h0M876.9 410.7h0M861.5 399.8h0M868.3 393.8h0M881.3 384.8h0M856.2 389.0h0M881.1 415.1h0M883.5 392.5h0M865.2 385.4h0M880.9 402.9h0M882.5 377.6h0M858.7 379.4h0M856.4 393.1h0M879.0 405.9h0M876.0 385.7h0M870.8 392.8h0M881.5 398.8h0M890.6 403.6h0M890.3 402.1h0M883.1 394.6h0M857.2 383.6h0M880.7 382.9h0M865.0 387.2h0M881.7 406.6h0M857.2 398.9h0M864.9 377.8h0M865.7 392.8h0M876.6 376.3h0M864.0 395.0h0M857.1 389.9h0M866.3 398.2h0M874.4 388.4h0M880.9 400.3h0M871.8 410.2h0M873.6 383.6h0M879.1 399.4h0M863.8 384.4h0M870.9 408.6h0M874.9 410.8h0M880.1 408.5h0M878.3 394.8h0M876.2 408.4h0M874.7 404.3h0M899.9 374.6h0M907.0 374.9h0M894.1 379.5h0M892.6 373.6h0M896.8 374.1h0M908.7 375.6h0M904.0 372.2h0M897.7 372.1h0M890.0 376.4h0M909.6 364.7h0M910.0 367.2h0M898.7 383.4h0M908.5 367.8h0M910.7 371.6h0M904.1 379.8h0M901.6 378.2h0M892.9 375.0h0M902.2 373.0h0M904.8 378.2h0M897.0 379.6h0M910.0 365.9h0M896.0 372.5h0M905.8 367.6h0M894.4 373.7h0M909.8 369.1h0M895.8 374.9h0M908.3 377.2h0M907.6 368.2h0M903.4 377.7h0M900.7 371.9h0M900.9 382.4h0M908.0 370.0h0M896.3 376.0h0M893.2 377.7h0M894.6 377.1h0M902.3 375.8h0M907.8 371.4h0M895.0 373.0h0M906.1 371.3h0M909.9 374.6h0M899.9 381.7h0M906.3 369.0h0M907.4 365.4h0M891.9 374.2h0M893.2 381.3h0M897.0 383.4h0M899.2 370.0h0M907.1 378.1h0M906.8 376.6h0M911.0 369.3h0M904.8 371.5h0M895.9 382.8h0M902.5 377.2h0M892.7 380.3h0M907.1 370.6h0M906.6 374.1h0M904.0 369.2h0M902.6 380.6h0M903.7 378.6h0M890.1 374.6h0M906.1 370.1h0M903.3 374.1h0M908.3 372.5h0M905.8 377.7h0M905.4 368.8h0M896.8 381.6h0M896.1 379.3h0M913.7 390.3h0M914.4 388.7h0M910.8 372.5h0M909.0 375.1h0M915.4 383.7h0M914.2 396.0h0M906.5 392.5h0M912.1 377.3h0M909.3 396.8h0M905.8 381.2h0M911.6 384.8h0M914.7 391.6h0M907.0 393.9h0M907.8 396.7h0M908.8 377.0h0M912.5 398.2h0M906.8 377.3h0M910.5 394.6h0M916.0 388.2h0M907.5 383.7h0M909.2 392.4h0M908.5 398.2h0M914.9 387.8h0M913.3 378.9h0M912.1 379.7h0M913.0 373.5h0M906.0 384.1h0M906.1 394.1h0M914.6 397.7h0M909.6 394.0h0M914.7 381.7h0M911.6 397.0h0M916.9 390.9h0M910.1 381.0h0M906.0 378.0h0M907.5 385.1h0M910.0 395.6h0M908.5 380.6h0M906.6 381.6h0M913.7 376.8h0M905.2 391.8h0M914.5 386.5h0M909.5 378.6h0M908.5 395.8h0M904.9 391.0h0M907.2 389.3h0M910.4 376.9h0M909.7 386.0h0M912.4 372.3h0M910.8 393.7h0M909.4 374.1h0M908.1 391.8h0M906.9 386.6h0M913.0 395.6h0M909.9 383.2h0M911.8 373.5h0M910.8 379.2h0M907.4 375.3h0M911.5 394.6h0M913.6 398.5h0M914.0 392.3h0M911.2 398.7h0M912.9 375.9h0M910.4 380.0h0M907.4 378.7h0M915.5 393.4h0M911.4 382.5h0M908.4 384.6h0M910.0 375.7h0M909.5 387.3h0M905.5 388.4h0M910.0 384.8h0M907.8 392.8h0M911.4 386.0h0M910.9 381.7h0M908.8 386.8h0M908.9 388.8h0M895.9 390.2h0M894.4 402.9h0M895.0 400.1h0M899.0 389.1h0M898.4 400.3h0M893.2 396.2h0M897.1 393.9h0M897.8 403.0h0M899.2 397.9h0M899.8 391.5h0M896.6 397.1h0M899.5 394.9h0M892.6 398.8h0M890.3 376.9h0M892.9 374.2h0M892.5 375.4h0M891.3 373.3h0M888.0 375.1h0M889.4 375.2h0M888.2 373.9h0M892.3 376.8h0M887.0 378.3h0M888.5 377.5h0M913.2 412.1h0M910.0 401.2h0M911.7 404.4h0M913.0 409.1h0M910.3 406.9h0M911.7 414.2h0M910.4 409.8h0M912.4 400.2h0M908.2 421.1h0M914.0 427.7h0M910.0 422.9h0M910.7 430.3h0M911.8 428.0h0M913.1 426.5h0M908.5 422.3h0M907.7 415.8h0M911.8 419.8h0M913.4 430.0h0M909.0 417.1h0M905.0 416.8h0M906.6 420.0h0M909.0 425.5h0M912.9 432.0h0M908.1 416.7h0M913.3 423.9h0M909.8 426.3h0M910.8 418.7h0M911.2 427.1h0M912.4 421.4h0M910.9 431.7h0M911.9 429.0h0M929.0 419.4h0M928.7 420.1h0M929.2 422.3h0M928.0 421.6h0M929.3 418.0h0M930.3 421.1h0M930.4 418.5h0M929.8 419.2h0M928.0 419.6h0M930.1 422.5h0M929.2 420.8h0M928.4 418.6h0" stroke="#d4d3d8"/><path d="M855.3 393.3h0M858.8 383.4h0M897.9 371.0h0M898.8 376.1h0M891.5 378.5h0M895.3 379.7h0M904.6 376.9h0M899.7 378.8h0M908.4 364.1h0M907.1 366.2h0M894.9 374.8h0M901.5 373.7h0M912.1 392.0h0M914.0 378.1h0M916.6 395.1h0M914.5 393.1h0M910.6 391.5h0M916.4 392.5h0M891.9 390.7h0M907.4 418.5h0" stroke="#cfccd7"/><path d="M893.1 383.8h0M914.3 389.7h0M905.6 386.0h0M914.5 384.0h0M906.1 415.3h0" stroke="#cbc5d7"/><path d="M855.2 395.2h0M902.4 374.0h0M915.7 397.2h0M909.7 391.3h0M912.8 387.1h0M891.1 375.6h0M906.1 421.2h0M910.7 424.3h0M910.4 419.5h0M907.2 421.7h0" stroke="#c6bed6"/><path d="M858.8 385.0h0M882.2 408.1h0M858.9 399.3h0M881.5 397.5h0M857.1 387.6h0M895.3 373.9h0M908.7 369.0h0M912.4 393.2h0M912.5 388.0h0M894.2 393.4h0M914.1 402.3h0M913.3 430.9h0M910.0 425.3h0" stroke="#c1b7d5"/><path d="M859.0 389.9h0M857.6 386.9h0M856.4 386.8h0M888.2 397.9h0M858.0 382.6h0M859.3 393.8h0M894.7 381.0h0M909.6 371.3h0M903.3 367.8h0M914.4 385.4h0M886.8 374.2h0M908.5 424.2h0M907.0 416.7h0M911.0 428.8h0M910.0 420.6h0" stroke="#bdb0d5"/><path d="M858.9 381.3h0M887.7 405.0h0M888.7 389.1h0M883.7 416.6h0M909.1 427.0h0M905.3 417.8h0" stroke="#b8a9d4"/><path d="M854.4 391.5h0M868.6 409.3h0M881.8 400.2h0M886.3 405.4h0M854.5 387.0h0M890.3 397.4h0M856.7 397.8h0M888.9 404.3h0M856.2 383.9h0M883.4 397.0h0" stroke="#b09ecf"/><path d="M878.1 378.8h0M884.8 399.1h0M882.0 410.5h0M876.1 391.1h0M877.5 416.7h0M889.0 408.5h0M883.2 413.4h0M857.0 394.4h0M883.1 402.0h0M865.3 390.2h0M859.2 395.6h0M884.1 412.9h0M865.2 384.5h0M881.8 413.8h0M901.8 369.8h0M912.0 424.6h0M910.7 421.2h0M908.7 418.7h0" stroke="#a794ca"/><path d="M886.1 413.9h0M857.4 395.7h0M880.1 414.1h0M879.9 407.0h0M857.0 385.7h0M887.2 398.4h0M882.2 417.2h0M863.4 390.8h0M871.2 407.6h0M870.7 411.6h0M859.9 378.6h0M891.1 397.9h0M886.1 407.2h0M913.9 406.0h0" stroke="#9f8ac5"/><path d="M878.3 396.9h0M870.9 409.9h0M875.3 412.7h0M885.3 414.8h0M891.9 396.9h0M882.2 415.9h0M879.1 411.1h0M884.0 402.6h0M889.5 402.9h0M883.0 405.0h0M890.8 392.5h0M871.9 411.1h0M872.2 383.2h0M873.5 413.4h0M885.2 395.6h0M879.9 416.8h0M876.8 406.2h0M892.0 399.5h0M888.0 393.0h0" stroke="#977fc0"/><path d="M890.6 394.1h0M886.5 415.9h0M878.5 412.6h0M887.9 396.5h0M858.2 391.6h0M866.5 387.1h0M866.6 399.6h0M863.0 399.3h0M880.4 417.8h0M865.0 406.8h0M886.9 385.5h0M866.0 391.5h0M885.4 401.8h0M876.3 409.3h0M866.1 388.4h0M865.4 395.3h0M881.6 411.9h0M883.8 408.9h0M868.7 389.2h0M862.4 403.0h0M877.6 380.1h0M879.5 418.1h0" stroke="#8e74bb"/><path d="M865.6 408.1h0M885.5 403.3h0M866.3 385.7h0M861.5 404.1h0M867.0 408.4h0M871.9 391.6h0M881.8 374.1h0M876.1 400.2h0M861.9 397.3h0M864.8 383.4h0M861.4 379.7h0M878.7 402.0h0M873.0 411.9h0M883.7 398.2h0M880.8 401.3h0M887.0 402.2h0M885.5 415.7h0M872.0 380.6h0M870.5 390.0h0M868.5 404.7h0M879.8 375.8h0M882.2 409.1h0M866.3 390.1h0M884.8 410.2h0M870.9 404.5h0M886.2 408.2h0M883.9 415.2h0M863.4 387.8h0" stroke="#866ab6"/><path d="M878.0 374.5h0M880.7 411.8h0M873.5 380.1h0M884.6 397.0h0M882.7 393.8h0M877.5 412.2h0M868.5 401.4h0M882.7 403.3h0M871.9 385.5h0M887.5 406.5h0M883.6 399.6h0M868.4 391.1h0M868.1 385.3h0M876.5 398.0h0M869.5 408.5h0M869.5 406.5h0M866.8 392.8h0M885.1 394.7h0M882.1 414.8h0M871.7 396.5h0M867.9 383.9h0M872.8 395.9h0M867.4 404.5h0" stroke="#7d64b3"/><path d="M873.6 381.2h0M861.3 377.4h0M872.0 395.4h0M870.4 396.5h0M876.7 388.9h0M883.5 378.3h0M880.1 387.4h0M862.1 378.0h0M876.9 390.1h0M875.7 376.6h0M880.0 403.7h0M863.4 402.6h0M887.7 412.8h0M873.1 378.0h0M880.3 386.5h0M889.5 393.0h0M876.2 383.3h0M875.2 384.9h0M881.8 396.5h0M885.6 400.2h0M863.8 398.7h0M881.1 405.4h0M873.4 400.7h0M881.1 377.9h0M875.6 396.6h0M881.7 376.9h0M878.0 377.7h0M878.6 389.2h0M886.9 389.0h0M880.2 374.7h0M888.3 407.1h0" stroke="#755eaf"/><path d="M864.2 379.6h0M877.3 391.1h0M878.3 375.3h0M884.8 406.4h0M871.5 390.2h0M868.6 382.0h0M881.5 382.2h0M866.0 406.5h0M881.3 381.1h0M872.0 401.9h0M883.0 387.8h0M885.6 389.2h0M871.2 387.6h0M875.5 389.8h0M886.0 398.9h0M870.2 384.8h0M889.7 390.2h0M877.9 385.0h0M879.6 392.9h0M865.6 400.1h0M875.2 381.2h0M860.5 398.2h0M878.4 416.5h0M868.6 397.4h0M878.3 401.0h0M865.1 379.0h0M869.7 395.4h0M873.0 408.0h0M867.2 392.0h0M879.9 396.8h0M886.9 391.7h0M862.5 379.9h0M881.0 409.2h0M878.7 381.6h0M860.5 395.8h0M884.2 400.6h0" stroke="#6c58ac"/><path d="M873.4 395.1h0M864.2 395.9h0M883.7 418.0h0M864.8 396.9h0M887.2 393.9h0M867.5 400.1h0M874.2 391.4h0M874.2 386.0h0M884.2 420.6h0M869.3 399.3h0M888.6 402.6h0M878.7 387.3h0M864.1 405.9h0M868.0 405.8h0M885.8 386.8h0M879.3 380.7h0" stroke="#6353a9"/><path d="M883.9 410.6h0M878.7 386.2h0M867.6 396.7h0M866.7 402.4h0M868.3 395.7h0M875.1 387.1h0M886.0 385.3h0M881.1 390.8h0M869.9 388.5h0M875.7 394.9h0M871.0 391.0h0M861.0 392.1h0M864.4 394.2h0M882.5 389.2h0M869.6 381.8h0M882.7 380.8h0M869.9 404.0h0M871.9 412.3h0M869.5 386.0h0M871.6 389.3h0M882.4 387.1h0M864.1 404.1h0M871.3 381.5h0" stroke="#5b4da5"/><path d="M865.5 380.0h0M867.8 393.0h0M887.8 389.9h0M875.9 403.5h0M883.5 382.7h0M861.1 394.4h0M869.6 401.5h0M876.5 401.3h0M878.5 380.1h0M876.2 392.1h0M884.9 382.6h0" stroke="#5247a2"/><path d="M870.1 382.7h0M877.3 398.6h0M860.3 389.2h0M865.7 381.9h0M882.9 378.9h0M869.2 383.9h0M880.1 393.7h0M880.5 394.8h0M879.9 383.3h0M874.1 392.8h0M863.3 380.3h0M885.1 412.8h0M887.0 390.7h0M867.9 382.6h0M862.7 396.9h0" stroke="#4c48a3"/><path d="M863.6 383.2h0M885.3 390.1h0M867.0 406.2h0M879.5 391.4h0M883.3 385.4h0M878.2 395.9h0M873.4 405.3h0M872.1 400.1h0M869.7 391.0h0" stroke="#4549a3"/><path d="M886.6 384.1h0M866.6 394.3h0" stroke="#3f4aa4"/><path d="M884.8 380.5h0" stroke="#324ba5"/></g>
<path d="M849.3 360.7V438.9H939.5" fill="none" stroke="#444" stroke-width="0.9"/>
<text x="862.5" y="450.9" font-size="10.3" text-anchor="middle" >-5</text>
<text x="888.5" y="450.9" font-size="10.3" text-anchor="middle" >0</text>
<text x="914.5" y="450.9" font-size="10.3" text-anchor="middle" >5</text>
<text x="844.7" y="378.2" font-size="10.3" text-anchor="end" >2</text>
<text x="844.7" y="398.7" font-size="10.3" text-anchor="end" >0</text>
<text x="844.7" y="419.2" font-size="10.3" text-anchor="end" >-2</text>
<text x="844.7" y="439.7" font-size="10.3" text-anchor="end" >-4</text>
<path d="M862.5 438.9v2.6M888.5 438.9v2.6M914.5 438.9v2.6M849.3 374.5h-2.6M849.3 395.0h-2.6M849.3 415.5h-2.6M849.3 436.0h-2.6" stroke="#444" stroke-width="0.9"/>
<text x="894.4" y="465.4" font-size="12" text-anchor="middle" >UMAP_1</text>
<text x="0" y="0" font-size="12" text-anchor="middle" transform="translate(830.3,399.8) rotate(-90)">UMAP_2</text>
<text x="892.5" y="355.9" font-size="12" text-anchor="middle" >Sfrp4</text>
<rect x="949.4" y="376.5" width="10.2" height="52.5" fill="url(#cbg)"/>
<text x="963.6" y="432.6" font-size="10.3" text-anchor="start" >0</text>
<text x="963.6" y="418.8" font-size="10.3" text-anchor="start" >1</text>
<text x="963.6" y="405.0" font-size="10.3" text-anchor="start" >2</text>
<text x="963.6" y="391.2" font-size="10.3" text-anchor="start" >3</text>
<path d="M949.4 415.2h2M957.6 415.2h2M949.4 401.4h2M957.6 401.4h2M949.4 387.6h2M957.6 387.6h2" stroke="#fff" stroke-width="0.7" opacity="0.8"/>
<g stroke-width="2.0" stroke-linecap="round"><path d="M567.3 537.8h0M572.9 569.7h0M555.3 538.9h0M573.7 558.1h0M555.4 567.1h0M553.7 559.2h0M562.9 554.1h0M567.2 533.4h0M567.5 556.0h0M562.6 568.6h0M569.8 570.8h0M574.9 573.0h0M554.1 538.6h0M563.1 540.1h0M567.9 545.1h0M547.6 554.7h0M563.0 539.0h0M557.6 552.0h0M574.4 562.4h0M566.6 550.1h0M569.2 573.2h0M560.5 569.0h0M569.0 566.1h0M576.5 548.9h0M549.1 540.2h0M565.3 573.5h0M551.4 536.3h0M564.6 571.8h0M576.9 549.9h0M565.3 562.5h0M559.4 569.0h0M561.5 554.4h0M556.1 544.7h0M560.1 555.5h0M576.5 564.0h0M566.0 547.9h0M557.4 555.7h0M572.5 537.2h0M574.2 573.9h0M559.7 541.7h0M544.8 550.5h0M573.5 556.0h0M571.0 569.6h0M551.6 563.1h0M579.2 553.1h0M556.8 567.5h0M579.4 559.3h0M580.4 555.9h0M563.5 537.8h0M571.7 552.8h0M563.4 535.2h0M553.5 542.1h0M569.2 546.3h0M567.5 534.2h0M556.5 561.5h0M552.1 536.9h0M575.3 575.0h0M566.5 557.6h0M566.2 549.1h0M561.4 550.5h0M567.7 571.6h0M572.4 541.7h0M571.2 575.0h0M576.6 555.5h0M551.2 553.4h0M545.7 552.3h0M550.4 548.2h0M578.9 554.8h0M574.2 549.1h0M566.8 571.3h0M556.7 565.3h0M548.4 550.6h0M573.7 565.5h0M549.0 544.0h0M576.8 571.0h0M565.4 550.0h0M566.7 575.8h0M568.6 550.4h0M574.7 542.2h0M556.3 546.1h0M568.3 570.2h0M565.1 535.5h0M558.2 568.4h0M561.1 549.2h0M549.2 548.9h0M558.0 554.7h0M556.4 558.6h0M547.3 544.6h0M565.6 566.1h0M577.7 567.6h0M555.6 540.8h0M558.1 546.6h0M547.8 545.8h0M569.1 562.8h0M546.6 555.7h0M572.2 571.3h0M554.1 554.9h0M571.9 537.8h0M570.9 533.0h0M572.9 561.6h0M572.3 544.4h0M570.9 559.2h0M558.2 560.4h0M564.3 562.0h0M564.5 546.1h0M558.3 540.9h0M578.2 562.0h0M570.5 541.2h0M565.5 559.2h0M572.6 577.2h0M555.8 565.5h0M553.3 561.7h0M576.0 557.4h0M554.7 555.9h0M567.4 554.9h0M558.8 542.8h0M576.5 571.9h0M551.9 556.3h0M562.6 536.9h0M553.0 558.3h0M574.8 544.2h0M570.4 540.0h0M569.4 545.4h0M572.2 572.5h0M578.2 552.0h0M550.0 555.9h0M565.5 542.2h0M554.7 542.3h0M570.2 549.8h0M559.6 547.5h0M575.1 564.5h0M564.6 543.8h0M546.7 545.8h0M561.5 560.9h0M570.8 555.5h0M571.2 576.3h0M565.0 553.9h0M566.1 569.8h0M551.5 538.6h0M551.6 558.8h0M571.9 546.8h0M574.5 548.2h0M567.9 561.1h0M571.7 562.3h0M561.5 544.5h0M562.8 564.3h0M575.4 543.1h0M560.8 546.5h0M576.0 552.8h0M564.8 548.8h0M569.3 552.7h0M557.3 559.1h0M558.0 552.8h0M576.9 556.9h0M569.5 576.9h0M576.2 565.5h0M562.5 571.0h0M574.8 557.9h0M572.6 558.6h0M570.3 543.8h0M574.4 559.2h0M546.6 547.9h0M553.3 549.8h0M558.1 550.1h0M553.8 557.7h0M563.6 550.4h0M554.9 565.8h0M559.9 543.7h0M572.6 557.2h0M578.3 549.2h0M567.2 543.9h0M571.9 564.0h0M560.5 550.0h0M551.0 551.1h0M559.2 560.5h0M568.7 551.9h0M579.4 551.5h0M544.9 546.0h0M569.9 560.4h0M575.7 544.5h0M555.5 559.1h0M577.4 548.1h0M575.7 561.2h0M570.2 574.2h0M574.3 574.8h0M564.5 540.2h0M572.5 551.5h0M555.8 550.5h0M555.1 544.4h0M570.0 562.0h0M571.2 567.1h0M561.6 539.5h0M560.8 566.7h0M561.4 570.2h0M571.5 536.6h0M554.3 553.2h0M548.9 538.4h0M561.7 542.2h0M546.7 552.1h0M557.9 544.3h0M547.3 553.4h0M568.1 565.0h0M565.3 544.6h0M565.8 557.1h0M559.1 567.5h0M569.6 553.8h0M548.2 541.5h0M550.6 557.2h0M563.6 545.0h0M573.1 579.8h0M563.0 572.5h0M549.1 558.3h0M572.1 561.1h0M560.4 551.8h0M570.5 557.8h0M571.5 548.1h0M574.2 560.8h0M579.1 562.7h0M578.9 561.1h0M561.6 559.1h0M572.1 553.6h0M569.0 542.3h0M565.6 568.3h0M563.5 551.8h0M570.2 564.4h0M545.6 554.2h0M560.3 570.6h0M567.6 575.6h0M550.0 537.5h0M547.4 542.6h0M569.8 541.8h0M553.3 539.2h0M559.1 565.6h0M570.5 556.5h0M578.9 556.4h0M562.9 559.7h0M559.3 540.8h0M560.1 549.0h0M558.3 556.5h0M555.2 549.2h0M579.7 557.0h0M554.9 546.2h0M556.6 551.8h0M574.0 554.6h0M558.2 563.7h0M569.0 534.7h0M574.0 571.9h0M549.0 542.3h0M565.8 560.3h0M559.0 558.4h0M570.8 565.7h0M577.3 561.7h0M569.1 575.9h0M547.4 558.0h0M566.1 565.3h0M573.9 553.7h0M549.3 554.6h0M567.5 560.0h0M571.2 568.2h0M573.0 572.0h0M567.9 546.2h0M554.8 536.7h0M555.9 547.4h0M547.0 556.8h0M555.5 551.8h0M556.4 553.3h0M555.1 543.4h0M554.9 537.9h0M555.2 554.3h0M571.7 539.7h0M580.5 558.5h0M572.6 575.7h0M570.7 571.0h0M554.1 564.9h0M576.7 552.0h0M565.9 535.2h0M559.3 550.0h0M553.9 554.0h0M547.3 546.6h0M570.2 536.8h0M571.1 573.9h0M564.9 555.6h0M557.7 564.8h0M559.4 554.4h0M570.8 535.9h0M561.2 555.6h0M559.5 563.0h0M562.5 567.0h0M556.9 551.0h0M577.5 563.3h0M567.7 539.0h0M546.5 542.8h0M556.1 549.1h0M547.3 548.9h0M565.5 551.1h0M567.2 536.6h0M572.7 568.0h0M556.1 557.2h0M563.8 547.4h0M567.8 548.2h0M558.4 548.2h0M552.4 562.0h0M557.6 542.8h0M549.4 552.8h0M566.8 539.0h0M570.0 559.3h0M573.7 569.3h0M561.4 571.4h0M559.1 545.0h0M561.3 569.2h0M573.8 541.6h0M574.6 545.8h0M574.9 566.2h0M569.1 555.8h0M575.7 548.0h0M569.4 533.6h0M563.0 542.5h0M560.5 563.6h0M575.7 549.6h0M568.3 558.5h0M553.7 543.3h0M562.3 554.9h0M561.1 548.3h0M557.1 563.5h0M575.7 550.7h0M568.6 577.2h0M557.6 541.6h0M560.4 567.7h0M564.3 569.8h0M577.0 566.2h0M568.5 539.6h0M573.7 539.4h0M569.2 567.5h0M575.0 567.3h0M567.5 553.8h0M552.5 538.8h0M572.3 556.0h0M570.9 572.9h0M570.1 568.3h0M572.9 574.2h0M567.9 540.6h0M550.6 554.8h0M553.3 546.8h0M571.4 546.1h0M565.5 567.4h0M554.0 563.1h0M573.1 559.6h0M564.1 563.4h0M552.7 555.9h0M560.8 540.4h0M581.6 542.7h0M587.0 535.0h0M580.0 537.4h0M582.5 538.4h0M581.1 532.5h0M583.6 538.6h0M585.1 533.0h0M596.4 534.5h0M585.9 531.0h0M578.7 535.3h0M586.9 542.4h0M598.2 530.5h0M592.0 538.8h0M589.7 537.1h0M581.4 533.9h0M585.3 538.6h0M583.1 540.0h0M584.3 531.4h0M582.8 532.6h0M584.1 533.8h0M591.4 536.6h0M588.8 530.8h0M588.9 541.3h0M584.6 535.0h0M581.7 536.6h0M583.0 536.0h0M583.2 533.7h0M583.4 531.9h0M588.0 540.6h0M580.4 533.1h0M581.7 540.2h0M585.2 542.3h0M590.4 532.9h0M589.8 528.7h0M589.6 532.6h0M584.2 541.7h0M581.2 539.2h0M591.7 537.5h0M578.8 533.5h0M591.3 533.0h0M584.4 538.2h0M601.1 549.3h0M599.6 551.0h0M601.8 547.6h0M602.8 542.7h0M594.3 551.5h0M599.6 536.2h0M601.8 544.4h0M597.0 555.8h0M603.9 554.1h0M599.1 543.8h0M602.1 550.5h0M594.8 552.8h0M600.0 557.2h0M598.1 553.6h0M603.3 547.1h0M595.3 542.7h0M596.9 551.4h0M596.2 557.2h0M602.3 546.8h0M593.8 543.1h0M593.9 553.1h0M602.0 556.7h0M597.2 553.0h0M603.0 556.2h0M602.1 540.7h0M599.1 556.0h0M601.8 548.6h0M604.2 549.9h0M595.2 544.0h0M593.5 544.9h0M597.6 554.6h0M601.9 543.0h0M594.4 540.5h0M593.0 550.8h0M601.9 552.1h0M596.2 554.8h0M592.8 550.0h0M594.9 548.2h0M598.0 535.9h0M597.3 545.0h0M598.2 550.5h0M598.3 552.7h0M595.8 550.8h0M594.7 545.6h0M600.4 554.6h0M597.6 542.1h0M599.0 553.6h0M601.1 557.6h0M600.0 547.0h0M601.4 551.3h0M598.8 557.7h0M597.4 550.3h0M603.7 551.5h0M600.3 546.0h0M602.8 552.4h0M598.9 541.4h0M596.1 543.6h0M597.2 546.2h0M593.3 547.4h0M597.6 543.7h0M595.6 551.8h0M598.9 544.9h0M598.4 540.6h0M596.5 545.7h0M596.6 547.8h0M584.2 549.2h0M582.8 561.9h0M583.4 559.2h0M587.2 548.0h0M586.6 559.4h0M581.7 555.2h0M582.6 552.4h0M585.4 552.9h0M586.0 562.0h0M587.4 556.9h0M587.9 550.5h0M584.9 556.1h0M587.7 553.9h0M581.1 557.8h0M578.9 535.8h0M581.4 533.1h0M581.0 534.3h0M579.8 532.2h0M575.6 533.1h0M576.7 534.0h0M578.1 534.1h0M579.6 534.5h0M576.9 532.8h0M580.8 535.7h0M575.7 537.3h0M577.2 536.4h0M601.5 561.4h0M600.6 571.1h0M597.7 560.3h0M599.2 563.4h0M600.5 568.1h0M597.9 565.9h0M598.0 568.8h0M601.4 565.1h0M599.9 559.2h0M593.9 580.4h0M595.9 580.2h0M595.1 577.6h0M599.5 583.8h0M601.4 586.8h0M596.8 586.2h0M597.6 582.1h0M598.3 589.5h0M600.8 590.1h0M593.2 576.9h0M599.4 587.2h0M600.5 585.7h0M596.2 581.5h0M595.4 574.9h0M597.6 584.4h0M599.4 578.9h0M596.2 583.4h0M594.8 575.8h0M598.6 587.9h0M593.9 574.4h0M600.9 589.1h0M596.7 576.2h0M598.0 578.6h0M594.4 579.1h0M596.7 584.7h0M600.4 591.1h0M595.9 575.8h0M594.9 580.8h0M598.3 580.4h0M596.4 577.8h0M597.4 585.5h0M598.4 577.8h0M598.8 586.2h0M597.7 579.7h0M598.5 590.9h0M599.4 588.2h0M615.7 578.5h0M615.4 579.2h0M615.8 581.4h0M614.7 580.8h0M616.0 577.1h0M616.9 580.2h0M617.0 577.6h0M616.5 578.4h0M614.7 578.7h0M616.8 581.6h0M615.8 579.9h0M615.1 577.7h0" stroke="#d4d3d8"/><path d="M591.9 531.1h0M580.5 549.6h0" stroke="#cfccd7"/><path d="M601.6 555.0h0" stroke="#c6bed6"/><path d="M599.9 552.2h0" stroke="#c1b7d5"/><path d="M583.6 532.8h0M594.4 533.0h0M595.5 555.7h0" stroke="#bdb0d5"/><path d="M591.3 526.7h0M601.9 545.5h0" stroke="#b8a9d4"/><path d="M588.0 533.5h0M592.7 537.2h0M594.1 527.9h0" stroke="#b09ecf"/><path d="M587.4 528.9h0" stroke="#a794ca"/><path d="M590.4 534.7h0" stroke="#9f8ac5"/><path d="M586.1 529.9h0M590.3 531.9h0M587.8 537.7h0M590.5 536.1h0M591.9 528.1h0M593.6 540.2h0M593.8 536.9h0M600.8 583.0h0" stroke="#977fc0"/><path d="M596.4 527.9h0M599.9 580.5h0" stroke="#8e74bb"/><path d="M593.6 526.5h0M590.6 539.5h0M599.3 573.3h0M598.3 583.5h0" stroke="#866ab6"/><path d="M594.7 533.8h0M592.5 535.8h0M595.7 528.9h0M593.2 527.7h0M585.1 540.5h0M596.5 535.9h0" stroke="#7d64b3"/><path d="M594.9 537.0h0M600.8 537.9h0M597.0 533.0h0M592.9 575.9h0" stroke="#755eaf"/><path d="M597.7 524.8h0M596.1 522.9h0M593.9 530.2h0M592.7 530.3h0M594.8 529.5h0M593.9 529.0h0M595.2 537.7h0" stroke="#6c58ac"/><path d="M597.6 526.1h0M597.2 530.2h0M593.6 536.7h0M594.6 536.2h0M595.2 534.2h0M597.6 534.6h0" stroke="#6353a9"/><path d="M597.2 523.6h0M596.0 536.1h0M594.8 525.1h0M595.2 524.3h0M594.6 535.5h0M596.0 531.4h0M600.5 532.4h0" stroke="#5b4da5"/><path d="M595.6 530.3h0M596.7 534.0h0M596.2 539.5h0" stroke="#5247a2"/><path d="M597.2 537.5h0M600.3 534.8h0" stroke="#4c48a3"/><path d="M596.2 526.7h0M597.5 533.5h0M599.6 538.6h0" stroke="#4549a3"/><path d="M597.4 528.0h0M595.3 527.0h0M599.9 531.1h0M599.3 532.4h0" stroke="#394aa5"/><path d="M598.6 528.2h0M598.4 531.4h0M601.4 537.0h0M601.1 535.7h0M598.3 538.1h0M598.0 539.0h0" stroke="#324ba5"/><path d="M597.7 540.0h0" stroke="#2c4ca6"/></g>
<path d="M538.4 519.5V598.1H625.6" fill="none" stroke="#444" stroke-width="0.9"/>
<text x="552.5" y="610.1" font-size="10.3" text-anchor="middle" >-5</text>
<text x="577.2" y="610.1" font-size="10.3" text-anchor="middle" >0</text>
<text x="601.9" y="610.1" font-size="10.3" text-anchor="middle" >5</text>
<text x="533.8" y="537.1" font-size="10.3" text-anchor="end" >2</text>
<text x="533.8" y="557.7" font-size="10.3" text-anchor="end" >0</text>
<text x="533.8" y="578.3" font-size="10.3" text-anchor="end" >-2</text>
<text x="533.8" y="598.9" font-size="10.3" text-anchor="end" >-4</text>
<path d="M552.5 598.1v2.6M577.2 598.1v2.6M601.9 598.1v2.6M538.4 533.4h-2.6M538.4 554.0h-2.6M538.4 574.6h-2.6M538.4 595.2h-2.6" stroke="#444" stroke-width="0.9"/>
<text x="582.0" y="624.6" font-size="12" text-anchor="middle" >UMAP_1</text>
<text x="0" y="0" font-size="12" text-anchor="middle" transform="translate(519.4,558.8) rotate(-90)">UMAP_2</text>
<text x="582.5" y="511.8" font-size="12" text-anchor="middle" >Krt19</text>
<rect x="636.2" y="534.2" width="10.5" height="52.8" fill="url(#cbg)"/>
<text x="650.7" y="590.6" font-size="10.3" text-anchor="start" >0</text>
<text x="650.7" y="571.0" font-size="10.3" text-anchor="start" >1</text>
<text x="650.7" y="551.5" font-size="10.3" text-anchor="start" >2</text>
<path d="M636.2 567.4h2M644.7 567.4h2M636.2 547.9h2M644.7 547.9h2" stroke="#fff" stroke-width="0.7" opacity="0.8"/>
<g stroke-width="2.0" stroke-linecap="round"><path d="M719.4 537.0h0M725.0 569.4h0M707.3 538.2h0M725.8 557.7h0M707.4 566.8h0M705.6 558.8h0M714.9 553.6h0M719.3 532.6h0M719.6 555.5h0M714.6 568.3h0M721.9 570.6h0M727.1 572.8h0M706.0 537.8h0M719.9 544.5h0M699.5 554.2h0M715.0 538.3h0M709.5 551.4h0M726.5 562.0h0M718.6 549.5h0M721.3 573.0h0M712.5 568.7h0M721.1 565.8h0M728.7 548.4h0M701.0 539.5h0M717.3 573.2h0M703.2 535.6h0M716.7 571.6h0M729.1 549.3h0M717.3 562.1h0M711.4 568.7h0M713.5 553.9h0M708.1 544.1h0M712.0 555.0h0M728.6 563.7h0M718.1 547.3h0M709.3 555.2h0M724.6 536.5h0M726.3 573.7h0M711.7 541.0h0M696.6 550.0h0M725.7 555.5h0M723.2 569.3h0M703.5 562.8h0M731.5 552.6h0M708.8 567.2h0M731.6 558.8h0M732.7 555.4h0M715.5 537.1h0M723.8 552.3h0M715.5 534.4h0M705.4 541.4h0M721.3 545.7h0M719.6 533.4h0M708.5 561.1h0M704.0 536.1h0M727.4 574.8h0M718.6 557.2h0M718.3 548.5h0M713.4 550.0h0M719.8 571.4h0M724.6 541.0h0M723.3 574.8h0M728.8 555.0h0M703.1 552.9h0M697.5 551.8h0M702.3 547.6h0M731.1 554.3h0M726.4 548.6h0M718.9 571.0h0M708.7 564.9h0M700.3 550.1h0M725.8 565.1h0M700.9 543.3h0M729.0 570.7h0M717.5 549.5h0M718.8 575.6h0M720.7 549.8h0M708.3 545.5h0M720.4 569.9h0M717.1 534.7h0M710.2 568.1h0M713.1 548.6h0M701.0 548.3h0M709.9 554.3h0M708.4 558.2h0M699.1 544.0h0M717.7 565.8h0M729.9 567.3h0M707.5 540.1h0M710.1 546.0h0M699.7 545.2h0M721.2 562.4h0M698.4 555.3h0M724.3 571.1h0M706.0 554.4h0M724.0 537.1h0M723.0 532.2h0M725.1 561.2h0M724.4 543.8h0M723.0 558.8h0M710.2 560.0h0M716.3 561.6h0M716.5 545.5h0M710.3 540.2h0M730.4 561.6h0M722.7 540.5h0M717.5 558.8h0M724.8 577.0h0M707.8 565.2h0M705.3 561.3h0M728.2 556.9h0M706.6 555.4h0M719.5 554.4h0M710.8 542.2h0M728.7 571.6h0M703.8 555.9h0M714.6 536.2h0M704.9 557.8h0M727.0 543.6h0M722.5 539.3h0M721.5 544.8h0M724.3 572.3h0M730.4 551.5h0M701.8 555.5h0M717.5 541.5h0M706.6 541.6h0M722.3 549.2h0M711.6 546.9h0M727.2 564.1h0M716.7 543.2h0M698.5 545.2h0M713.6 560.5h0M723.0 555.0h0M723.3 576.2h0M717.1 553.4h0M718.2 569.5h0M703.4 537.9h0M703.4 558.4h0M724.1 546.2h0M726.6 547.6h0M720.0 560.7h0M723.8 561.9h0M713.5 543.9h0M714.9 564.0h0M727.6 542.4h0M712.8 545.9h0M728.2 552.3h0M716.9 548.2h0M721.4 552.1h0M709.2 558.7h0M709.9 552.2h0M729.1 556.5h0M721.7 576.7h0M728.4 565.2h0M714.5 570.7h0M727.0 557.4h0M724.7 558.2h0M722.4 543.1h0M726.6 558.8h0M698.4 547.4h0M705.2 549.3h0M710.1 549.6h0M705.7 557.3h0M715.6 549.9h0M706.8 565.5h0M711.8 543.1h0M724.7 556.7h0M730.5 548.6h0M719.2 543.3h0M724.1 563.7h0M712.5 549.4h0M702.9 550.5h0M711.2 560.1h0M720.8 551.3h0M731.6 551.0h0M696.7 545.4h0M722.0 560.0h0M727.9 543.9h0M707.4 558.7h0M729.6 547.5h0M727.9 560.8h0M722.3 574.0h0M726.5 574.6h0M716.6 539.5h0M724.6 551.0h0M707.7 550.0h0M707.0 543.7h0M722.1 561.6h0M723.3 566.8h0M713.6 538.8h0M712.8 566.4h0M713.4 569.9h0M723.6 535.8h0M706.2 552.7h0M700.7 537.6h0M713.8 541.5h0M698.5 551.6h0M709.8 543.6h0M699.1 552.9h0M720.2 564.7h0M717.4 544.0h0M717.8 556.6h0M711.1 567.2h0M721.7 553.3h0M700.0 540.9h0M702.4 556.8h0M715.6 544.3h0M725.2 579.6h0M715.0 572.3h0M700.9 557.9h0M724.2 560.7h0M712.4 551.2h0M722.7 557.3h0M723.6 547.6h0M731.4 562.3h0M731.2 560.7h0M713.6 558.7h0M724.2 553.1h0M721.1 541.6h0M717.6 568.0h0M715.5 551.3h0M722.3 564.1h0M697.4 553.8h0M712.3 570.4h0M719.7 575.4h0M701.9 536.8h0M699.3 541.9h0M721.9 541.1h0M705.2 538.5h0M711.1 565.3h0M722.7 556.0h0M731.1 556.0h0M711.3 540.1h0M712.1 548.4h0M710.3 556.0h0M707.1 548.6h0M731.9 556.5h0M706.8 545.6h0M708.5 551.2h0M726.2 554.1h0M710.2 563.4h0M721.1 533.9h0M726.2 571.7h0M700.8 541.7h0M717.8 559.9h0M711.0 557.9h0M722.9 565.3h0M729.5 561.3h0M721.2 575.7h0M699.3 557.5h0M718.2 564.9h0M701.2 554.1h0M719.6 559.6h0M723.4 567.9h0M725.2 571.8h0M719.9 545.6h0M706.7 536.0h0M707.9 546.8h0M698.8 556.3h0M707.4 551.2h0M708.3 552.8h0M707.0 542.8h0M706.9 537.1h0M707.1 553.8h0M723.8 539.0h0M732.8 558.1h0M724.8 575.6h0M722.8 570.8h0M706.0 564.6h0M728.9 551.4h0M718.0 534.4h0M711.3 549.4h0M705.8 553.5h0M699.2 546.0h0M722.3 536.1h0M723.2 573.7h0M717.0 555.1h0M709.6 564.5h0M711.4 553.9h0M722.9 535.1h0M713.2 555.1h0M711.5 562.6h0M714.5 566.7h0M708.9 550.4h0M729.8 562.9h0M719.8 538.3h0M698.3 542.1h0M708.1 548.5h0M699.2 548.3h0M717.6 550.5h0M719.3 535.8h0M724.9 567.7h0M708.1 556.7h0M715.9 546.8h0M719.9 547.6h0M710.4 547.6h0M704.3 561.7h0M709.6 542.2h0M701.3 552.3h0M718.9 538.3h0M722.1 558.9h0M725.8 569.0h0M713.4 571.2h0M711.1 544.4h0M713.3 569.0h0M726.0 540.9h0M726.8 545.2h0M727.1 565.9h0M721.2 555.3h0M727.9 547.4h0M721.5 532.8h0M715.1 541.8h0M712.5 563.2h0M727.9 549.1h0M720.4 558.0h0M705.6 542.6h0M714.3 554.5h0M713.1 547.7h0M709.1 563.1h0M727.8 550.2h0M720.7 577.0h0M709.6 540.9h0M712.4 567.4h0M716.3 569.6h0M729.2 565.9h0M720.6 538.9h0M725.9 538.7h0M721.3 567.2h0M727.2 567.0h0M719.5 553.3h0M704.4 538.1h0M724.5 555.5h0M723.0 572.7h0M722.2 568.0h0M725.0 574.0h0M720.0 539.9h0M702.5 554.3h0M705.3 546.2h0M723.5 545.5h0M717.6 567.1h0M705.9 562.7h0M725.2 559.2h0M716.1 563.0h0M704.6 555.5h0M712.8 539.8h0M738.4 529.0h0M747.2 533.0h0M738.2 530.2h0M739.2 541.7h0M744.9 535.0h0M748.6 525.8h0M745.0 536.4h0M737.6 537.8h0M750.1 523.9h0M736.4 533.0h0M741.3 540.7h0M748.1 528.0h0M747.2 524.2h0M735.5 532.9h0M746.3 529.3h0M749.9 532.7h0M740.3 539.9h0M747.6 523.3h0M732.6 532.3h0M737.5 541.7h0M749.7 529.3h0M747.3 536.3h0M741.9 531.8h0M745.0 529.5h0M743.0 538.8h0M731.0 532.7h0M745.6 526.8h0M753.6 548.7h0M752.1 550.5h0M754.3 547.0h0M755.3 542.0h0M754.1 554.5h0M746.7 551.0h0M754.3 543.7h0M749.4 555.3h0M756.4 553.6h0M751.6 543.1h0M754.6 550.0h0M747.2 552.3h0M747.9 555.3h0M752.4 556.7h0M747.0 535.4h0M750.5 553.1h0M755.9 546.5h0M749.3 550.8h0M748.6 556.7h0M754.8 546.1h0M752.3 551.6h0M753.3 537.1h0M752.1 537.9h0M746.2 542.4h0M746.3 552.6h0M754.5 556.2h0M749.7 552.5h0M755.5 555.7h0M754.6 540.0h0M751.6 555.5h0M756.7 549.4h0M750.2 539.3h0M746.2 536.2h0M747.7 543.4h0M745.9 544.3h0M750.1 554.1h0M754.4 542.3h0M745.4 550.2h0M754.4 551.6h0M754.4 544.8h0M748.6 554.3h0M745.1 549.4h0M747.3 547.7h0M750.4 535.1h0M749.8 544.4h0M752.4 530.3h0M750.8 552.2h0M748.2 550.3h0M747.1 545.0h0M752.9 554.1h0M750.0 541.4h0M752.5 546.4h0M753.9 550.7h0M751.2 557.3h0M749.8 549.7h0M752.8 534.0h0M756.2 551.0h0M747.6 536.9h0M752.8 545.4h0M755.3 551.9h0M751.4 540.7h0M748.5 542.9h0M749.6 545.6h0M745.7 546.8h0M750.0 543.1h0M748.0 551.2h0M751.4 544.3h0M750.9 539.9h0M748.9 545.1h0M749.1 547.2h0M736.5 548.6h0M735.0 561.6h0M735.6 558.7h0M739.5 547.5h0M738.9 558.9h0M733.9 554.7h0M734.9 551.9h0M737.7 552.4h0M738.3 561.6h0M739.7 556.5h0M740.2 549.9h0M737.2 555.6h0M740.0 553.4h0M733.3 557.4h0M728.9 533.2h0M731.9 533.7h0M729.1 532.0h0M754.0 561.0h0M753.1 570.9h0M750.1 559.9h0M751.7 563.1h0M753.0 567.9h0M750.4 565.6h0M751.7 573.1h0M750.5 568.6h0M753.9 564.7h0M752.4 558.8h0M746.3 580.2h0M748.3 580.1h0M752.0 583.7h0M753.9 586.8h0M750.0 582.0h0M750.8 589.5h0M750.7 583.4h0M745.6 576.7h0M753.0 585.6h0M748.7 581.4h0M747.8 574.7h0M748.6 583.3h0M751.1 587.9h0M746.3 574.2h0M753.3 589.1h0M749.2 576.0h0M745.3 575.7h0M746.8 579.0h0M749.1 584.6h0M748.3 575.6h0M747.3 580.7h0M750.7 580.3h0M748.8 577.7h0M749.9 585.4h0M750.8 577.6h0M751.3 586.2h0M750.1 579.6h0M752.4 580.4h0M750.9 590.9h0M751.9 588.2h0M768.4 578.3h0M768.0 579.1h0M768.5 581.3h0M767.4 580.6h0M768.6 576.9h0M769.6 580.1h0M769.7 577.5h0M769.2 578.2h0M767.4 578.6h0M769.4 581.5h0M768.5 579.8h0M767.8 577.5h0" stroke="#d4d3d8"/><path d="M733.9 542.0h0" stroke="#cfccd7"/><path d="M736.5 541.0h0M731.1 535.0h0" stroke="#cbc5d7"/><path d="M735.7 531.1h0" stroke="#c6bed6"/><path d="M750.7 549.9h0M753.6 557.1h0M730.3 533.4h0M727.9 536.5h0" stroke="#c1b7d5"/><path d="M733.6 533.1h0" stroke="#bdb0d5"/><path d="M739.3 534.3h0M730.9 534.5h0M733.6 532.3h0M727.8 532.3h0M729.4 535.7h0M751.8 587.1h0" stroke="#b8a9d4"/><path d="M736.6 530.5h0M734.0 535.9h0M747.7 542.0h0M732.7 549.1h0" stroke="#b09ecf"/><path d="M715.1 539.4h0M735.1 531.8h0M751.5 553.0h0" stroke="#a794ca"/><path d="M734.8 537.7h0M735.2 535.3h0M747.0 534.8h0M735.9 532.0h0M736.7 537.5h0" stroke="#9f8ac5"/><path d="M732.3 536.7h0M744.4 538.0h0M735.4 539.2h0M749.9 527.1h0M736.9 534.2h0M733.9 539.5h0" stroke="#977fc0"/><path d="M726.1 553.2h0M747.7 526.1h0M742.7 533.9h0M746.5 527.0h0M750.5 538.2h0M749.2 586.1h0M751.8 578.7h0" stroke="#8e74bb"/><path d="M726.8 541.5h0M726.4 560.4h0M714.9 559.3h0M733.3 531.7h0M735.9 537.9h0M740.2 537.0h0M748.0 529.4h0M733.4 538.5h0M744.0 536.8h0M746.3 528.1h0M746.0 539.5h0M754.3 548.1h0M746.8 539.8h0M733.3 533.5h0M732.1 531.3h0M747.5 577.5h0" stroke="#866ab6"/><path d="M740.4 532.7h0M741.2 529.9h0M739.7 528.0h0M742.8 532.1h0M742.2 527.8h0M743.6 525.8h0M742.9 535.3h0M744.3 527.2h0M752.1 535.5h0M733.1 535.0h0M753.3 590.1h0" stroke="#7d64b3"/><path d="M746.0 525.6h0M743.7 532.2h0M737.4 539.8h0M748.7 538.8h0M750.8 537.4h0M750.1 533.9h0" stroke="#755eaf"/><path d="M737.4 532.2h0M748.8 527.0h0M753.9 536.3h0M749.6 536.8h0M751.8 531.6h0M747.6 533.4h0M750.5 578.4h0M752.8 591.2h0" stroke="#6c58ac"/><path d="M748.4 535.3h0M747.3 528.6h0M748.4 530.5h0M747.2 575.6h0" stroke="#6353a9"/><path d="M744.3 530.3h0M742.6 531.0h0M748.5 522.0h0M743.8 535.9h0M751.0 527.3h0M746.8 532.2h0M750.9 530.6h0M750.0 584.4h0M753.3 582.9h0" stroke="#5b4da5"/><path d="M748.9 533.7h0M749.7 522.6h0M750.7 529.6h0M749.1 533.2h0" stroke="#5247a2"/><path d="M750.1 525.1h0M742.0 536.4h0M749.5 532.2h0" stroke="#4c48a3"/><path d="M746.0 535.9h0M749.0 535.1h0M753.0 531.5h0M753.6 535.0h0" stroke="#4549a3"/></g>
<path d="M691.7 518.5V598.0H778.4" fill="none" stroke="#444" stroke-width="0.9"/>
<text x="704.4" y="610.0" font-size="10.3" text-anchor="middle" >-5</text>
<text x="729.4" y="610.0" font-size="10.3" text-anchor="middle" >0</text>
<text x="754.4" y="610.0" font-size="10.3" text-anchor="middle" >5</text>
<text x="687.1" y="536.3" font-size="10.3" text-anchor="end" >2</text>
<text x="687.1" y="557.2" font-size="10.3" text-anchor="end" >0</text>
<text x="687.1" y="578.1" font-size="10.3" text-anchor="end" >-2</text>
<text x="687.1" y="599.0" font-size="10.3" text-anchor="end" >-4</text>
<path d="M704.4 598.0v2.6M729.4 598.0v2.6M754.4 598.0v2.6M691.7 532.6h-2.6M691.7 553.5h-2.6M691.7 574.4h-2.6M691.7 595.3h-2.6" stroke="#444" stroke-width="0.9"/>
<text x="735.0" y="624.5" font-size="12" text-anchor="middle" >UMAP_1</text>
<text x="0" y="0" font-size="12" text-anchor="middle" transform="translate(672.7,558.2) rotate(-90)">UMAP_2</text>
<text x="735.0" y="511.9" font-size="12" text-anchor="middle" >Pgf</text>
<rect x="789.7" y="534" width="10.2" height="54" fill="url(#cbg)"/>
<text x="803.9" y="591.6" font-size="10.3" text-anchor="start" >0</text>
<text x="803.9" y="578.4" font-size="10.3" text-anchor="start" >1</text>
<text x="803.9" y="565.3" font-size="10.3" text-anchor="start" >2</text>
<text x="803.9" y="552.1" font-size="10.3" text-anchor="start" >3</text>
<text x="803.9" y="538.9" font-size="10.3" text-anchor="start" >4</text>
<path d="M789.7 574.8h2M797.9 574.8h2M789.7 561.7h2M797.9 561.7h2M789.7 548.5h2M797.9 548.5h2M789.7 535.3h2M797.9 535.3h2" stroke="#fff" stroke-width="0.7" opacity="0.8"/>
<g stroke-width="2.0" stroke-linecap="round"><path d="M879.4 537.0h0M885.1 569.4h0M867.1 538.2h0M885.9 557.7h0M867.2 566.8h0M865.4 558.8h0M874.8 553.6h0M879.3 532.6h0M879.6 555.5h0M874.6 568.3h0M881.9 570.6h0M887.1 572.8h0M865.9 537.8h0M875.0 539.4h0M879.9 544.5h0M859.3 554.2h0M875.0 538.3h0M869.4 551.4h0M886.6 562.0h0M878.6 549.5h0M881.3 573.0h0M872.4 568.7h0M881.2 565.8h0M888.8 548.4h0M860.8 539.5h0M877.3 573.2h0M863.1 535.6h0M876.7 571.6h0M889.2 549.3h0M877.3 562.1h0M871.3 568.7h0M873.5 553.9h0M868.0 544.1h0M872.0 555.0h0M888.7 563.7h0M878.1 547.3h0M869.2 555.2h0M884.7 536.5h0M886.4 573.7h0M871.6 541.0h0M856.4 550.0h0M885.7 555.5h0M883.2 569.3h0M863.3 562.8h0M891.6 552.6h0M868.6 567.2h0M891.7 558.8h0M892.8 555.4h0M875.5 537.1h0M883.8 552.3h0M875.4 534.4h0M865.3 541.4h0M881.3 545.7h0M879.6 533.4h0M868.4 561.1h0M863.8 536.1h0M887.5 574.8h0M878.6 557.2h0M878.3 548.5h0M873.4 550.0h0M879.8 571.4h0M884.6 541.0h0M883.4 574.8h0M888.9 555.0h0M862.9 552.9h0M857.3 551.8h0M862.1 547.6h0M891.2 554.3h0M886.4 548.6h0M878.9 571.0h0M868.6 564.9h0M860.1 550.1h0M885.9 565.1h0M860.7 543.3h0M889.1 570.7h0M877.5 549.5h0M878.8 575.6h0M880.8 549.8h0M886.9 541.5h0M868.2 545.5h0M880.4 569.9h0M877.1 534.7h0M870.1 568.1h0M873.0 548.6h0M860.9 548.3h0M869.8 554.3h0M868.3 558.2h0M858.9 544.0h0M877.7 565.8h0M890.0 567.3h0M867.4 540.1h0M870.0 546.0h0M859.5 545.2h0M881.2 562.4h0M858.2 555.3h0M884.4 571.1h0M865.9 554.4h0M884.0 537.1h0M883.0 532.2h0M885.1 561.2h0M884.5 543.8h0M883.0 558.8h0M870.1 560.0h0M876.3 561.6h0M876.5 545.5h0M870.2 540.2h0M890.5 561.6h0M882.7 540.5h0M877.5 558.8h0M884.8 577.0h0M867.7 565.2h0M865.1 561.3h0M888.3 556.9h0M866.5 555.4h0M879.5 554.4h0M870.7 542.2h0M888.8 571.6h0M863.7 555.9h0M874.6 536.2h0M864.7 557.8h0M887.1 543.6h0M882.5 539.3h0M881.5 544.8h0M884.4 572.3h0M890.5 551.5h0M861.7 555.5h0M877.5 541.5h0M866.5 541.6h0M882.3 549.2h0M871.5 546.9h0M887.3 564.1h0M876.6 543.2h0M858.3 545.2h0M873.5 560.5h0M883.0 555.0h0M883.4 576.2h0M877.0 553.4h0M878.2 569.5h0M863.2 537.9h0M863.3 558.4h0M884.1 546.2h0M886.7 547.6h0M880.0 560.7h0M883.9 561.9h0M873.4 543.9h0M874.8 564.0h0M887.7 542.4h0M872.7 545.9h0M888.3 552.3h0M876.9 548.2h0M881.4 552.1h0M869.1 558.7h0M869.8 552.2h0M889.2 556.5h0M881.7 576.7h0M888.5 565.2h0M874.5 570.7h0M887.0 557.4h0M884.8 558.2h0M882.5 543.1h0M886.7 558.8h0M858.2 547.4h0M865.1 549.3h0M870.0 549.6h0M865.6 557.3h0M875.6 549.9h0M866.7 565.5h0M871.8 543.1h0M884.8 556.7h0M890.6 548.6h0M879.2 543.3h0M884.1 563.7h0M872.5 549.4h0M862.8 550.5h0M871.1 560.1h0M880.8 551.3h0M891.7 551.0h0M856.5 545.4h0M882.0 560.0h0M887.9 543.9h0M867.3 558.7h0M889.7 547.5h0M888.0 560.8h0M882.3 574.0h0M886.6 574.6h0M876.6 539.5h0M884.7 551.0h0M867.6 550.0h0M866.9 543.7h0M882.2 561.6h0M883.4 566.8h0M873.5 538.8h0M872.7 566.4h0M873.4 569.9h0M883.7 535.8h0M866.1 552.7h0M860.5 537.6h0M873.7 541.5h0M858.3 551.6h0M869.7 543.6h0M858.9 552.9h0M880.2 564.7h0M877.4 544.0h0M877.8 556.6h0M871.0 567.2h0M881.7 553.3h0M859.9 540.9h0M862.3 556.8h0M875.6 544.3h0M885.3 579.6h0M875.0 572.3h0M860.7 557.9h0M884.3 560.7h0M872.3 551.2h0M882.7 557.3h0M883.6 547.6h0M886.5 560.4h0M891.5 562.3h0M891.3 560.7h0M873.6 558.7h0M884.3 553.1h0M881.2 541.6h0M877.6 568.0h0M875.5 551.3h0M882.3 564.1h0M857.1 553.8h0M872.2 570.4h0M879.7 575.4h0M861.7 536.8h0M859.1 541.9h0M882.0 541.1h0M865.0 538.5h0M871.0 565.3h0M882.7 556.0h0M891.2 556.0h0M874.8 559.3h0M871.2 540.1h0M872.0 548.4h0M870.2 556.0h0M867.0 548.6h0M892.0 556.5h0M866.7 545.6h0M868.4 551.2h0M886.3 554.1h0M870.1 563.4h0M881.1 533.9h0M886.2 571.7h0M860.7 541.7h0M877.8 559.9h0M870.9 557.9h0M882.9 565.3h0M889.6 561.3h0M881.2 575.7h0M859.1 557.5h0M878.2 564.9h0M886.2 553.2h0M861.0 554.1h0M879.6 559.6h0M883.4 567.9h0M885.2 571.8h0M879.9 545.6h0M866.6 536.0h0M867.7 546.8h0M858.6 556.3h0M867.3 551.2h0M868.2 552.8h0M866.9 542.8h0M866.7 537.1h0M867.0 553.8h0M883.9 539.0h0M892.9 558.1h0M884.8 575.6h0M882.8 570.8h0M865.8 564.6h0M889.0 551.4h0M878.0 534.4h0M871.2 549.4h0M865.7 553.5h0M859.0 546.0h0M882.3 536.1h0M883.3 573.7h0M876.9 555.1h0M869.5 564.5h0M871.3 553.9h0M882.9 535.1h0M873.2 555.1h0M871.4 562.6h0M874.4 566.7h0M868.8 550.4h0M889.9 562.9h0M879.8 538.3h0M858.1 542.1h0M867.9 548.5h0M859.0 548.3h0M877.6 550.5h0M879.3 535.8h0M884.9 567.7h0M868.0 556.7h0M875.8 546.8h0M879.9 547.6h0M870.3 547.6h0M864.1 561.7h0M869.5 542.2h0M861.1 552.3h0M878.9 538.3h0M882.1 558.9h0M885.9 569.0h0M873.3 571.2h0M871.0 544.4h0M873.3 569.0h0M886.0 540.9h0M886.9 545.2h0M887.1 565.9h0M881.2 555.3h0M887.9 547.4h0M881.5 532.8h0M875.0 541.8h0M872.5 563.2h0M888.0 549.1h0M880.4 558.0h0M865.5 542.6h0M874.2 554.5h0M873.1 547.7h0M869.0 563.1h0M887.9 550.2h0M880.8 577.0h0M869.5 540.9h0M872.4 567.4h0M876.3 569.6h0M889.3 565.9h0M880.6 538.9h0M885.9 538.7h0M881.4 567.2h0M887.2 567.0h0M879.5 553.3h0M864.2 538.1h0M884.5 555.5h0M883.0 572.7h0M882.2 568.0h0M885.1 574.0h0M880.0 539.9h0M862.3 554.3h0M865.1 546.2h0M883.5 545.5h0M877.6 567.1h0M865.8 562.7h0M885.3 559.2h0M876.1 563.0h0M864.5 555.5h0M872.8 539.8h0M894.0 542.0h0M900.6 532.7h0M907.4 533.0h0M899.5 534.3h0M892.4 536.7h0M893.5 531.7h0M896.1 537.9h0M897.5 532.2h0M909.2 533.7h0M891.0 534.5h0M910.0 522.6h0M899.4 541.7h0M905.2 535.0h0M908.9 525.8h0M911.0 529.6h0M902.2 536.4h0M897.8 537.8h0M895.6 539.2h0M910.4 523.9h0M900.4 537.0h0M896.8 530.5h0M906.3 525.6h0M908.8 522.0h0M895.2 531.8h0M896.6 533.0h0M908.0 526.1h0M904.0 535.9h0M901.4 529.9h0M901.5 540.7h0M908.4 528.0h0M907.5 524.2h0M894.1 535.9h0M902.9 533.9h0M895.7 532.9h0M906.6 529.3h0M910.2 532.7h0M900.5 539.9h0M906.8 527.0h0M894.1 539.5h0M897.7 541.7h0M899.9 528.0h0M903.0 532.1h0M907.6 536.3h0M902.4 527.8h0M907.2 534.8h0M911.3 527.3h0M896.6 541.0h0M903.1 535.3h0M893.6 538.5h0M907.1 532.2h0M903.2 538.8h0M891.1 532.7h0M906.6 528.1h0M903.9 532.2h0M906.3 535.9h0M905.9 526.8h0M897.6 539.8h0M896.9 537.5h0M913.9 548.7h0M914.7 547.0h0M911.2 530.6h0M909.4 533.2h0M915.7 542.0h0M914.4 554.5h0M907.0 551.0h0M912.4 535.5h0M914.7 543.7h0M909.7 555.3h0M906.3 539.5h0M916.8 553.6h0M911.9 543.1h0M914.9 550.0h0M907.5 552.3h0M908.2 555.3h0M912.8 556.7h0M907.3 535.4h0M910.8 553.1h0M916.2 546.5h0M908.0 542.0h0M909.6 550.8h0M908.9 556.7h0M915.1 546.1h0M912.7 551.6h0M913.6 537.1h0M912.4 537.9h0M906.5 542.4h0M906.5 552.6h0M914.8 556.2h0M910.0 552.5h0M915.9 555.7h0M914.9 540.0h0M911.9 555.5h0M914.6 548.1h0M917.1 549.4h0M910.5 539.3h0M906.5 536.2h0M907.9 543.4h0M906.1 544.3h0M910.4 554.1h0M914.8 542.3h0M908.9 538.8h0M907.1 539.8h0M905.7 550.2h0M914.8 551.6h0M914.8 544.8h0M909.9 536.8h0M908.9 554.3h0M905.4 549.4h0M907.6 547.7h0M910.1 544.4h0M911.0 549.9h0M909.8 532.2h0M908.5 550.3h0M907.4 545.0h0M913.3 554.1h0M910.3 541.4h0M912.1 531.6h0M911.1 537.4h0M907.9 533.4h0M911.8 553.0h0M913.9 557.1h0M912.8 546.4h0M914.3 550.7h0M911.6 557.3h0M910.1 549.7h0M913.2 534.0h0M916.6 551.0h0M910.8 538.2h0M913.1 545.4h0M915.7 551.9h0M911.7 540.7h0M908.8 542.9h0M910.4 533.9h0M909.9 545.6h0M906.0 546.8h0M908.3 551.2h0M911.7 544.3h0M911.2 539.9h0M909.2 545.1h0M909.4 547.2h0M896.7 548.6h0M895.2 561.6h0M892.8 549.1h0M895.8 558.7h0M899.7 547.5h0M899.1 558.9h0M894.1 554.7h0M895.0 551.9h0M897.8 552.4h0M898.5 561.6h0M899.9 556.5h0M900.4 549.9h0M897.4 555.6h0M900.2 553.4h0M893.4 557.4h0M893.4 533.5h0M887.9 532.3h0M890.4 533.4h0M892.0 533.7h0M889.2 532.0h0M893.2 535.0h0M888.0 536.5h0M889.5 535.7h0M914.3 561.0h0M913.5 570.9h0M910.4 559.9h0M912.0 563.1h0M913.3 567.9h0M910.7 565.6h0M912.0 573.1h0M910.8 568.6h0M912.7 558.8h0M906.6 580.2h0M908.6 580.1h0M907.8 577.5h0M912.3 583.7h0M914.2 586.8h0M910.4 582.0h0M911.1 589.5h0M913.6 590.1h0M911.1 583.4h0M912.2 587.1h0M913.4 585.6h0M908.9 581.4h0M908.1 574.7h0M910.3 584.4h0M908.9 583.3h0M907.5 575.6h0M911.4 587.9h0M906.6 574.2h0M909.4 576.0h0M910.8 578.4h0M905.6 575.7h0M909.4 584.6h0M913.2 591.2h0M908.6 575.6h0M907.6 580.7h0M911.0 580.3h0M913.6 582.9h0M909.1 577.7h0M910.2 585.4h0M911.1 577.6h0M911.6 586.2h0M910.4 579.6h0M912.8 580.4h0M911.3 590.9h0M912.2 588.2h0M928.9 578.3h0M928.5 579.1h0M929.0 581.3h0M927.9 580.6h0M929.1 576.9h0M930.1 580.1h0M930.2 577.5h0M929.7 578.2h0M927.9 578.6h0M929.9 581.5h0M929.0 579.8h0M928.3 577.5h0" stroke="#d4d3d8"/><path d="M914.2 564.7h0" stroke="#c6bed6"/><path d="M908.7 530.5h0M907.1 579.0h0" stroke="#c1b7d5"/><path d="M904.6 538.0h0M912.4 550.5h0M912.2 578.7h0" stroke="#bdb0d5"/><path d="M908.3 529.4h0" stroke="#b8a9d4"/><path d="M909.5 586.1h0" stroke="#b09ecf"/><path d="M902.2 531.8h0M896.1 532.0h0M913.3 531.5h0M911.1 552.2h0M889.0 533.2h0" stroke="#a794ca"/><path d="M898.6 529.0h0M903.9 525.8h0M909.1 527.0h0M914.2 536.3h0M910.3 543.1h0M891.2 535.0h0" stroke="#9f8ac5"/><path d="M904.3 536.8h0M912.7 530.3h0M893.8 532.3h0M892.2 531.3h0M905.9 576.7h0" stroke="#977fc0"/><path d="M902.8 531.0h0M905.3 536.4h0M907.9 523.3h0M905.3 529.5h0M909.3 535.1h0M910.7 535.1h0" stroke="#8e74bb"/><path d="M894.9 537.7h0M904.5 530.3h0M898.4 530.2h0M908.7 535.3h0M897.1 534.2h0" stroke="#866ab6"/><path d="M910.4 525.1h0M910.0 529.3h0M907.5 528.6h0M913.7 589.1h0" stroke="#7d64b3"/><path d="M914.0 535.0h0" stroke="#755eaf"/><path d="M910.2 527.1h0M895.8 531.1h0M904.5 527.2h0" stroke="#6c58ac"/><path d="M907.9 536.9h0" stroke="#6353a9"/><path d="M895.4 535.3h0" stroke="#5247a2"/><path d="M893.8 533.1h0M892.8 532.3h0" stroke="#4c48a3"/></g>
<path d="M850.8 518.5V598.0H939.0" fill="none" stroke="#444" stroke-width="0.9"/>
<text x="864.2" y="610.0" font-size="10.3" text-anchor="middle" >-5</text>
<text x="889.5" y="610.0" font-size="10.3" text-anchor="middle" >0</text>
<text x="914.8" y="610.0" font-size="10.3" text-anchor="middle" >5</text>
<text x="846.2" y="536.3" font-size="10.3" text-anchor="end" >2</text>
<text x="846.2" y="557.2" font-size="10.3" text-anchor="end" >0</text>
<text x="846.2" y="578.1" font-size="10.3" text-anchor="end" >-2</text>
<text x="846.2" y="599.0" font-size="10.3" text-anchor="end" >-4</text>
<path d="M864.2 598.0v2.6M889.5 598.0v2.6M914.8 598.0v2.6M850.8 532.6h-2.6M850.8 553.5h-2.6M850.8 574.4h-2.6M850.8 595.3h-2.6" stroke="#444" stroke-width="0.9"/>
<text x="894.9" y="624.5" font-size="12" text-anchor="middle" >UMAP_1</text>
<text x="0" y="0" font-size="12" text-anchor="middle" transform="translate(831.8,558.2) rotate(-90)">UMAP_2</text>
<text x="892.5" y="511.9" font-size="12" text-anchor="middle" >Adm2</text>
<rect x="949.4" y="534" width="10.2" height="54" fill="url(#cbg)"/>
<text x="963.6" y="591.6" font-size="10.3" text-anchor="start" >0.0</text>
<text x="963.6" y="578.5" font-size="10.3" text-anchor="start" >0.4</text>
<text x="963.6" y="565.4" font-size="10.3" text-anchor="start" >0.8</text>
<text x="963.6" y="552.3" font-size="10.3" text-anchor="start" >1.2</text>
<text x="963.6" y="539.2" font-size="10.3" text-anchor="start" >1.6</text>
<path d="M949.4 574.9h2M957.6 574.9h2M949.4 561.8h2M957.6 561.8h2M949.4 548.7h2M957.6 548.7h2M949.4 535.6h2M957.6 535.6h2" stroke="#fff" stroke-width="0.7" opacity="0.8"/>
<g stroke-width="2.0" stroke-linecap="round"><path d="M571.4 734.1h0M572.2 722.0h0M554.1 731.4h0M552.3 723.2h0M565.8 696.2h0M566.0 719.7h0M561.2 733.0h0M568.3 735.3h0M573.4 737.6h0M552.8 701.6h0M561.7 703.2h0M566.4 708.5h0M546.4 718.4h0M561.6 702.0h0M556.2 715.6h0M572.9 726.4h0M565.2 713.6h0M567.8 737.7h0M559.1 733.3h0M567.6 730.3h0M575.0 712.4h0M547.8 703.3h0M563.9 738.0h0M563.2 736.3h0M575.4 713.4h0M563.9 726.6h0M560.1 718.1h0M558.7 719.3h0M575.0 728.2h0M564.6 711.3h0M556.0 719.5h0M572.7 738.4h0M543.5 714.1h0M572.0 719.8h0M569.6 734.0h0M550.3 727.2h0M577.7 716.8h0M555.5 731.8h0M578.9 719.7h0M562.1 700.8h0M570.2 716.4h0M562.0 698.1h0M552.2 705.3h0M555.2 725.5h0M550.8 699.9h0M573.8 739.6h0M565.1 721.5h0M564.8 712.5h0M560.1 714.1h0M566.3 736.1h0M571.0 704.8h0M569.7 739.6h0M544.4 716.0h0M549.1 711.6h0M577.4 718.5h0M572.7 712.6h0M565.4 735.7h0M555.4 729.5h0M547.1 714.2h0M572.2 729.7h0M547.7 707.2h0M575.3 735.4h0M564.0 713.6h0M567.2 713.9h0M573.2 705.4h0M555.0 709.4h0M556.9 732.7h0M559.7 712.6h0M556.6 718.5h0M546.0 707.9h0M576.2 731.9h0M554.2 703.9h0M556.8 710.0h0M546.6 709.2h0M567.7 726.8h0M570.7 735.8h0M552.8 718.7h0M570.4 700.8h0M569.4 695.8h0M571.5 725.6h0M570.8 707.7h0M569.4 723.2h0M556.9 724.4h0M562.9 726.0h0M563.1 709.5h0M569.1 704.3h0M564.1 723.1h0M571.2 741.9h0M554.5 729.7h0M552.0 725.7h0M574.5 721.2h0M566.0 718.6h0M557.5 706.0h0M575.0 736.3h0M550.6 720.1h0M551.7 722.2h0M573.4 707.5h0M568.9 703.1h0M568.0 708.8h0M570.7 737.0h0M576.7 715.7h0M548.7 719.7h0M564.1 705.4h0M553.3 705.5h0M568.7 713.3h0M558.2 710.9h0M563.2 707.1h0M545.4 709.1h0M560.2 724.9h0M569.4 719.3h0M563.6 717.6h0M564.7 734.2h0M550.2 701.7h0M550.3 722.7h0M570.5 710.2h0M566.5 725.1h0M570.3 726.4h0M560.1 707.8h0M561.5 728.5h0M573.9 706.3h0M559.4 709.9h0M574.5 716.5h0M563.4 712.3h0M567.8 716.3h0M556.6 716.4h0M575.4 720.7h0M568.1 741.6h0M561.1 735.4h0M571.1 722.5h0M568.9 707.0h0M572.9 723.2h0M552.0 713.3h0M556.8 713.6h0M552.5 721.6h0M562.2 713.9h0M553.6 730.1h0M558.5 707.0h0M565.7 707.2h0M570.5 728.2h0M559.2 713.5h0M549.8 714.6h0M557.9 724.5h0M567.3 715.5h0M577.9 715.1h0M543.7 709.3h0M568.4 724.4h0M574.2 707.8h0M554.1 723.0h0M575.9 711.5h0M568.7 738.8h0M563.2 703.3h0M554.5 714.1h0M553.7 707.7h0M568.6 726.0h0M569.8 731.4h0M560.2 702.6h0M559.4 730.9h0M560.1 734.6h0M570.1 699.5h0M553.0 716.9h0M547.6 701.4h0M560.4 705.3h0M545.5 715.7h0M556.5 707.6h0M546.0 717.1h0M566.7 729.2h0M563.9 707.9h0M564.3 720.9h0M557.8 731.8h0M568.2 717.5h0M546.9 704.7h0M549.3 721.1h0M562.2 708.3h0M571.6 744.6h0M561.6 737.0h0M547.8 722.2h0M570.7 725.1h0M559.0 715.4h0M569.1 721.7h0M570.0 711.6h0M572.8 724.8h0M577.6 726.7h0M577.4 725.1h0M560.3 723.0h0M567.6 705.5h0M544.3 718.0h0M558.9 735.1h0M566.2 740.2h0M548.7 700.5h0M546.2 705.8h0M568.4 705.0h0M552.0 702.3h0M557.8 729.8h0M569.1 720.3h0M561.5 723.6h0M557.9 703.9h0M558.7 712.5h0M557.0 720.3h0M553.8 712.7h0M578.2 720.8h0M553.5 709.5h0M555.2 715.4h0M556.9 727.9h0M567.5 697.5h0M572.5 736.4h0M564.4 724.3h0M557.6 722.3h0M569.3 729.9h0M575.8 725.7h0M567.6 740.5h0M546.2 721.8h0M564.7 729.4h0M572.5 717.4h0M548.1 718.4h0M566.1 724.0h0M569.8 732.5h0M571.5 736.5h0M566.4 709.6h0M553.4 699.7h0M554.6 710.8h0M545.7 720.6h0M554.2 715.4h0M555.1 717.0h0M553.8 706.7h0M553.9 718.0h0M570.2 702.8h0M569.2 735.5h0M552.7 729.1h0M575.2 715.6h0M564.5 698.1h0M557.9 713.5h0M552.6 717.7h0M546.1 709.9h0M568.7 699.8h0M569.6 738.4h0M563.5 719.4h0M556.3 729.0h0M558.0 718.1h0M559.9 719.3h0M558.1 727.1h0M561.1 731.3h0M555.6 714.5h0M576.0 727.4h0M554.8 712.6h0M546.1 712.4h0M564.1 714.6h0M565.8 699.5h0M571.3 732.3h0M554.8 721.0h0M566.4 711.6h0M557.1 711.7h0M551.1 726.1h0M556.3 706.0h0M548.2 716.5h0M565.4 702.0h0M568.5 723.2h0M572.2 733.6h0M557.8 708.3h0M572.3 704.7h0M573.1 709.1h0M573.4 730.5h0M567.6 719.6h0M574.2 711.4h0M567.9 696.5h0M559.2 727.7h0M574.3 713.2h0M566.9 722.4h0M552.4 706.5h0M560.9 718.7h0M555.8 727.6h0M574.2 714.3h0M556.3 704.7h0M559.1 732.0h0M562.9 734.2h0M575.5 730.4h0M567.1 702.7h0M572.2 702.5h0M567.8 731.8h0M551.2 701.9h0M570.9 719.8h0M569.4 737.4h0M568.6 732.6h0M571.4 738.8h0M566.5 703.7h0M549.3 718.5h0M552.0 710.2h0M564.1 731.7h0M552.7 727.2h0M571.6 723.5h0M551.4 719.7h0M559.5 703.6h0M584.5 692.5h0M585.4 697.9h0M582.1 701.6h0M584.4 693.7h0M590.4 701.8h0M579.9 696.8h0M583.8 701.6h0M581.6 703.0h0M596.0 687.2h0M582.5 696.7h0M583.1 697.8h0M581.4 698.9h0M595.8 696.3h0M578.9 695.9h0M583.7 705.5h0M582.6 704.9h0M582.1 695.6h0M579.7 702.3h0M577.2 696.3h0M592.3 691.6h0M592.0 699.6h0M583.5 703.6h0M597.9 714.6h0M593.9 719.5h0M598.3 721.0h0M593.0 699.1h0M597.9 701.6h0M600.4 703.8h0M591.9 708.2h0M582.7 712.7h0M581.2 726.0h0M581.1 716.0h0M583.8 716.5h0M579.5 721.7h0M579.8 695.9h0M579.5 697.2h0M578.3 694.9h0M574.1 695.9h0M575.2 696.8h0M576.6 697.0h0M575.4 695.6h0M574.2 700.2h0M575.7 699.3h0M597.5 727.5h0M597.8 748.8h0M599.7 752.0h0M599.1 755.3h0M598.8 750.7h0M593.7 739.6h0M592.2 739.0h0M596.4 743.4h0M593.3 745.7h0M596.0 744.6h0M613.9 743.2h0M613.6 744.0h0M614.0 746.3h0M612.9 745.6h0M614.1 741.8h0M615.1 745.1h0M615.2 742.4h0M614.7 743.1h0M612.9 743.5h0M614.9 746.6h0M614.0 744.8h0M613.3 742.4h0" stroke="#d4d3d8"/><path d="M550.1 699.2h0M558.1 733.4h0M558.4 704.8h0M566.1 697.1h0M549.9 717.1h0M565.3 740.5h0M566.8 734.6h0M564.2 730.4h0M576.7 726.0h0M553.4 719.6h0M573.6 728.6h0M569.8 741.0h0M573.0 711.6h0M555.9 723.0h0M545.3 711.4h0M571.1 721.0h0M574.3 725.2h0M572.8 739.4h0M571.0 715.1h0M564.2 732.7h0M568.7 728.6h0M572.6 718.4h0M579.0 722.4h0M560.0 735.9h0M562.7 727.5h0M577.1 698.2h0M581.9 694.6h0" stroke="#cfccd7"/><path d="M554.8 708.0h0M571.0 700.2h0M545.4 719.5h0M576.8 712.7h0M553.6 700.9h0M545.3 706.0h0M562.4 710.8h0M566.0 717.5h0M569.9 709.4h0M583.5 695.8h0M585.0 723.3h0M580.1 718.9h0M578.1 697.4h0" stroke="#cbc5d7"/><path d="M565.9 700.8h0M567.8 709.7h0M563.7 698.4h0M547.9 712.4h0M561.2 699.9h0M562.1 715.4h0M560.0 733.6h0M580.1 705.9h0M578.5 700.4h0M581.0 701.4h0M582.8 694.1h0M580.2 699.6h0" stroke="#c6bed6"/><path d="M554.0 701.9h0M555.1 722.6h0M557.0 704.1h0M569.3 698.8h0M566.3 702.1h0M567.2 741.9h0M585.3 705.5h0M584.5 726.1h0" stroke="#c1b7d5"/><path d="M561.5 717.8h0M575.1 719.3h0M577.4 720.2h0M583.4 719.9h0M579.3 698.6h0" stroke="#bdb0d5"/><path d="M577.9 723.2h0M574.7 729.7h0M547.7 705.5h0M571.2 740.4h0M595.1 751.3h0" stroke="#b8a9d4"/><path d="M573.3 721.7h0M573.5 731.5h0M581.7 696.6h0M578.9 713.2h0M581.8 723.1h0M577.4 698.7h0M592.7 743.9h0" stroke="#b09ecf"/><path d="M559.8 711.7h0M588.7 694.6h0M582.8 701.2h0M595.7 708.3h0M598.3 710.4h0M597.7 752.3h0" stroke="#a794ca"/><path d="M570.6 717.2h0M561.6 705.7h0M581.3 695.3h0M580.2 703.3h0M591.6 690.3h0M599.0 735.6h0" stroke="#9f8ac5"/><path d="M596.6 693.2h0M598.2 715.8h0M591.4 714.3h0M598.7 697.7h0M598.6 709.4h0M597.2 708.2h0M595.9 747.0h0M595.9 749.4h0M596.6 745.2h0M594.7 742.6h0" stroke="#977fc0"/><path d="M579.6 695.2h0M589.6 689.2h0M592.2 699.9h0M600.2 706.2h0M596.3 730.1h0M596.6 748.4h0M593.1 740.4h0M595.0 749.7h0M599.1 748.0h0M598.3 745.4h0" stroke="#8e74bb"/><path d="M590.3 693.8h0M594.5 689.2h0M594.3 699.0h0M593.2 687.5h0M585.8 691.5h0M593.2 700.0h0M600.1 711.0h0M599.9 718.7h0M593.6 705.9h0M595.5 700.5h0M602.0 715.1h0M597.7 743.7h0M591.3 740.6h0M594.2 740.5h0M596.7 742.5h0" stroke="#866ab6"/><path d="M596.0 688.5h0M587.2 693.5h0M586.4 703.7h0M588.2 691.3h0M592.6 715.1h0M593.1 716.5h0M594.9 698.8h0M593.6 707.3h0M596.0 718.4h0M594.6 702.6h0M599.4 721.4h0M601.1 716.0h0M597.2 704.6h0M596.0 697.5h0M591.7 710.8h0M599.8 725.4h0M595.1 740.9h0M595.8 750.6h0" stroke="#7d64b3"/><path d="M591.0 700.1h0M593.7 689.5h0M588.8 695.7h0M590.0 700.5h0M594.4 694.1h0M596.8 694.1h0M595.3 719.6h0M595.6 716.7h0M601.3 720.0h0M596.7 716.4h0M593.0 708.9h0M596.3 702.0h0M585.6 711.5h0M585.8 720.7h0M586.3 714.0h0M592.3 745.2h0M594.5 748.3h0M596.8 756.2h0" stroke="#755eaf"/><path d="M588.1 700.1h0M587.3 704.5h0M593.9 692.9h0M592.5 690.5h0M594.7 690.4h0M595.0 696.8h0M600.3 720.5h0M596.1 703.0h0M594.5 718.5h0M593.3 711.7h0M596.3 698.8h0M598.2 693.8h0M595.4 695.7h0M594.2 714.4h0M597.4 717.2h0M593.5 700.6h0M595.5 709.6h0M596.0 724.2h0M593.5 742.4h0M596.7 754.7h0M596.9 753.1h0M597.8 753.4h0" stroke="#6c58ac"/><path d="M594.4 685.3h0M589.8 699.6h0M592.9 698.4h0M588.0 695.4h0M588.9 699.0h0M590.3 690.6h0M589.7 695.8h0M599.7 700.0h0M597.9 699.2h0M602.1 717.8h0M596.4 717.3h0M601.6 710.5h0M599.1 700.9h0M598.8 695.1h0M600.1 712.1h0M596.8 703.7h0M586.1 717.6h0M594.6 746.4h0M598.7 756.5h0M597.1 751.3h0" stroke="#6353a9"/><path d="M594.8 697.4h0M595.5 685.9h0M590.9 698.7h0M586.3 700.7h0M592.0 689.0h0M594.1 691.5h0M592.3 692.8h0M596.9 690.7h0M593.2 692.1h0M599.4 712.8h0M601.1 705.9h0M600.1 707.7h0M594.5 721.0h0M597.4 719.8h0M592.7 703.6h0M600.2 708.8h0M591.1 713.5h0M596.5 714.0h0M598.8 718.3h0M596.7 701.1h0M593.5 697.0h0M594.4 706.8h0M594.8 709.1h0" stroke="#5b4da5"/><path d="M593.1 696.6h0M592.0 703.3h0M595.2 714.9h0M600.6 710.1h0M592.2 706.3h0M592.2 716.7h0M599.7 714.8h0M595.9 707.0h0M597.6 737.9h0M599.7 729.3h0M594.2 745.1h0M591.6 741.6h0" stroke="#5247a2"/><path d="M586.5 696.3h0M595.8 690.6h0M593.5 686.7h0M595.6 692.8h0M589.0 702.5h0M595.7 713.8h0M593.9 715.4h0M596.3 733.2h0M598.2 723.1h0M599.2 754.4h0" stroke="#4c48a3"/><path d="M588.8 697.5h0M592.7 695.8h0M600.3 714.1h0M602.4 713.4h0M600.2 715.7h0M598.8 732.5h0" stroke="#4549a3"/><path d="M591.0 693.0h0M597.5 707.0h0M599.4 698.6h0M597.1 721.6h0M595.0 711.2h0" stroke="#3f4aa4"/><path d="M595.9 705.3h0M597.6 695.2h0" stroke="#394aa5"/></g>
<path d="M538.4 681.7V763.1H623.7" fill="none" stroke="#444" stroke-width="0.9"/>
<text x="551.2" y="775.1" font-size="10.3" text-anchor="middle" >-5</text>
<text x="575.7" y="775.1" font-size="10.3" text-anchor="middle" >0</text>
<text x="600.2" y="775.1" font-size="10.3" text-anchor="middle" >5</text>
<text x="533.8" y="699.9" font-size="10.3" text-anchor="end" >2</text>
<text x="533.8" y="721.4" font-size="10.3" text-anchor="end" >0</text>
<text x="533.8" y="742.9" font-size="10.3" text-anchor="end" >-2</text>
<text x="533.8" y="764.4" font-size="10.3" text-anchor="end" >-4</text>
<path d="M551.2 763.1v2.6M575.7 763.1v2.6M600.2 763.1v2.6M538.4 696.2h-2.6M538.4 717.7h-2.6M538.4 739.2h-2.6M538.4 760.7h-2.6" stroke="#444" stroke-width="0.9"/>
<text x="581.1" y="789.6" font-size="12" text-anchor="middle" >UMAP_1</text>
<text x="0" y="0" font-size="12" text-anchor="middle" transform="translate(519.4,722.4) rotate(-90)">UMAP_2</text>
<text x="580.7" y="674.5" font-size="12" text-anchor="middle" >Tagln</text>
<rect x="636.2" y="697.6" width="10.5" height="55.4" fill="url(#cbg)"/>
<text x="650.7" y="756.6" font-size="10.3" text-anchor="start" >0</text>
<text x="650.7" y="745.1" font-size="10.3" text-anchor="start" >1</text>
<text x="650.7" y="733.5" font-size="10.3" text-anchor="start" >2</text>
<text x="650.7" y="722.0" font-size="10.3" text-anchor="start" >3</text>
<text x="650.7" y="710.4" font-size="10.3" text-anchor="start" >4</text>
<path d="M636.2 741.5h2M644.7 741.5h2M636.2 729.9h2M644.7 729.9h2M636.2 718.4h2M644.7 718.4h2M636.2 706.8h2M644.7 706.8h2" stroke="#fff" stroke-width="0.7" opacity="0.8"/>
<g stroke-width="2.0" stroke-linecap="round"><path d="M733.7 722.1h0M715.4 731.5h0M713.6 723.3h0M727.2 696.3h0M722.6 733.1h0M729.8 735.4h0M734.9 737.7h0M723.0 703.3h0M727.8 708.6h0M707.6 718.5h0M723.0 702.1h0M717.5 715.7h0M734.4 726.5h0M729.2 737.8h0M729.0 730.4h0M736.5 712.5h0M709.1 703.4h0M725.2 738.1h0M711.3 699.3h0M724.6 736.4h0M736.9 713.5h0M725.2 726.7h0M719.4 733.5h0M721.5 718.2h0M720.0 719.4h0M726.0 711.4h0M732.5 700.3h0M719.7 704.9h0M704.7 714.2h0M733.5 719.9h0M731.0 734.1h0M711.5 727.3h0M739.2 716.9h0M716.8 731.9h0M739.4 723.3h0M740.4 719.8h0M723.5 700.9h0M731.6 716.5h0M723.4 698.2h0M713.5 705.4h0M729.2 709.8h0M716.5 725.6h0M712.1 700.0h0M735.3 739.7h0M726.5 721.6h0M726.2 712.6h0M721.4 714.2h0M727.7 736.2h0M732.4 704.9h0M736.6 719.4h0M711.1 717.2h0M705.6 716.1h0M710.3 711.7h0M738.9 718.6h0M734.2 712.7h0M726.8 735.8h0M716.7 729.6h0M708.4 714.3h0M733.7 729.8h0M709.0 707.3h0M736.8 735.5h0M725.4 713.7h0M726.7 740.6h0M734.6 705.5h0M716.3 709.5h0M725.0 698.5h0M718.2 732.8h0M721.1 712.7h0M709.1 712.5h0M717.9 718.6h0M716.4 722.7h0M707.2 708.0h0M725.6 730.5h0M737.7 732.0h0M715.5 704.0h0M707.8 709.3h0M729.1 726.9h0M706.6 719.6h0M732.2 735.9h0M714.0 718.8h0M731.9 700.9h0M732.3 707.8h0M730.9 723.3h0M724.2 726.1h0M724.4 709.6h0M718.3 704.2h0M730.5 704.4h0M725.4 723.2h0M713.3 725.8h0M736.0 721.3h0M714.6 719.7h0M727.4 718.7h0M718.8 706.1h0M736.5 736.4h0M711.9 720.2h0M722.6 700.0h0M712.9 722.3h0M734.8 707.6h0M730.4 703.2h0M729.4 708.9h0M732.2 737.1h0M738.2 715.8h0M709.9 719.8h0M725.5 705.5h0M714.6 705.6h0M730.2 713.4h0M719.5 711.0h0M735.1 728.7h0M724.6 707.2h0M706.6 709.2h0M730.8 719.4h0M726.1 734.3h0M711.4 701.8h0M711.5 722.8h0M731.9 710.3h0M734.5 711.7h0M727.9 725.2h0M722.8 728.6h0M735.4 706.4h0M720.7 710.0h0M736.0 716.6h0M729.2 716.4h0M717.2 723.1h0M717.9 716.5h0M736.9 720.8h0M729.5 741.7h0M736.2 729.8h0M722.5 735.5h0M734.8 721.8h0M732.6 722.6h0M730.3 707.1h0M734.4 723.3h0M706.5 711.5h0M713.3 713.4h0M718.1 713.7h0M713.7 721.7h0M723.6 714.0h0M714.9 730.2h0M719.8 707.1h0M732.6 721.1h0M731.9 728.3h0M720.5 713.6h0M711.0 714.7h0M719.2 724.6h0M739.4 715.2h0M704.9 709.4h0M729.8 724.5h0M735.7 707.9h0M715.4 723.1h0M737.4 711.6h0M735.7 725.3h0M734.3 739.5h0M724.5 703.4h0M732.5 715.2h0M715.7 714.2h0M715.0 707.8h0M730.0 726.1h0M731.2 731.5h0M721.5 702.7h0M720.8 731.0h0M721.4 734.7h0M731.5 699.6h0M714.3 717.0h0M721.7 705.4h0M706.6 715.8h0M717.8 707.7h0M707.2 717.2h0M728.1 729.3h0M725.7 721.0h0M719.1 731.9h0M729.6 717.6h0M708.1 704.8h0M710.5 721.2h0M723.6 708.4h0M733.1 744.7h0M732.1 725.2h0M734.2 724.9h0M738.9 725.2h0M721.6 723.1h0M732.1 717.3h0M729.0 705.6h0M725.6 732.8h0M723.5 715.5h0M705.5 718.1h0M720.3 735.2h0M727.6 740.3h0M709.9 700.6h0M707.4 705.9h0M713.2 702.4h0M719.1 729.9h0M730.5 720.4h0M738.9 720.3h0M722.8 723.7h0M719.3 704.0h0M720.0 712.6h0M718.3 720.4h0M715.1 712.8h0M739.7 720.9h0M714.8 709.6h0M716.5 715.5h0M734.0 718.5h0M718.2 728.0h0M728.9 697.6h0M734.0 736.5h0M708.9 705.6h0M725.8 724.4h0M718.9 722.4h0M730.8 730.0h0M737.3 725.8h0M729.1 740.6h0M707.4 721.9h0M726.1 729.5h0M733.9 717.5h0M709.3 718.5h0M727.5 724.1h0M731.2 732.6h0M733.0 736.6h0M727.8 709.7h0M714.7 699.8h0M715.9 710.9h0M706.9 720.7h0M715.5 715.5h0M716.3 717.1h0M715.1 706.8h0M714.9 701.0h0M715.2 718.1h0M731.7 702.9h0M740.6 722.5h0M732.6 740.5h0M730.6 735.6h0M714.0 729.2h0M736.7 715.7h0M725.9 698.2h0M713.9 717.8h0M707.3 710.0h0M731.1 738.5h0M724.9 719.5h0M717.6 729.1h0M719.3 718.2h0M730.8 698.9h0M721.2 719.4h0M719.5 727.2h0M722.4 731.4h0M737.5 727.5h0M727.7 702.2h0M706.4 706.1h0M716.1 712.7h0M707.3 712.5h0M725.5 714.7h0M727.2 699.6h0M732.7 732.4h0M716.1 721.1h0M718.4 711.8h0M712.3 726.2h0M717.6 706.1h0M709.4 716.6h0M733.7 733.7h0M721.4 736.0h0M719.1 708.4h0M721.3 733.7h0M734.6 709.2h0M734.9 730.6h0M729.3 696.6h0M723.0 705.8h0M735.7 713.3h0M728.3 722.5h0M713.7 706.6h0M722.3 718.8h0M721.1 711.8h0M717.1 727.7h0M735.7 714.4h0M728.6 742.0h0M720.4 732.1h0M724.2 734.3h0M737.0 730.5h0M733.7 702.6h0M729.2 731.9h0M727.4 717.6h0M712.4 702.0h0M732.3 719.9h0M730.0 732.7h0M732.9 738.9h0M727.9 703.8h0M713.3 710.3h0M725.5 731.8h0M714.0 727.3h0M724.1 727.6h0M712.7 719.8h0M720.8 703.7h0M748.1 696.4h0M740.0 700.5h0M751.9 693.9h0M738.7 698.3h0M752.0 701.9h0M741.4 696.9h0M743.1 703.1h0M751.4 699.7h0M755.8 691.6h0M744.6 697.9h0M741.7 699.7h0M743.2 696.7h0M740.4 696.0h0M745.3 705.6h0M747.4 691.6h0M754.6 698.5h0M749.6 695.5h0M743.6 695.7h0M750.6 702.6h0M751.7 700.6h0M738.8 696.4h0M745.1 703.7h0M761.4 700.1h0M761.6 718.8h0M759.2 707.1h0M758.1 717.4h0M762.1 703.9h0M758.3 714.1h0M754.7 709.0h0M759.0 708.3h0M743.4 723.2h0M746.6 723.4h0M741.7 719.0h0M745.4 716.6h0M747.4 720.8h0M741.4 696.0h0M741.0 697.3h0M739.8 695.0h0M739.7 697.5h0M740.8 698.7h0M735.7 700.3h0M757.7 724.3h0M755.9 745.2h0M759.5 753.5h0M775.8 743.3h0M775.4 744.1h0M775.9 746.4h0M774.8 745.7h0M776.0 741.9h0M777.0 745.2h0M777.1 742.5h0M776.6 743.2h0M774.8 743.6h0M776.8 746.7h0M775.9 744.9h0M775.2 742.5h0" stroke="#d4d3d8"/><path d="M715.3 702.0h0M726.6 713.7h0M716.1 708.1h0M727.5 697.2h0M728.6 714.0h0M732.9 725.7h0M718.2 724.5h0M721.5 725.0h0M731.2 741.1h0M731.7 726.5h0M724.8 712.4h0M728.7 715.6h0M723.0 737.1h0M720.4 715.5h0M739.2 726.8h0M719.3 713.6h0M733.8 704.8h0M735.7 711.5h0M730.8 737.5h0M747.9 714.1h0" stroke="#cfccd7"/><path d="M722.8 717.9h0M727.5 719.8h0M714.1 701.7h0M720.5 733.4h0M732.6 742.0h0M709.0 722.3h0M716.9 714.6h0M728.5 702.8h0" stroke="#cbc5d7"/><path d="M725.0 717.7h0M730.2 738.9h0M708.8 701.5h0M729.8 705.1h0M729.9 723.3h0M720.5 727.8h0M717.6 704.8h0M735.6 696.0h0" stroke="#c6bed6"/><path d="M732.9 734.2h0M718.1 710.1h0M727.1 707.3h0M730.5 721.8h0M730.2 728.7h0M729.0 719.7h0M735.0 731.6h0M731.3 709.5h0M744.3 694.2h0M748.0 703.8h0M744.4 701.3h0M747.7 717.7h0" stroke="#c1b7d5"/><path d="M727.3 700.9h0M725.3 708.0h0M733.1 723.6h0M746.1 692.6h0M744.3 712.8h0M740.5 713.3h0" stroke="#bdb0d5"/><path d="M717.3 719.6h0M734.2 738.5h0M728.2 734.7h0M730.8 695.9h0M723.8 710.9h0M727.8 711.7h0M743.6 701.7h0M745.3 701.7h0M747.9 700.8h0M742.8 695.4h0M743.4 694.7h0M744.2 705.0h0M741.2 702.4h0M742.6 716.1h0M744.9 720.0h0M738.1 697.1h0M759.2 727.6h0" stroke="#b8a9d4"/><path d="M731.2 739.7h0M741.1 721.8h0" stroke="#b09ecf"/><path d="M738.2 726.1h0M730.2 699.9h0M741.1 695.3h0M741.7 703.4h0M742.8 726.1h0M738.9 698.8h0M736.7 696.9h0" stroke="#a794ca"/><path d="M721.4 707.9h0M738.3 712.8h0M731.4 711.7h0M726.8 702.1h0M710.5 718.6h0M741.6 706.0h0M745.9 693.8h0M744.1 696.8h0M747.2 711.6h0M736.9 695.7h0M737.2 699.4h0M759.4 752.4h0" stroke="#9f8ac5"/><path d="M736.5 728.3h0M742.5 701.5h0M746.9 705.6h0M743.0 699.0h0M758.4 701.2h0M760.3 709.5h0M746.0 726.2h0" stroke="#977fc0"/><path d="M715.8 729.8h0M747.0 698.0h0M757.3 716.8h0M756.8 751.4h0M753.9 739.1h0M758.3 745.3h0" stroke="#8e74bb"/><path d="M754.8 716.6h0M757.2 700.6h0M760.6 732.6h0M759.3 738.0h0M753.9 745.3h0M759.6 748.9h0M755.9 740.6h0" stroke="#866ab6"/><path d="M745.1 695.9h0M756.1 685.4h0M757.5 690.7h0M757.3 692.9h0M758.6 690.8h0M759.7 699.3h0M756.9 715.0h0M753.8 706.4h0M753.9 716.8h0M757.6 705.4h0M758.0 730.2h0M758.1 733.3h0M761.5 752.1h0M760.6 750.8h0M756.2 748.4h0M760.9 754.5h0M752.9 740.7h0" stroke="#7d64b3"/><path d="M758.3 693.3h0M753.6 689.1h0M755.3 689.6h0M750.4 697.6h0M754.9 692.2h0M754.4 695.9h0M751.9 690.7h0M753.6 703.4h0M756.6 698.9h0M756.2 721.1h0M759.9 693.9h0M755.2 697.1h0M757.6 749.5h0M756.8 741.0h0" stroke="#755eaf"/><path d="M748.8 693.6h0M750.6 699.1h0M753.2 690.4h0M758.5 694.2h0M757.0 719.7h0M759.9 715.9h0M759.6 701.7h0M753.1 714.4h0M755.9 714.5h0M761.5 714.9h0M756.5 709.2h0M761.4 729.4h0M758.4 742.6h0M757.7 744.7h0" stroke="#6c58ac"/><path d="M754.8 696.7h0M757.3 686.0h0M752.7 700.2h0M749.9 691.4h0M753.9 691.7h0M755.5 719.6h0M762.3 710.2h0M757.8 703.1h0M754.4 703.7h0M759.4 695.3h0M760.1 710.5h0M758.8 721.7h0M757.4 713.9h0M755.2 700.7h0M762.9 716.1h0M759.0 704.7h0M757.2 709.7h0M760.7 735.7h0M755.2 742.5h0M758.3 748.5h0M756.3 746.5h0M758.6 753.2h0M754.4 744.0h0M760.4 756.6h0M758.5 756.3h0" stroke="#6353a9"/><path d="M757.7 688.6h0M750.3 694.7h0M756.4 690.5h0M756.7 696.9h0M762.8 706.0h0M754.3 715.2h0M761.9 707.8h0M755.3 706.0h0M762.0 720.6h0M763.1 720.1h0M759.1 719.9h0M753.8 700.0h0M756.2 718.6h0M755.0 711.8h0M761.1 721.5h0M758.0 702.1h0M756.1 706.9h0M758.5 703.8h0M755.4 739.7h0M759.4 743.8h0M760.8 748.1h0M757.5 750.7h0M758.8 751.4h0" stroke="#5b4da5"/><path d="M756.5 697.5h0M756.0 699.1h0M755.6 693.0h0M753.9 692.9h0M757.5 696.4h0M755.2 686.8h0M750.4 695.8h0M751.3 689.3h0M751.3 695.9h0M761.9 711.1h0M762.1 714.2h0M754.6 699.2h0M761.8 712.2h0M762.0 715.8h0M758.0 698.9h0M759.1 717.3h0M760.4 697.8h0M757.6 707.1h0M761.5 725.5h0M760.0 723.2h0M758.4 754.8h0M760.8 755.4h0M753.2 741.7h0M756.7 749.8h0M760.0 745.5h0" stroke="#5247a2"/><path d="M756.2 689.3h0M749.7 700.2h0M757.7 687.3h0M749.0 704.6h0M759.7 714.7h0M763.9 717.9h0M763.4 710.6h0M764.2 713.5h0M757.7 718.5h0M762.0 706.3h0M757.4 708.4h0M757.1 695.8h0M757.6 747.1h0M754.8 740.5h0M758.1 743.5h0M755.0 745.8h0M756.4 742.7h0" stroke="#4c48a3"/><path d="M752.5 698.8h0M756.1 694.2h0M761.2 712.9h0M760.0 721.1h0M760.5 695.2h0M761.2 698.7h0M762.0 708.9h0M752.8 713.6h0M756.7 711.3h0" stroke="#4549a3"/><path d="M754.1 690.6h0M754.9 700.1h0M753.7 699.7h0M755.3 707.4h0M758.4 716.5h0M760.5 718.4h0M753.4 710.9h0" stroke="#3f4aa4"/><path d="M755.6 715.5h0" stroke="#394aa5"/><path d="M752.7 693.1h0M760.8 701.0h0M753.5 708.3h0M756.3 702.7h0M763.7 715.2h0" stroke="#324ba5"/><path d="M754.9 687.6h0M757.7 697.6h0" stroke="#2c4ca6"/></g>
<path d="M699.5 681.8V763.6H785.7" fill="none" stroke="#444" stroke-width="0.9"/>
<text x="712.5" y="775.6" font-size="10.3" text-anchor="middle" >-5</text>
<text x="737.2" y="775.6" font-size="10.3" text-anchor="middle" >0</text>
<text x="762.0" y="775.6" font-size="10.3" text-anchor="middle" >5</text>
<text x="694.9" y="700.0" font-size="10.3" text-anchor="end" >2</text>
<text x="694.9" y="721.5" font-size="10.3" text-anchor="end" >0</text>
<text x="694.9" y="743.0" font-size="10.3" text-anchor="end" >-2</text>
<text x="694.9" y="764.5" font-size="10.3" text-anchor="end" >-4</text>
<path d="M712.5 763.6v2.6M737.2 763.6v2.6M762.0 763.6v2.6M699.5 696.3h-2.6M699.5 717.8h-2.6M699.5 739.3h-2.6M699.5 760.8h-2.6" stroke="#444" stroke-width="0.9"/>
<text x="742.6" y="790.1" font-size="12" text-anchor="middle" >UMAP_1</text>
<text x="0" y="0" font-size="12" text-anchor="middle" transform="translate(680.5,722.7) rotate(-90)">UMAP_2</text>
<text x="741.8" y="674.4" font-size="12" text-anchor="middle" >Acta2</text>
<rect x="797.4" y="697.8" width="10.2" height="55.6" fill="url(#cbg)"/>
<text x="811.6" y="757.0" font-size="10.3" text-anchor="start" >0</text>
<text x="811.6" y="745.4" font-size="10.3" text-anchor="start" >1</text>
<text x="811.6" y="733.8" font-size="10.3" text-anchor="start" >2</text>
<text x="811.6" y="722.2" font-size="10.3" text-anchor="start" >3</text>
<text x="811.6" y="710.7" font-size="10.3" text-anchor="start" >4</text>
<path d="M797.4 741.8h2M805.6 741.8h2M797.4 730.2h2M805.6 730.2h2M797.4 718.6h2M805.6 718.6h2M797.4 707.1h2M805.6 707.1h2" stroke="#fff" stroke-width="0.7" opacity="0.8"/>
<g stroke-width="2.0" stroke-linecap="round"><path d="M885.7 734.2h0M868.0 702.0h0M886.5 722.1h0M868.1 731.5h0M875.6 717.9h0M880.0 696.3h0M880.3 719.8h0M875.3 733.1h0M887.8 737.7h0M866.7 701.7h0M875.8 703.3h0M880.6 708.6h0M860.2 718.5h0M875.7 702.1h0M870.2 715.7h0M887.2 726.5h0M879.3 713.7h0M882.0 737.8h0M873.2 733.4h0M881.8 730.4h0M889.4 712.5h0M861.7 703.4h0M878.0 738.1h0M863.9 699.3h0M877.4 736.4h0M889.8 713.5h0M878.0 726.7h0M872.1 733.5h0M874.2 718.2h0M868.8 708.1h0M889.3 728.3h0M878.8 711.4h0M870.0 719.6h0M885.3 700.3h0M887.0 738.5h0M872.4 704.9h0M886.4 719.9h0M883.9 734.1h0M864.2 727.3h0M892.2 716.9h0M869.5 731.9h0M892.3 723.3h0M893.4 719.8h0M876.2 700.9h0M884.5 716.5h0M876.2 698.2h0M866.1 705.4h0M882.0 709.8h0M880.3 697.2h0M864.7 700.0h0M879.3 721.6h0M879.0 712.6h0M874.1 714.2h0M880.5 736.2h0M884.0 739.7h0M889.5 719.4h0M863.8 717.2h0M863.0 711.7h0M891.8 718.6h0M887.1 712.7h0M879.6 735.8h0M869.4 729.6h0M861.6 707.3h0M889.7 735.5h0M878.2 713.7h0M879.5 740.6h0M881.4 714.0h0M887.5 705.5h0M869.0 709.5h0M877.8 698.5h0M870.9 732.8h0M873.8 712.7h0M861.7 712.5h0M870.6 718.6h0M869.1 722.7h0M859.8 708.0h0M878.4 730.5h0M890.6 732.0h0M868.2 704.0h0M870.8 710.1h0M860.4 709.3h0M881.9 726.9h0M859.1 719.6h0M885.0 735.9h0M866.7 718.8h0M883.7 695.9h0M885.8 725.7h0M885.1 707.8h0M870.9 724.5h0M877.0 726.1h0M877.2 709.6h0M891.1 726.1h0M883.4 704.4h0M885.5 742.0h0M868.5 729.8h0M866.0 725.8h0M867.3 719.7h0M880.2 718.7h0M871.5 706.1h0M889.4 736.4h0M864.5 720.2h0M875.3 700.0h0M865.6 722.3h0M887.7 707.6h0M883.2 703.2h0M882.2 708.9h0M885.0 737.1h0M891.1 715.8h0M862.5 719.8h0M878.2 705.5h0M867.3 705.6h0M883.0 713.4h0M872.3 711.0h0M877.4 707.2h0M859.2 709.2h0M874.3 725.0h0M883.7 719.4h0M884.0 741.1h0M877.8 717.7h0M878.9 734.3h0M864.1 701.8h0M864.1 722.8h0M884.8 710.3h0M887.3 711.7h0M880.7 725.2h0M884.5 726.5h0M874.2 707.9h0M875.6 728.6h0M873.5 710.0h0M888.9 716.6h0M877.6 712.4h0M882.1 716.4h0M869.9 723.1h0M870.6 716.5h0M889.8 720.8h0M882.4 741.7h0M889.1 729.8h0M875.2 735.5h0M887.7 721.8h0M883.1 707.1h0M887.3 723.3h0M859.1 711.5h0M870.8 713.7h0M866.4 721.7h0M876.3 714.0h0M872.5 707.1h0M885.4 721.1h0M891.2 712.8h0M879.9 707.3h0M884.8 728.3h0M873.2 713.6h0M863.6 714.7h0M871.9 724.6h0M881.5 715.6h0M892.3 715.2h0M857.4 709.4h0M882.7 724.5h0M868.1 723.1h0M888.6 725.3h0M883.0 738.9h0M887.2 739.5h0M877.3 703.4h0M885.3 715.2h0M868.4 714.2h0M882.8 726.1h0M874.3 702.7h0M873.5 731.0h0M874.1 734.7h0M884.3 699.6h0M866.9 717.0h0M859.2 715.8h0M859.8 717.2h0M880.9 729.3h0M878.5 721.0h0M871.8 731.9h0M860.7 704.8h0M863.1 721.2h0M885.9 744.7h0M875.7 737.1h0M861.6 722.3h0M873.1 715.5h0M884.3 711.7h0M887.1 724.9h0M892.1 726.8h0M891.9 725.2h0M874.3 723.1h0M884.9 717.3h0M876.2 715.5h0M883.0 728.7h0M858.1 718.1h0M862.6 700.6h0M860.0 705.9h0M882.6 705.1h0M865.9 702.4h0M871.8 729.9h0M883.4 720.4h0M891.8 720.3h0M875.6 723.7h0M872.0 704.0h0M871.0 720.4h0M867.8 712.8h0M892.6 720.9h0M867.5 709.6h0M869.2 715.5h0M886.9 718.5h0M870.9 728.0h0M881.8 697.6h0M886.9 736.5h0M861.5 705.6h0M878.5 724.4h0M871.7 722.4h0M883.6 730.0h0M881.9 740.6h0M860.0 721.9h0M878.9 729.5h0M886.8 717.5h0M861.9 718.5h0M880.3 724.1h0M884.1 732.6h0M885.9 736.6h0M880.6 709.7h0M867.4 699.8h0M868.6 710.9h0M859.5 720.7h0M868.1 715.5h0M869.0 717.1h0M867.7 706.8h0M867.8 718.1h0M884.5 702.9h0M893.5 722.5h0M885.5 740.5h0M883.5 735.6h0M866.7 729.2h0M889.6 715.7h0M872.0 713.6h0M866.5 717.8h0M859.9 710.0h0M883.9 738.5h0M872.1 718.2h0M883.6 698.9h0M873.9 719.4h0M872.2 727.2h0M869.6 714.6h0M890.5 727.5h0M880.5 702.2h0M859.0 706.1h0M878.3 714.7h0M880.0 699.6h0M868.8 721.1h0M880.6 711.7h0M871.1 711.8h0M865.0 726.2h0M870.3 706.1h0M862.0 716.6h0M879.6 702.1h0M882.8 723.3h0M886.5 733.7h0M874.1 736.0h0M871.8 708.4h0M886.7 704.8h0M887.5 709.2h0M887.8 730.6h0M881.9 719.7h0M888.6 711.5h0M882.2 696.6h0M873.2 727.8h0M881.1 722.5h0M866.3 706.6h0M875.0 718.8h0M873.8 711.8h0M869.8 727.7h0M888.5 714.4h0M881.4 742.0h0M870.3 704.8h0M873.1 732.1h0M877.0 734.3h0M881.3 702.8h0M886.6 702.6h0M882.0 731.9h0M887.9 731.6h0M880.2 717.6h0M865.1 702.0h0M885.2 719.9h0M880.7 703.8h0M863.2 718.6h0M866.0 710.3h0M878.3 731.8h0M866.6 727.3h0M885.9 723.6h0M876.8 727.6h0M865.3 719.8h0M873.5 703.7h0M894.6 706.0h0M899.1 692.6h0M907.9 696.7h0M900.0 698.0h0M893.0 700.5h0M895.5 701.5h0M894.0 695.3h0M898.1 695.9h0M905.0 693.9h0M910.8 688.6h0M899.9 705.6h0M905.6 698.8h0M905.1 701.9h0M902.7 700.2h0M903.3 694.7h0M905.7 700.2h0M898.3 701.7h0M910.8 687.3h0M900.9 700.8h0M897.3 694.2h0M906.7 689.1h0M895.8 695.4h0M910.6 690.7h0M897.1 696.8h0M909.1 699.1h0M904.5 699.7h0M902.0 704.6h0M907.9 687.6h0M896.2 696.7h0M910.6 696.4h0M907.2 690.6h0M908.3 686.8h0M893.3 696.0h0M898.2 705.6h0M910.4 692.9h0M903.5 695.8h0M908.0 700.1h0M902.9 691.4h0M911.7 690.8h0M902.6 695.5h0M905.7 693.1h0M903.6 699.1h0M894.1 702.4h0M908.0 692.2h0M907.5 695.9h0M905.0 690.7h0M903.7 702.6h0M904.7 700.6h0M891.7 696.4h0M907.0 691.7h0M904.4 695.9h0M909.5 690.5h0M906.7 699.7h0M898.1 703.7h0M912.8 714.7h0M911.6 694.2h0M909.8 696.9h0M908.4 706.0h0M910.9 703.1h0M906.9 700.0h0M914.3 698.7h0M910.3 700.6h0M911.1 698.9h0M913.1 693.9h0M912.5 695.3h0M908.3 697.1h0M911.9 721.7h0M910.5 713.9h0M913.5 697.8h0M911.2 702.1h0M908.3 700.7h0M909.2 706.9h0M910.8 697.6h0M909.6 709.2h0M897.2 712.8h0M895.7 726.1h0M893.4 713.3h0M896.3 723.2h0M894.6 719.0h0M895.6 716.1h0M898.4 716.6h0M899.0 726.2h0M900.9 714.1h0M897.9 720.0h0M894.0 721.8h0M891.8 698.8h0M894.0 697.3h0M892.8 695.0h0M888.5 696.0h0M889.6 696.9h0M892.6 697.5h0M889.8 695.7h0M893.8 698.7h0M888.6 700.3h0M914.7 725.5h0M910.8 724.3h0M913.7 732.6h0M911.2 733.3h0M913.1 723.2h0M908.2 742.5h0M912.7 748.9h0M911.5 754.8h0M911.4 748.5h0M912.5 743.8h0M907.9 740.5h0M909.9 741.0h0M911.2 743.5h0M907.5 744.0h0M909.8 749.8h0M913.5 756.6h0M908.0 745.8h0M911.4 745.3h0M909.5 742.7h0M910.6 750.7h0M910.8 744.7h0M912.6 753.5h0M929.1 743.3h0M928.7 744.1h0M929.2 746.4h0M928.1 745.7h0M929.3 741.9h0M930.3 745.2h0M930.4 742.5h0M929.9 743.2h0M928.1 743.6h0M930.1 746.7h0M929.2 744.9h0M928.5 742.5h0" stroke="#d4d3d8"/><path d="M866.3 723.3h0M869.2 725.6h0M861.0 714.3h0M881.1 734.7h0M871.0 704.2h0M878.2 723.2h0M887.9 728.7h0M861.4 701.5h0M874.5 705.4h0M870.5 707.7h0M878.1 708.0h0M884.9 725.2h0M883.4 721.8h0M881.8 705.6h0M867.6 701.0h0M859.9 712.5h0M874.0 733.7h0M883.7 737.5h0M884.2 709.5h0M901.1 696.4h0M909.6 697.5h0M909.3 689.3h0M896.1 703.1h0M908.4 689.6h0M894.7 699.7h0M895.9 699.0h0M908.7 693.0h0M901.0 703.8h0M904.3 689.3h0M896.6 695.7h0M912.8 699.3h0M909.7 698.9h0M894.3 696.0h0M909.9 751.4h0M910.7 749.5h0" stroke="#cfccd7"/><path d="M872.7 719.4h0M857.3 714.2h0M885.3 704.9h0M886.5 729.8h0M867.7 707.8h0M878.7 698.2h0M883.0 699.9h0M889.9 730.5h0M898.9 693.8h0M910.4 686.0h0M901.9 693.6h0M907.0 692.9h0M907.7 698.5h0M897.2 705.0h0M897.4 701.3h0M907.9 716.6h0M891.0 697.1h0M890.1 699.4h0" stroke="#cbc5d7"/><path d="M888.9 721.3h0M888.3 706.4h0M884.0 731.5h0M876.3 708.4h0M875.2 731.4h0M896.6 701.7h0M891.6 698.3h0M894.3 696.9h0M913.7 695.2h0M900.2 711.6h0M900.4 720.8h0M911.1 730.2h0M911.8 753.2h0M909.0 740.6h0M911.5 742.6h0" stroke="#c6bed6"/><path d="M883.7 723.3h0M888.6 707.9h0M882.4 717.6h0M880.4 740.3h0M882.9 732.7h0M909.2 685.4h0M908.8 691.6h0M900.4 691.6h0M906.3 690.4h0M907.7 699.2h0M913.7 750.8h0" stroke="#c1b7d5"/><path d="M880.1 700.9h0M882.6 735.4h0M885.4 722.6h0M867.5 730.2h0M890.3 711.6h0M870.3 729.1h0M868.8 712.7h0M888.6 713.3h0M896.4 694.7h0M911.5 701.2h0M900.7 717.7h0M909.4 746.5h0M908.5 739.7h0M914.0 748.1h0" stroke="#bdb0d5"/><path d="M888.1 739.7h0M873.0 735.2h0M872.8 712.6h0M875.8 705.8h0M885.7 738.9h0M903.4 697.6h0M909.1 694.2h0M914.6 700.1h0M910.2 695.8h0M907.0 745.3h0M912.5 752.4h0" stroke="#b8a9d4"/><path d="M884.7 700.9h0M878.3 732.8h0M897.6 697.9h0M899.6 723.4h0M906.3 741.7h0M909.3 748.4h0M906.0 740.7h0M913.1 745.5h0" stroke="#b09ecf"/><path d="M858.2 716.1h0M865.9 713.4h0M885.6 732.4h0M876.6 710.9h0M912.4 727.6h0M914.0 755.4h0M907.0 739.1h0M914.0 754.5h0" stroke="#a794ca"/><path d="M877.7 719.5h0M911.4 693.3h0M894.6 703.4h0M916.0 706.0h0M913.0 715.9h0M914.0 701.0h0M912.1 704.7h0M913.8 735.7h0M910.7 747.1h0" stroke="#9f8ac5"/><path d="M890.2 725.8h0M907.4 715.2h0M912.3 707.1h0M912.4 738.0h0" stroke="#977fc0"/><path d="M914.6 729.4h0M909.0 745.2h0M914.6 752.1h0" stroke="#8e74bb"/><path d="M915.5 710.2h0M917.4 713.5h0M906.6 708.3h0M907.8 709.0h0M913.6 718.4h0M913.2 710.5h0" stroke="#866ab6"/><path d="M908.4 707.4h0M906.1 714.4h0M908.9 714.5h0M910.7 705.4h0M916.0 716.1h0M910.7 707.1h0M912.0 751.4h0" stroke="#7d64b3"/><path d="M914.3 712.9h0M915.3 714.2h0M915.3 703.9h0M909.3 718.6h0M905.8 713.6h0M916.9 715.2h0M911.6 703.8h0M911.6 756.3h0" stroke="#755eaf"/><path d="M915.0 711.1h0M915.0 707.8h0M917.1 717.9h0M916.6 710.6h0M910.0 715.0h0M906.9 706.4h0M907.0 716.8h0M910.4 716.8h0M912.3 719.9h0M915.1 706.3h0M911.4 714.1h0M911.5 716.5h0M912.2 717.3h0M914.6 714.9h0M913.5 709.5h0" stroke="#6c58ac"/><path d="M914.8 718.8h0M913.1 721.1h0M909.3 721.1h0M912.8 701.7h0M915.0 712.2h0M910.8 718.5h0M909.4 702.7h0M914.3 721.5h0" stroke="#6353a9"/><path d="M910.1 719.7h0M906.7 703.4h0M908.6 719.6h0M911.2 717.4h0M915.2 720.6h0M908.0 711.8h0M912.1 708.3h0" stroke="#5b4da5"/><path d="M916.2 720.1h0M908.7 715.5h0M909.8 711.3h0" stroke="#5247a2"/><path d="M915.1 708.9h0M910.3 709.7h0M906.4 710.9h0" stroke="#4c48a3"/><path d="M907.5 703.7h0" stroke="#3f4aa4"/><path d="M915.1 715.8h0" stroke="#394aa5"/><path d="M910.5 708.4h0" stroke="#324ba5"/></g>
<path d="M853.0 681.8V763.6H939.1" fill="none" stroke="#444" stroke-width="0.9"/>
<text x="865.1" y="775.6" font-size="10.3" text-anchor="middle" >-5</text>
<text x="890.1" y="775.6" font-size="10.3" text-anchor="middle" >0</text>
<text x="915.1" y="775.6" font-size="10.3" text-anchor="middle" >5</text>
<text x="848.4" y="700.0" font-size="10.3" text-anchor="end" >2</text>
<text x="848.4" y="721.5" font-size="10.3" text-anchor="end" >0</text>
<text x="848.4" y="743.0" font-size="10.3" text-anchor="end" >-2</text>
<text x="848.4" y="764.5" font-size="10.3" text-anchor="end" >-4</text>
<path d="M865.1 763.6v2.6M890.1 763.6v2.6M915.1 763.6v2.6M853.0 696.3h-2.6M853.0 717.8h-2.6M853.0 739.3h-2.6M853.0 760.8h-2.6" stroke="#444" stroke-width="0.9"/>
<text x="896.0" y="790.1" font-size="12" text-anchor="middle" >UMAP_1</text>
<text x="0" y="0" font-size="12" text-anchor="middle" transform="translate(834.0,722.7) rotate(-90)">UMAP_2</text>
<text x="895.6" y="674.4" font-size="12" text-anchor="middle" >Tgfb3</text>
<rect x="951" y="697.8" width="10.1" height="55.6" fill="url(#cbg)"/>
<text x="965.1" y="757.0" font-size="10.3" text-anchor="start" >0.0</text>
<text x="965.1" y="744.9" font-size="10.3" text-anchor="start" >0.5</text>
<text x="965.1" y="732.8" font-size="10.3" text-anchor="start" >1.0</text>
<text x="965.1" y="720.7" font-size="10.3" text-anchor="start" >1.5</text>
<text x="965.1" y="708.7" font-size="10.3" text-anchor="start" >2.0</text>
<path d="M951.0 741.3h2M959.1 741.3h2M951.0 729.2h2M959.1 729.2h2M951.0 717.1h2M959.1 717.1h2M951.0 705.1h2M959.1 705.1h2" stroke="#fff" stroke-width="0.7" opacity="0.8"/>
<g><path d="M93.9 97.4h0M96.1 137.1h0M97.5 154.2h0M65.6 90.6h0M118.8 97.4h0M109.7 89.2h0M118.1 113.0h0M93.6 116.7h0M90.0 150.2h0M109.4 77.3h0M109.1 111.2h0M102.6 99.1h0M114.1 127.8h0M110.2 129.3h0M99.8 135.1h0M95.6 109.8h0M113.5 114.3h0M114.4 91.3h0M103.0 108.4h0M106.2 97.6h0M98.5 147.3h0M113.4 76.8h0M96.8 105.1h0M96.0 140.6h0M103.6 117.1h0M92.4 102.3h0M100.4 143.9h0M114.6 100.9h0M118.0 160.0h0M107.8 137.8h0M116.2 121.8h0M114.1 86.2h0M95.6 164.2h0M103.8 134.3h0M109.4 115.5h0M109.0 132.6h0M112.1 108.1h0M102.3 122.5h0M102.1 131.9h0M108.8 84.5h0M97.7 126.1h0M93.2 143.8h0M120.4 94.6h0M113.9 96.2h0M108.3 92.8h0M99.6 129.5h0M100.4 155.1h0M97.3 88.4h0M104.6 129.9h0M96.8 122.7h0M101.0 125.2h0M86.6 134.0h0M74.4 107.6h0M96.3 156.7h0M104.9 138.7h0M97.4 82.7h0M102.2 149.0h0M99.9 139.0h0M96.0 132.1h0M100.0 91.1h0M110.7 80.5h0M95.6 114.0h0M101.7 85.3h0M100.2 111.6h0M116.4 125.3h0M107.0 90.2h0M100.3 104.4h0M97.2 160.9h0M107.6 74.6h0M108.1 122.9h0M99.0 172.0h0M103.8 94.3h0M113.2 82.5h0M92.3 160.6h0M109.9 126.5h0M114.8 109.6h0M89.8 157.9h0M98.7 99.6h0M98.0 118.9h0M105.0 182.0h0M95.0 125.2h0M99.2 157.6h0" stroke="#52aa52" stroke-width="3.0" stroke-linecap="round"/><path d="M148.5 66.9h0M147.6 91.1h0M169.2 74.5h0M142.2 100.6h0M155.6 93.1h0M170.7 65.1h0M152.3 95.9h0M157.0 81.7h0M149.0 94.4h0M149.9 75.9h0M169.0 52.8h0M145.4 89.1h0M165.4 72.3h0M170.5 70.7h0M162.6 80.7h0M165.6 52.4h0M174.9 65.5h0M130.5 86.3h0M139.7 94.8h0M134.7 97.2h0M169.9 62.0h0M160.0 86.3h0M133.8 83.8h0M144.3 95.7h0M165.6 62.4h0M159.5 65.2h0M149.6 88.8h0M174.6 60.1h0M155.3 89.8h0M159.8 82.7h0M173.3 71.3h0M148.9 81.1h0M143.1 69.3h0M133.7 93.3h0M162.3 64.0h0M149.4 103.2h0M128.4 79.6h0M137.2 73.2h0M170.7 52.4h0M132.1 88.6h0M166.9 57.6h0M167.3 66.8h0M142.6 73.7h0M156.1 85.8h0M164.2 68.7h0M160.9 68.8h0M167.3 82.1h0M148.3 70.3h0M173.0 66.7h0M173.0 82.1h0M154.8 63.8h0M174.5 70.3h0M169.9 58.7h0M141.9 82.8h0M156.5 96.3h0M167.7 85.1h0M164.3 91.4h0M138.4 89.3h0M170.8 80.0h0M147.9 85.9h0M135.5 88.1h0M147.7 100.1h0M171.8 72.7h0M144.0 92.7h0M146.3 78.7h0M158.6 90.5h0M130.9 92.6h0M172.6 68.0h0M144.1 105.4h0M169.7 65.2h0M154.4 74.6h0M170.7 68.9h0M152.4 84.5h0M143.0 77.0h0M165.4 56.8h0M153.3 67.5h0M164.8 60.5h0M138.1 104.7h0M164.5 76.6h0M159.8 58.5h0" stroke="#5bb3ba" stroke-width="3.0" stroke-linecap="round"/><path d="M110.9 187.5h0M108.0 152.6h0M119.7 164.9h0M126.3 146.3h0M120.3 172.7h0M113.7 178.1h0M111.1 159.6h0M133.4 121.7h0M122.2 170.6h0M133.2 150.6h0M114.3 172.3h0M105.1 170.5h0M138.2 124.2h0M106.9 173.4h0M129.6 155.7h0M110.5 168.9h0M140.7 134.6h0M139.9 143.7h0M120.5 124.1h0M111.3 188.2h0M139.8 150.2h0M112.6 194.2h0M119.0 198.6h0M135.6 120.0h0M104.7 178.6h0M123.1 144.4h0M125.1 168.4h0M114.5 188.5h0M112.2 174.6h0M130.7 126.3h0M126.7 124.8h0M116.6 199.9h0M113.0 194.5h0M128.7 135.8h0M135.0 148.1h0M115.7 146.1h0M123.8 188.0h0M122.2 132.0h0M113.8 133.8h0M174.8 223.1h0M134.0 125.8h0M116.1 174.7h0M125.1 139.5h0M116.8 135.2h0M135.7 144.7h0M118.8 168.9h0M116.5 161.8h0M132.0 153.9h0M135.0 133.1h0M109.5 148.1h0M97.4 173.5h0M118.8 131.7h0M123.0 153.1h0M95.3 177.8h0M125.4 177.3h0M140.2 128.3h0M125.2 182.5h0M130.5 141.7h0M120.4 135.8h0M119.2 140.8h0M139.1 154.9h0M117.5 194.4h0M115.0 167.6h0M114.7 187.3h0M105.1 184.0h0M138.7 119.9h0M121.4 183.4h0M111.6 144.2h0M116.5 183.3h0M176.6 217.1h0M127.5 150.7h0M118.3 188.3h0M112.8 147.1h0M112.6 136.9h0M118.9 126.6h0M124.2 161.5h0M107.8 180.0h0M115.8 191.2h0M110.2 192.0h0M113.2 152.6h0M125.5 171.2h0M119.9 181.0h0M122.9 147.5h0M128.4 128.1h0M99.6 184.8h0M133.7 139.8h0M115.0 158.0h0M133.4 158.7h0" stroke="#b29b38" stroke-width="3.0" stroke-linecap="round"/><path d="M70.0 113.2h0M79.5 98.1h0M74.5 96.0h0M84.9 122.5h0M90.9 137.3h0M87.2 134.4h0M85.7 100.7h0M65.4 125.0h0M73.6 161.3h0M72.0 97.1h0M89.5 108.4h0M83.5 88.0h0M78.3 87.0h0M67.0 146.2h0M76.9 159.8h0M89.2 103.0h0M72.2 111.2h0M87.2 166.9h0M84.8 163.2h0M61.0 126.9h0M73.1 143.1h0M83.4 168.4h0M68.2 139.1h0M74.5 91.3h0M69.4 98.4h0M83.4 130.8h0M80.8 167.2h0M63.9 145.1h0M80.4 143.2h0M66.9 152.3h0M77.0 89.9h0M65.9 99.1h0M72.5 136.0h0M65.7 106.1h0M76.6 138.6h0M69.0 156.0h0M77.3 142.4h0M61.9 133.3h0M58.8 118.8h0M73.3 108.1h0M72.2 158.9h0M76.4 165.5h0M63.1 129.1h0M68.9 124.3h0M69.2 134.7h0M79.6 162.7h0M89.4 143.7h0M71.1 147.1h0M67.6 111.5h0M59.4 132.2h0M78.4 135.6h0M77.6 128.5h0M71.5 151.2h0M67.8 118.1h0M61.8 137.6h0M73.1 124.9h0M72.4 102.8h0M87.9 138.3h0M84.1 107.2h0M83.5 115.5h0M72.2 115.4h0M80.9 101.7h0M81.9 90.3h0M89.2 148.6h0M59.9 108.8h0M76.1 114.0h0M85.7 142.5h0M69.9 92.3h0M65.2 114.9h0M62.8 99.9h0M90.2 119.0h0M85.0 160.4h0M61.5 122.1h0M80.9 116.2h0M69.2 95.7h0M64.2 111.3h0M78.3 155.7h0M61.3 117.7h0M86.1 131.1h0M74.3 156.8h0M80.8 128.0h0M87.2 117.4h0M71.5 131.5h0M80.5 107.9h0M87.9 112.4h0M58.8 123.5h0M62.3 103.9h0M81.2 118.9h0M76.5 125.6h0M78.6 104.2h0M88.0 95.5h0M84.9 138.6h0M79.5 146.8h0M66.2 142.1h0M76.6 153.6h0M73.9 119.1h0M82.6 112.1h0M83.7 165.7h0M78.9 123.1h0M90.5 98.1h0M73.7 129.0h0M65.1 137.3h0M76.1 109.0h0M90.6 113.5h0M82.5 152.8h0M70.8 118.4h0M69.8 127.9h0M59.8 112.1h0" stroke="#db8178" stroke-width="3.0" stroke-linecap="round"/><path d="M176.3 127.9h0M170.4 168.5h0M170.4 156.4h0M168.4 110.2h0M159.2 133.8h0M171.6 140.4h0M182.0 157.5h0M155.1 115.5h0M159.9 119.0h0M176.7 114.8h0M147.4 127.9h0M162.3 129.9h0M170.8 117.1h0M164.9 116.2h0M155.1 134.9h0M155.6 118.8h0M158.0 114.9h0M164.0 98.6h0M173.6 101.4h0M157.0 111.8h0M179.4 130.3h0M171.7 134.0h0M167.8 115.6h0M169.0 139.8h0M170.2 149.2h0M163.8 122.7h0M157.4 121.0h0M180.0 123.4h0M183.5 122.0h0M168.5 144.7h0M174.4 191.5h0M167.3 135.1h0M159.3 128.7h0M172.7 96.0h0M179.4 104.1h0M175.3 95.1h0M175.2 110.8h0M162.6 120.2h0M163.1 136.3h0M163.7 132.9h0M167.7 132.2h0M170.8 136.7h0M176.6 168.5h0M161.7 103.6h0M178.8 126.8h0M165.7 120.1h0M180.5 136.8h0M158.8 109.5h0M181.8 159.5h0M153.4 125.0h0M170.6 102.1h0M156.0 130.2h0M181.0 155.7h0M174.1 126.1h0M164.2 127.1h0M171.4 143.3h0M173.5 107.3h0M171.8 151.5h0M166.9 125.8h0M180.6 119.3h0M173.3 181.6h0M164.0 112.2h0M177.2 117.6h0M168.5 100.4h0M164.1 139.6h0M174.7 104.4h0M160.6 113.0h0M179.5 108.2h0M168.7 97.6h0M173.3 177.2h0M165.8 104.7h0M178.2 99.3h0M183.1 126.2h0M170.1 105.1h0M170.7 92.3h0M169.2 127.5h0M170.8 122.9h0M176.3 134.7h0M179.7 115.2h0M182.6 129.2h0M174.9 92.3h0" stroke="#7091cb" stroke-width="3.0" stroke-linecap="round"/><path d="M206.6 198.5h0M208.8 199.6h0M206.9 201.5h0M207.7 195.2h0M207.7 202.9h0M209.9 193.0h0M207.3 196.3h0M209.5 194.0h0M210.3 197.4h0M209.9 200.3h0M208.4 192.2h0M208.8 190.8h0" stroke="#c072b6" stroke-width="3.0" stroke-linecap="round"/></g>
<path d="M50.2 42.5V231.3H218.5" fill="none" stroke="#333" stroke-width="1.1"/>
<text x="84.0" y="245.2" font-size="11.8" text-anchor="middle" >-4</text>
<text x="125.5" y="245.2" font-size="11.8" text-anchor="middle" >0</text>
<text x="167.1" y="245.2" font-size="11.8" text-anchor="middle" >4</text>
<text x="208.8" y="245.2" font-size="11.8" text-anchor="middle" >8</text>
<text x="45.5" y="80.1" font-size="11.8" text-anchor="end" >2</text>
<text x="45.5" y="133.8" font-size="11.8" text-anchor="end" >0</text>
<text x="45.5" y="187.5" font-size="11.8" text-anchor="end" >-2</text>
<path d="M84.0 231.3v3M125.5 231.3v3M167.1 231.3v3M208.8 231.3v3M50.2 76.0h-3M50.2 129.7h-3M50.2 183.4h-3" stroke="#333" stroke-width="1.1"/>
<text x="131.2" y="259.2" font-size="11.9" text-anchor="middle" >UMAP_1</text>
<text x="0" y="0" font-size="11.9" text-anchor="middle" transform="translate(30.5,136) rotate(-90)">UMAP_2</text>
<text x="133.1" y="31.8" font-size="14" text-anchor="middle" >mSC</text>
<circle cx="52.9" cy="275.5" r="3.1" fill="#db8178"/>
<text x="61.3" y="279.3" font-size="12" text-anchor="start" >Cluster 1</text>
<text x="120.5" y="279.3" font-size="12" text-anchor="start" >Cd34/Cd55+ fibroblast</text>
<circle cx="52.9" cy="287.4" r="3.1" fill="#b29b38"/>
<text x="61.3" y="291.2" font-size="12" text-anchor="start" >Cluster 2</text>
<text x="120.5" y="291.2" font-size="12" text-anchor="start" >Mmp3+ fibroblast</text>
<circle cx="52.9" cy="299.3" r="3.1" fill="#52aa52"/>
<text x="61.3" y="303.1" font-size="12" text-anchor="start" >Cluster 3</text>
<text x="120.5" y="303.1" font-size="12" text-anchor="start" >Ccn5+ fibroblast</text>
<circle cx="52.9" cy="311.1" r="3.1" fill="#5bb3ba"/>
<text x="61.3" y="314.9" font-size="12" text-anchor="start" >Cluster 4</text>
<text x="120.5" y="314.9" font-size="12" text-anchor="start" >Krt19/Pgf+ fibroblast</text>
<circle cx="52.9" cy="323.0" r="3.1" fill="#7091cb"/>
<text x="61.3" y="326.8" font-size="12" text-anchor="start" >Cluster 5</text>
<text x="120.5" y="326.8" font-size="12" text-anchor="start" >Acta2+ fibroblast</text>
<circle cx="52.9" cy="334.9" r="3.1" fill="#c072b6"/>
<text x="61.3" y="338.7" font-size="12" text-anchor="start" >Cluster 6</text>
<text x="120.5" y="338.7" font-size="12" text-anchor="start" >Endothelial</text>
<path d="M3.2 387.8H255" stroke="#444" stroke-width="1.3"/>
<path d="M3.2 420.2H255" stroke="#444" stroke-width="1.3"/>
<path d="M3.2 627.4H255" stroke="#444" stroke-width="1.3"/>
<text x="7.1" y="400.0" font-size="12" text-anchor="start" >Ligand</text>
<text x="7.1" y="413.0" font-size="12" text-anchor="start" >(Cancer cells)</text>
<text x="139.2" y="400.0" font-size="12" text-anchor="start" >Receptor</text>
<text x="139.2" y="413.0" font-size="12" text-anchor="start" >(Cluster5 fibroblasts)</text>
<text x="7.1" y="432.1" font-size="12" text-anchor="start" >Bmp7</text>
<text x="139.2" y="432.1" font-size="12" text-anchor="start" >Acvr1 (-Bmpr2)</text>
<text x="7.1" y="451.0" font-size="12" text-anchor="start" >Bmp2/Bmp4</text>
<text x="139.2" y="451.0" font-size="12" text-anchor="start" >Bmpr1a (-Bmpr2)</text>
<text x="7.1" y="469.9" font-size="12" text-anchor="start" >Lgals9</text>
<text x="139.2" y="469.9" font-size="12" text-anchor="start" >Colec12</text>
<text x="7.1" y="488.8" font-size="12" text-anchor="start" >Fgf2</text>
<text x="139.2" y="488.8" font-size="12" text-anchor="start" >Fgfr1</text>
<text x="7.1" y="507.7" font-size="12" text-anchor="start" >Lgals9</text>
<text x="139.2" y="507.7" font-size="12" text-anchor="start" >Mrc2</text>
<text x="7.1" y="526.6" font-size="12" text-anchor="start" >Sema3a/Vegfa/Vegfb</text>
<text x="139.2" y="526.6" font-size="12" text-anchor="start" >Nrp1</text>
<text x="7.1" y="545.5" font-size="12" text-anchor="start" >Sema3c/Vegfa</text>
<text x="139.2" y="545.5" font-size="12" text-anchor="start" >Nrp2</text>
<text x="7.1" y="564.4" font-size="12" text-anchor="start" >Pdgfb</text>
<text x="139.2" y="564.4" font-size="12" text-anchor="start" >Pdgfrb</text>
<text x="7.1" y="583.3" font-size="12" text-anchor="start" >Agrn</text>
<text x="139.2" y="583.3" font-size="12" text-anchor="start" >Ptprs</text>
<text x="7.1" y="602.2" font-size="12" text-anchor="start" >Tnfsf12/Grn</text>
<text x="139.2" y="602.2" font-size="12" text-anchor="start" >Tnfsf12a</text>
<text x="7.1" y="621.1" font-size="12" text-anchor="start" >Ntn4</text>
<text x="139.2" y="621.1" font-size="12" text-anchor="start" >Unc5b</text>
<path d="M286.3 538.0H490.5" stroke="#444" stroke-width="1.3"/>
<path d="M286.3 569.8H490.5" stroke="#444" stroke-width="1.3"/>
<path d="M286.3 625.9H490.5" stroke="#444" stroke-width="1.3"/>
<text x="289.3" y="549.8" font-size="12" text-anchor="start" >Ligand</text>
<text x="289.3" y="562.4" font-size="12" text-anchor="start" >(Cancer cells)</text>
<text x="386.1" y="549.8" font-size="12" text-anchor="start" >Receptor</text>
<text x="386.1" y="562.4" font-size="12" text-anchor="start" >(Cluster 5 fibroblasts)</text>
<text x="289.3" y="582.0" font-size="12" text-anchor="start" >Bmp7</text>
<text x="391.7" y="582.0" font-size="12" text-anchor="start" >Acvr1 (-Bmpr2)</text>
<text x="289.3" y="600.3" font-size="12" text-anchor="start" >Bmp2/Bmp4</text>
<text x="391.7" y="600.3" font-size="12" text-anchor="start" >Bmpr1a (-Bmpr2)</text>
<text x="289.3" y="618.6" font-size="12" text-anchor="start" >Lgals9</text>
<text x="391.7" y="618.6" font-size="12" text-anchor="start" >Colec12</text>
<text x="272.2" y="403.9" font-size="11.7" text-anchor="start" >Human</text>
<text x="430.7" y="400.7" font-size="11.7" text-anchor="start" >Mouse</text>
<text x="324.0" y="421.0" font-size="11.7" text-anchor="start" >Ligand</text>
<text x="386.0" y="421.0" font-size="11.7" text-anchor="start" >Receptor</text>
<text x="296.6" y="513.7" font-size="11.7" text-anchor="start" >Cancer cells</text>
<text x="382.0" y="514.9" font-size="11.7" text-anchor="start" >Stromal cells</text>
<g fill="#f3a888"><ellipse cx="280.2" cy="407.9" rx="3.0" ry="3.5"/><path d="M281.4 411.0L281.6 413.6L285.4 414.8L286.8 416.6L289.2 427.0L291.5 435.0L294.4 439.2L296.4 441.8L295.2 443.0L292.8 441.6L289.8 436.0L287.4 428.0L285.5 421.5L285.2 431.0L285.9 439.0L285.3 450.0L284.3 460.0L283.8 468.0L283.5 474.3L285.2 476.6L281.8 477.2L281.4 474.0L281.5 460.0L280.6 445.5L279.8 445.5L278.9 460.0L279.0 474.0L278.6 477.2L275.2 476.6L276.9 474.3L276.6 468.0L276.1 460.0L275.1 450.0L274.5 439.0L275.2 431.0L274.9 421.5L273.0 428.0L270.6 436.0L267.6 441.6L265.2 443.0L264.0 441.8L266.0 439.2L268.9 435.0L271.2 427.0L273.6 416.6L275.0 414.8L278.8 413.6L279.0 411.0Z"/></g>
<g fill="#e9855c" opacity="0.85"><ellipse cx="281" cy="419.8" rx="2.3" ry="3.4"/><ellipse cx="279.8" cy="426.2" rx="2.6" ry="2.4"/><ellipse cx="280.2" cy="433" rx="3.8" ry="3.2"/></g>
<g stroke="#111" stroke-width="0.9" fill="#e8161b" stroke-linejoin="round"><path d="M291 451.5c.6-2.6 2.6-4 5.4-4.2l12.5-.4c2.6-.1 4.3 1.2 5 3.5l2.6 8.4c.7 2.4 0 4.2-2 5.6l-11.5 8.5c-2.2 1.6-4.6 1.4-6.4-.6l-5.2-6.2c-1.5-1.9-2-3.8-1.5-5.9z"/><path d="M313 445.8c.9-2.5 2.6-4.2 5.2-5l8.4-2.2c2.3-.6 4.3-.1 6.2 1.3l8.6 6.3c1.6 1.2 2.7 2.5 3.2 4.4l-1.8.8c-1.3-.9-2.9-.6-3.6.7-.8 1.4-.2 2.9 1.3 3.5l1.3.5-.9 1.9-8.6 10.4c-1.6 1.9-3.6 2.6-6 2.3l-6.4-.9c-2.4-.4-3.9-1.7-4.6-4l-3.2-12.6c-.5-2-.3-3.7.9-5.4z"/><path d="M298.2 471.2c.3-2.4 1.6-3.8 4-4.3l9.2-1.9c2.4-.5 4.4.2 6 2.1l3.6 4.2c1 1.3 1.5 2.6 1.5 4.2l.4 18.2c0 2.6-1.2 4.3-3.7 5.2l-5.2 1.8c-1.4.5-2.7.5-4.1.1l-8.2-2.4c-2.3-.7-3.5-2.3-3.6-4.6z"/></g>
<g fill="#0a0a0a"><ellipse cx="309.5" cy="464.6" rx="6.6" ry="2.5" transform="rotate(-14 309.5 464.6)"/><ellipse cx="327.6" cy="460.6" rx="5.2" ry="6.7" transform="rotate(-22 327.6 460.6)"/><ellipse cx="306.3" cy="485" rx="4.4" ry="7.8" transform="rotate(12 306.3 485)"/></g>
<circle cx="340.4" cy="453.2" r="2.1" fill="#c98a1e" stroke="#333" stroke-width="0.5"/>
<circle cx="345.8" cy="452.0" r="1.1" fill="#c98a1e" stroke="#333" stroke-width="0.4"/>
<g fill="#f4b62a" stroke="#7a5a10" stroke-width="0.5"><circle cx="353.6" cy="447" r="2.45"/><circle cx="364.9" cy="440.3" r="2.45"/><circle cx="377" cy="440.9" r="2.45"/><circle cx="387.8" cy="447.0" r="2.45"/></g>
<path d="M336.4 429.2L349.8 444.6M398.6 431L396.1 446.5" stroke="#444" stroke-width="0.6"/>
<g stroke="#111" stroke-width="0.9" fill="#22a24a" stroke-linejoin="round"><path d="M404.5 495C404 491 408 488.5 413 489C411.5 492.5 408 494.5 404.5 495Z"/><path d="M421.8 457.7C425.5 466 425 480 416.4 489.5L405 472C410 466 416 461 421.8 457.7Z"/><path d="M384.6 462.6C395 463 410 472 418.9 491.2C405 490 390 482 384.6 462.6Z"/><path d="M410.5 442.2C420 439.5 433 443.5 439.6 449.8C433 455 422 459 411.5 458.8Z"/><path d="M413.9 437.8C400 443 390 456 394.1 474.2C408 468 414.5 458 413.9 437.8Z"/></g>
<g fill="#0a0a0a"><ellipse cx="403.2" cy="456" rx="5.1" ry="1.9" transform="rotate(-52 403.2 456)"/><ellipse cx="420.1" cy="451.9" rx="5.5" ry="1.5" transform="rotate(13 420.1 451.9)"/><ellipse cx="402.8" cy="477.1" rx="5" ry="1.9" transform="rotate(42 402.8 477.1)"/><ellipse cx="414.9" cy="474.9" rx="4" ry="1.6" transform="rotate(-62 414.9 474.9)"/></g>
<path d="M393.9 451.3L397.8 454.3M393.9 451.3L392.6 447.4M393.9 451.3L389.6 453.1" stroke="#3d6fc2" stroke-width="1.4" stroke-linecap="round" fill="none"/>
<path fill="#a9a9a9" d="M430.6 441.5L434.2 437.8L434.6 432.9L435.6 428.6L436.9 428.6L437.2 432.2C440 431.5 443 429 446.8 427.9C450 426.8 455 427 457.4 428.6C459 430 461.5 434 462.6 435.9C466 437.6 472 437 476.5 437.3C479 437.5 482.5 439.5 483.8 441.1L482.5 441.5C480 440 478 439.5 476.5 439.6C472 439.6 466 439.5 462.5 439L460.5 440L456.5 441.2L452.5 442.4L451 441.4L454 440.4L449 441L444.8 441.1L441 445.5L438.2 446.1L440.3 443.8L440.5 442.3L435 441.9Z"/>
<path d="M62.2 671.9V777.4H221" fill="none" stroke="#111" stroke-width="1.1"/>
<text x="58.6" y="776.3" font-size="11.8" text-anchor="end" >0.0</text>
<text x="58.6" y="753.4" font-size="11.8" text-anchor="end" >0.5</text>
<text x="58.6" y="730.5" font-size="11.8" text-anchor="end" >1.0</text>
<text x="58.6" y="707.7" font-size="11.8" text-anchor="end" >1.5</text>
<text x="58.6" y="684.8" font-size="11.8" text-anchor="end" >2.0</text>
<path d="M62.2 772.3h-3M62.2 749.4h-3M62.2 726.5h-3M62.2 703.7h-3M62.2 680.8h-3M85.1 777.4v3M122.7 777.4v3M160.3 777.4v3M198.2 777.4v3" stroke="#111" stroke-width="1.1"/>
<text x="0" y="0" font-size="12" text-anchor="middle" transform="translate(33.8,726.5) rotate(-90)">Expression level</text>
<text x="142.2" y="654.1" font-size="12" text-anchor="middle" >Bmp7 (cancer)</text>
<path d="M68.3 772.3h33.6M85.1 772.3V750.7M105.9 772.3h33.6M122.7 772.3V707.0M143.5 772.3h33.6M160.3 772.3V676.5" stroke="#111" stroke-width="0.9" fill="none"/>
<path d="M198.2 687.9 L198.8 687.9 L199.4 695.0 L200.4 705.0 L201.6 715.0 L202.6 726.5 L203.8 738.0 L206.4 749.4 L209.2 757.0 L212.2 763.0 L214.5 768.0 L215.3 771.5 L215.3 772.3 L181.1 772.3 L181.1 771.5 L181.9 768.0 L184.2 763.0 L187.2 757.0 L190.0 749.4 L192.6 738.0 L193.8 726.5 L194.8 715.0 L196.0 705.0 L197.0 695.0 L197.6 687.9Z" fill="#9c82c4" stroke="#111" stroke-width="0.8" stroke-linejoin="round"/>
<text x="0" y="0" font-size="12" text-anchor="end" transform="translate(93.4,787.3) rotate(-45)">Cluster 1</text>
<text x="0" y="0" font-size="12" text-anchor="end" transform="translate(131.0,787.3) rotate(-45)">Cluster 2</text>
<text x="0" y="0" font-size="12" text-anchor="end" transform="translate(168.6,787.3) rotate(-45)">Cluster 3</text>
<text x="0" y="0" font-size="12" text-anchor="end" transform="translate(206.5,787.3) rotate(-45)">Cluster 4</text>
<path d="M245.1 656.4V776.6H403" fill="none" stroke="#111" stroke-width="1.1"/>
<text x="241.6" y="775.9" font-size="11.8" text-anchor="end" >0.0</text>
<text x="241.6" y="744.7" font-size="11.8" text-anchor="end" >0.5</text>
<text x="241.6" y="713.5" font-size="11.8" text-anchor="end" >1.0</text>
<text x="241.6" y="682.3" font-size="11.8" text-anchor="end" >1.5</text>
<path d="M245.1 771.9h-3M245.1 740.7h-3M245.1 709.5h-3M245.1 678.3h-3M260.2 776.6v3M285.5 776.6v3M311.1 776.6v3M336.5 776.6v3M361.9 776.6v3M387.8 776.6v3" stroke="#111" stroke-width="1.1"/>
<text x="317.8" y="653.2" font-size="12" text-anchor="middle" >Acvr1 (fibroblast)</text>
<path d="M260.2 771.9V720.7M311.1 715.7V662.1" stroke="#111" stroke-width="0.8"/>
<path d="M260.2 720.7 L260.7 720.7 L261.8 723.2 L262.3 728.2 L262.8 734.5 L263.2 740.7 L263.3 745.7 L262.9 750.7 L262.6 755.7 L263.7 760.7 L265.7 764.4 L268.7 767.5 L271.0 770.0 L271.6 771.3 L271.6 771.9 L248.8 771.9 L248.8 771.3 L249.4 770.0 L251.7 767.5 L254.7 764.4 L256.7 760.7 L257.8 755.7 L257.5 750.7 L257.1 745.7 L257.2 740.7 L257.6 734.5 L258.1 728.2 L258.6 723.2 L259.7 720.7Z" fill="#e8746c" stroke="#111" stroke-width="0.8" stroke-linejoin="round"/>
<path d="M285.5 710.7 L285.9 710.7 L286.5 715.7 L286.9 722.0 L287.3 731.3 L287.7 740.7 L288.1 746.9 L287.8 753.2 L288.5 759.4 L290.7 764.4 L293.5 767.5 L296.1 770.0 L296.9 771.3 L296.9 771.9 L274.1 771.9 L274.1 771.3 L274.9 770.0 L277.5 767.5 L280.3 764.4 L282.5 759.4 L283.2 753.2 L282.9 746.9 L283.3 740.7 L283.7 731.3 L284.1 722.0 L284.5 715.7 L285.1 710.7Z" fill="#b39d2c" stroke="#111" stroke-width="0.8" stroke-linejoin="round"/>
<path d="M311.1 715.7 L311.6 715.7 L312.9 722.0 L314.1 728.2 L315.4 734.5 L316.6 740.7 L317.3 746.9 L316.3 751.9 L314.7 756.9 L315.3 760.7 L317.6 764.4 L320.1 767.5 L322.0 770.0 L322.5 771.3 L322.5 771.9 L299.7 771.9 L299.7 771.3 L300.2 770.0 L302.1 767.5 L304.6 764.4 L306.9 760.7 L307.5 756.9 L305.9 751.9 L304.9 746.9 L305.6 740.7 L306.8 734.5 L308.1 728.2 L309.3 722.0 L310.6 715.7Z" fill="#2fb14c" stroke="#111" stroke-width="0.8" stroke-linejoin="round"/>
<path d="M336.5 710.7 L337.0 710.7 L338.1 715.7 L339.1 722.0 L340.0 731.3 L340.7 740.7 L341.0 746.9 L340.7 753.2 L340.9 759.4 L342.5 763.8 L345.1 767.5 L347.3 770.0 L347.9 771.3 L347.9 771.9 L325.1 771.9 L325.1 771.3 L325.7 770.0 L327.9 767.5 L330.5 763.8 L332.1 759.4 L332.3 753.2 L332.0 746.9 L332.3 740.7 L333.0 731.3 L333.9 722.0 L334.9 715.7 L336.0 710.7Z" fill="#23b7bd" stroke="#111" stroke-width="0.8" stroke-linejoin="round"/>
<path d="M361.9 676.4 L362.3 676.4 L362.7 684.5 L363.3 697.0 L364.3 709.5 L365.3 718.9 L366.7 728.2 L368.5 737.6 L370.3 745.7 L371.2 753.2 L371.5 759.4 L372.2 765.7 L373.1 769.4 L373.3 771.3 L373.3 771.9 L350.5 771.9 L350.5 771.3 L350.7 769.4 L351.6 765.7 L352.3 759.4 L352.6 753.2 L353.5 745.7 L355.3 737.6 L357.1 728.2 L358.5 718.9 L359.5 709.5 L360.5 697.0 L361.1 684.5 L361.5 676.4Z" fill="#6393d9" stroke="#111" stroke-width="0.8" stroke-linejoin="round"/>
<path d="M376.4 771.9h22.8M387.8 771.9V734.5M386.6 734.5h2.4M386.9 740.7h1.8" stroke="#111" stroke-width="0.9"/>
<text x="0" y="0" font-size="12" text-anchor="end" transform="translate(263.7,786.0) rotate(-45)">Cluster 1</text>
<text x="0" y="0" font-size="12" text-anchor="end" transform="translate(289.0,786.0) rotate(-45)">Cluster 2</text>
<text x="0" y="0" font-size="12" text-anchor="end" transform="translate(314.6,786.0) rotate(-45)">Cluster 3</text>
<text x="0" y="0" font-size="12" text-anchor="end" transform="translate(340.0,786.0) rotate(-45)">Cluster 4</text>
<text x="0" y="0" font-size="12" text-anchor="end" transform="translate(365.4,786.0) rotate(-45)">Cluster 5</text>
<text x="0" y="0" font-size="12" text-anchor="end" transform="translate(391.3,786.0) rotate(-45)">Cluster 6</text>
<text x="28.3" y="23.8" font-size="20" text-anchor="start" font-weight="bold" >A</text>
<text x="278.7" y="23.8" font-size="20" text-anchor="start" font-weight="bold" >B</text>
<text x="480.8" y="23.8" font-size="20" text-anchor="start" font-weight="bold" >C</text>
<text x="5.7" y="380.7" font-size="20" text-anchor="start" font-weight="bold" >D</text>
<text x="272.2" y="380.9" font-size="20" text-anchor="start" font-weight="bold" >E</text>
<text x="10.0" y="654.8" font-size="20" text-anchor="start" font-weight="bold" >G</text>
<text x="272.0" y="532.8" font-size="20" text-anchor="start" >F</text>
<text x="502.2" y="32.1" font-size="16.2" text-anchor="start" >Cluster 1</text>
<text x="502.2" y="192.9" font-size="16.2" text-anchor="start" >Cluster 2</text>
<text x="501.1" y="342.2" font-size="16.2" text-anchor="start" >Cluster 3</text>
<text x="502.2" y="498.9" font-size="16.2" text-anchor="start" >Cluster 4</text>
<text x="505.2" y="659.9" font-size="16.2" text-anchor="start" >Cluster 5</text>
</svg></body></html>
